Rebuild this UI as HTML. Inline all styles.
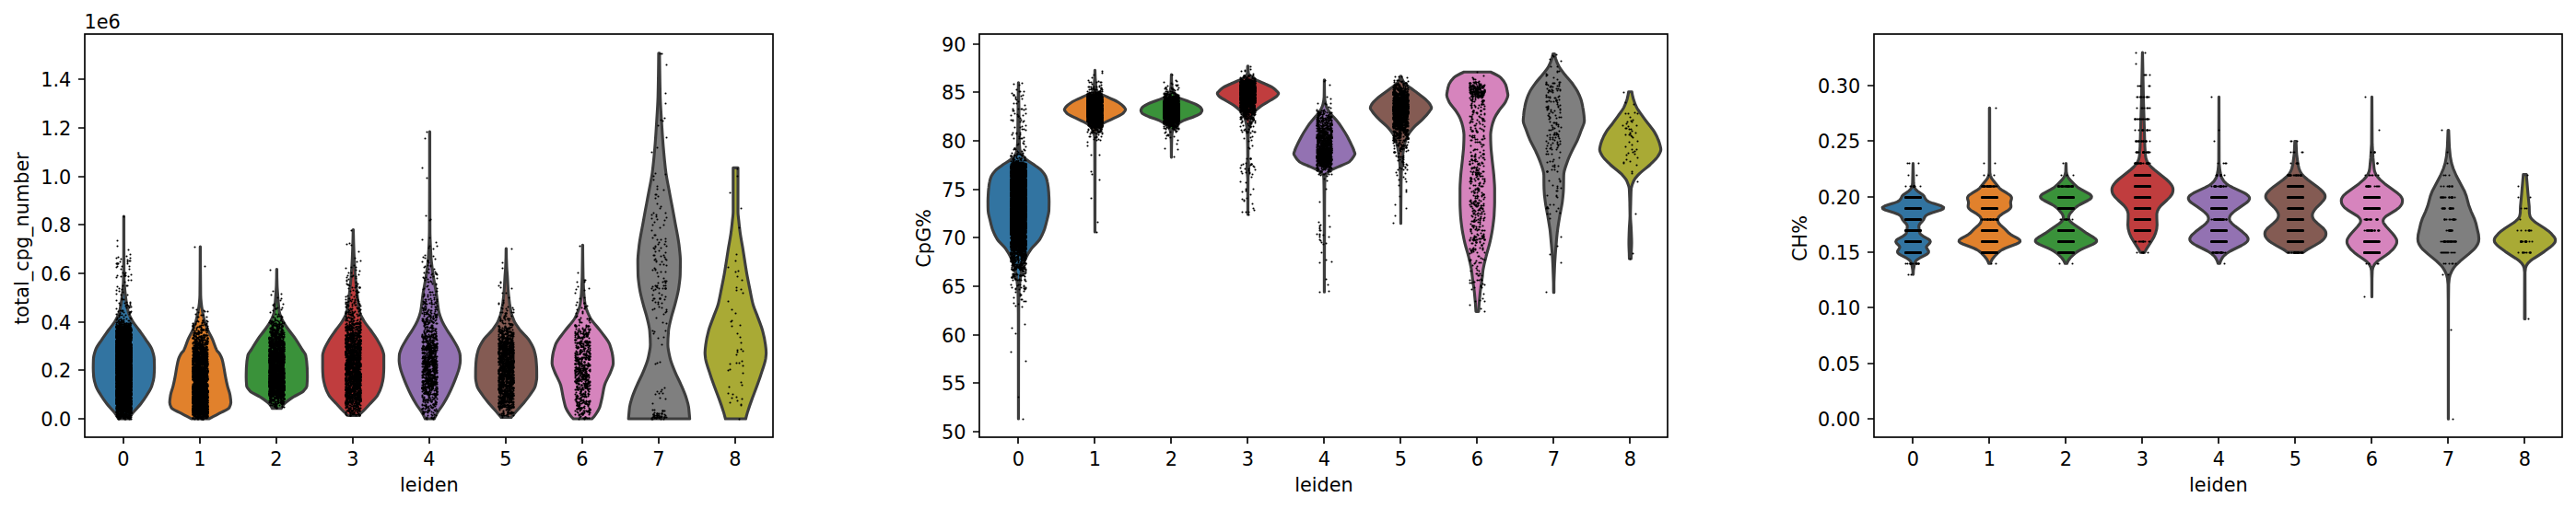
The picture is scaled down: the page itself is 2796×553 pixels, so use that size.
<!DOCTYPE html>
<html><head><meta charset="utf-8"><title>violin</title>
<style>html,body{margin:0;padding:0;background:#fff}svg{display:block}text{font-family:'DejaVu Sans','Liberation Sans',sans-serif;font-size:20.83px;fill:#000}</style></head>
<body>
<svg width="2796" height="553" viewBox="0 0 2796 553">
<rect width="2796" height="553" fill="#fff"/>
<g>
<clipPath id="c0"><rect x="92.4" y="36.9" width="747" height="437.9"/></clipPath>
<g clip-path="url(#c0)">
<g transform="translate(.5 .15)" stroke="#3d3d3d" stroke-width="3.125" stroke-linejoin="round">
<path d="M133.8 235H134C134 253.3 134 271.7 134.1 290C134.1 295 134.2 300 134.3 305C134.4 309.8 135 314.5 135.5 319.3C135.9 322.9 136.3 326.4 136.9 330C137.4 333 137.9 336 138.8 339C139.7 342.3 141.5 345.5 143.4 348.8C145.3 352.1 148.3 355.3 150.6 358.6C152.9 361.9 155.4 365.1 157.5 368.4C160 372.3 163.3 376.1 164.6 380C165.7 383.3 166.8 386.5 166.9 389.8C167 393.1 167.1 396.3 167.1 399.6C167.1 402.9 166.9 406.2 166.6 409.5C166.3 412.8 165.3 416 164.2 419.3C163.1 422.6 160.9 425.8 158.9 429.1C156.9 432.4 154.6 435.6 152.1 438.9C149.5 442.2 145.8 445.5 143.4 448.8C141.9 450.8 140.7 452.9 139.6 454.9H128.2C127.1 452.9 125.9 450.8 124.4 448.8C122 445.5 118.3 442.2 115.7 438.9C113.2 435.6 110.9 432.4 108.9 429.1C106.9 425.8 104.7 422.6 103.6 419.3C102.5 416 101.5 412.8 101.2 409.5C100.9 406.2 100.7 402.9 100.7 399.6C100.7 396.3 100.8 393.1 100.9 389.8C101 386.5 102.1 383.3 103.2 380C104.5 376.1 107.8 372.3 110.3 368.4C112.4 365.1 114.9 361.9 117.2 358.6C119.5 355.3 122.5 352.1 124.4 348.8C126.3 345.5 128.1 342.3 129 339C129.9 336 130.4 333 130.9 330C131.5 326.4 131.9 322.9 132.3 319.3C132.8 314.5 133.4 309.8 133.5 305C133.6 300 133.7 295 133.8 290C133.8 271.7 133.8 253.3 133.8 235Z" fill="#3274a1"/>
<path d="M216.8 268H217C217 285.3 217.1 302.7 217.3 320C217.3 323 217.6 326 217.9 329C218.2 332.3 218.8 335.7 219.4 339C220 342.3 220.7 345.5 221.6 348.8C222.5 352.1 223.8 355.3 225.2 358.6C226.6 361.9 228.7 365.1 230.1 368.4C231.8 372.3 232.6 376.1 234.6 380C235.5 381.6 237.3 383.3 238.2 384.9C239.1 386.5 240 388.2 240.5 389.8C241.5 393.1 242 396.3 242.6 399.6C243.2 402.9 243.7 406.2 244.3 409.5C244.9 412.8 245.6 416 246.4 419.3C247.2 422.6 248.7 425.8 249.2 429.1C249.6 431.7 250.1 434.4 250.1 437C250.1 439 249.3 440.9 248.3 442.9C247.3 444.9 241.5 446.8 237.9 448.8C234.2 450.8 230.3 452.9 226.2 454.9H207.6C203.5 452.9 199.6 450.8 195.9 448.8C192.3 446.8 186.5 444.9 185.5 442.9C184.5 440.9 183.7 439 183.7 437C183.7 434.4 184.2 431.7 184.6 429.1C185.1 425.8 186.6 422.6 187.4 419.3C188.2 416 188.9 412.8 189.5 409.5C190.1 406.2 190.6 402.9 191.2 399.6C191.8 396.3 192.3 393.1 193.3 389.8C193.8 388.2 194.7 386.5 195.6 384.9C196.5 383.3 198.3 381.6 199.2 380C201.2 376.1 202 372.3 203.7 368.4C205.1 365.1 207.2 361.9 208.6 358.6C210 355.3 211.3 352.1 212.2 348.8C213.1 345.5 213.8 342.3 214.4 339C215 335.7 215.6 332.3 215.9 329C216.2 326 216.5 323 216.5 320C216.7 302.7 216.8 285.3 216.8 268Z" fill="#e1812c"/>
<path d="M299.8 292.4H300C300 298.3 300.1 304.1 300.3 310C300.4 313.1 300.7 316.2 300.9 319.3C301.4 325.9 301.7 332.4 302.8 339C303.3 342.3 305 345.5 306.6 348.8C308.2 352.1 310.8 355.3 313.1 358.6C315.4 361.9 318.3 365.1 320.5 368.4C323.1 372.3 325.3 376.1 327.7 380C328.9 382 330.9 383.9 331.3 385.9C332.3 390.5 332.7 395 332.9 399.6C333 402.9 333.1 406.2 333.1 409.5C333.1 412.8 332.9 416 332.6 419.3C332.4 421.3 330.4 423.2 328.4 425.2C326.4 427.2 320.9 429.1 317.9 431.1C314 433.7 310 436.3 307.8 438.9C306.5 440.5 305.4 442 304.7 443.6H295.1C294.4 442 293.3 440.5 292 438.9C289.8 436.3 285.8 433.7 281.9 431.1C278.9 429.1 273.4 427.2 271.4 425.2C269.4 423.2 267.4 421.3 267.2 419.3C266.9 416 266.7 412.8 266.7 409.5C266.7 406.2 266.8 402.9 266.9 399.6C267.1 395 267.5 390.5 268.5 385.9C268.9 383.9 270.9 382 272.1 380C274.5 376.1 276.7 372.3 279.3 368.4C281.5 365.1 284.4 361.9 286.7 358.6C289 355.3 291.6 352.1 293.2 348.8C294.8 345.5 296.5 342.3 297 339C298.1 332.4 298.4 325.9 298.9 319.3C299.1 316.2 299.4 313.1 299.5 310C299.7 304.1 299.8 298.3 299.8 292.4Z" fill="#3a923a"/>
<path d="M382.8 249.4H383C383.1 259.6 383.5 269.8 383.9 280C384.2 286.5 384.6 293.1 385.1 299.6C385.6 306.2 386.3 312.7 387.1 319.3C387.9 325.9 388.4 332.4 389.9 339C390.7 342.3 392.8 345.5 394.7 348.8C396.6 352.1 399.6 355.3 401.9 358.6C404.2 361.9 406.7 365.1 408.6 368.4C410.9 372.3 413.3 376.1 414.6 380C415.2 382 416.1 383.9 416.1 385.9C416.1 390.5 416.1 395 416.1 399.6C416.1 402.9 415.9 406.2 415.6 409.5C415.3 412.8 414.5 416 413.6 419.3C412.7 422.6 411.3 425.8 409.4 429.1C407.5 432.4 403.8 435.6 400.8 438.9C398.4 441.5 396.1 444.2 393.4 446.8C391.9 448.3 390.2 449.7 388.4 451.2H377.4C375.6 449.7 373.9 448.3 372.4 446.8C369.7 444.2 367.4 441.5 365 438.9C362 435.6 358.3 432.4 356.4 429.1C354.5 425.8 353.1 422.6 352.2 419.3C351.3 416 350.5 412.8 350.2 409.5C349.9 406.2 349.7 402.9 349.7 399.6C349.7 395 349.7 390.5 349.7 385.9C349.7 383.9 350.6 382 351.2 380C352.5 376.1 354.9 372.3 357.2 368.4C359.1 365.1 361.6 361.9 363.9 358.6C366.2 355.3 369.2 352.1 371.1 348.8C373 345.5 375.1 342.3 375.9 339C377.4 332.4 377.9 325.9 378.7 319.3C379.5 312.7 380.2 306.2 380.7 299.6C381.2 293.1 381.6 286.5 381.9 280C382.3 269.8 382.7 259.6 382.8 249.4Z" fill="#c03d3e"/>
<path d="M465.8 143H466C466 178.7 466 214.3 466.2 250C466.2 260 466.8 270 467.4 280C467.8 286.5 468.9 293.1 469.8 299.6C470.7 306.2 472.2 312.7 473.2 319.3C474.2 325.9 474.5 332.4 475.9 339C476.6 342.3 477.9 345.5 479.3 348.8C480.7 352.1 482.8 355.3 484.8 358.6C486.8 361.9 489.2 365.1 491.1 368.4C493.4 372.3 496 376.1 497.3 380C498 382 498.8 383.9 498.9 385.9C499 387.9 499.1 389.8 499.1 391.8C499.1 394.4 498.4 397 497.9 399.6C497.2 402.9 495.8 406.2 494.6 409.5C493.4 412.8 492.1 416 490.7 419.3C489.3 422.6 487.8 425.8 486.1 429.1C484.4 432.4 482.6 435.6 480.6 438.9C478.6 442.2 475.8 445.5 473.9 448.8C472.7 450.8 471.7 452.9 470.8 454.9H461C460.1 452.9 459.1 450.8 457.9 448.8C456 445.5 453.2 442.2 451.2 438.9C449.2 435.6 447.4 432.4 445.7 429.1C444 425.8 442.5 422.6 441.1 419.3C439.7 416 438.4 412.8 437.2 409.5C436 406.2 434.6 402.9 433.9 399.6C433.4 397 432.7 394.4 432.7 391.8C432.7 389.8 432.8 387.9 432.9 385.9C433 383.9 433.8 382 434.5 380C435.8 376.1 438.4 372.3 440.7 368.4C442.6 365.1 445 361.9 447 358.6C449 355.3 451.1 352.1 452.5 348.8C453.9 345.5 455.2 342.3 455.9 339C457.3 332.4 457.6 325.9 458.6 319.3C459.6 312.7 461.1 306.2 462 299.6C462.9 293.1 464 286.5 464.4 280C465 270 465.6 260 465.6 250C465.8 214.3 465.8 178.7 465.8 143Z" fill="#9372b2"/>
<path d="M548.8 270H549C549 276.7 549.2 283.3 549.5 290C549.6 293.2 550 296.4 550.2 299.6C550.6 306.2 550.8 312.7 551.4 319.3C552 325.9 552.8 332.4 554.2 339C554.9 342.3 556.1 345.5 557.6 348.8C559.1 352.1 561.6 355.3 564.1 358.6C566.6 361.9 570.9 365.1 573.1 368.4C575.7 372.3 578 376.1 579.2 380C580.2 383.3 580.9 386.5 581.3 389.8C581.6 393.1 581.9 396.3 582 399.6C582.1 402.9 582.1 406.2 582.1 409.5C582.1 412.8 581.3 416 580.5 419.3C579.7 422.6 576.8 425.8 574.6 429.1C572.4 432.4 569.6 435.6 566.9 438.9C564.1 442.2 560.9 445.5 558.1 448.8C556.8 450.3 555.6 451.9 554.4 453.4H543.4C542.2 451.9 541 450.3 539.7 448.8C536.9 445.5 533.7 442.2 530.9 438.9C528.2 435.6 525.4 432.4 523.2 429.1C521 425.8 518.1 422.6 517.3 419.3C516.5 416 515.7 412.8 515.7 409.5C515.7 406.2 515.7 402.9 515.8 399.6C515.9 396.3 516.1 393.1 516.5 389.8C516.9 386.5 517.6 383.3 518.6 380C519.8 376.1 522.1 372.3 524.7 368.4C526.9 365.1 531.2 361.9 533.7 358.6C536.2 355.3 538.7 352.1 540.2 348.8C541.7 345.5 542.9 342.3 543.6 339C545 332.4 545.8 325.9 546.4 319.3C547 312.7 547.2 306.2 547.6 299.6C547.8 296.4 548.2 293.2 548.3 290C548.6 283.3 548.8 276.7 548.8 270Z" fill="#845b53"/>
<path d="M631.8 266.2H632C632 277.5 632.2 288.7 632.4 300C632.5 304.2 632.7 308.5 632.9 312.7C633.2 318.5 633.6 324.2 634.5 330C635.2 334.9 637.5 339.8 639.9 344.7C642.4 349.6 647.7 354.6 651.3 359.5C654.8 364.4 659.6 369.3 661.3 374.2C663 379.1 664.4 384.1 664.8 389C665 391 665.1 392.9 665.1 394.9C665.1 397.8 663.4 400.8 662.3 403.7C660.5 408.6 657.1 413.5 655.7 418.4C654.3 423.3 653.8 428.3 652.7 433.2C652 436.1 651.5 439.1 650.5 442C649.5 445 647.5 447.9 645.4 450.9C644.5 452.2 643.2 453.6 641.9 454.9H621.9C620.6 453.6 619.3 452.2 618.4 450.9C616.3 447.9 614.3 445 613.3 442C612.3 439.1 611.8 436.1 611.1 433.2C610 428.3 609.5 423.3 608.1 418.4C606.7 413.5 603.3 408.6 601.5 403.7C600.4 400.8 598.7 397.8 598.7 394.9C598.7 392.9 598.8 391 599 389C599.4 384.1 600.8 379.1 602.5 374.2C604.2 369.3 609 364.4 612.5 359.5C616.1 354.6 621.4 349.6 623.9 344.7C626.3 339.8 628.6 334.9 629.3 330C630.2 324.2 630.6 318.5 630.9 312.7C631.1 308.5 631.3 304.2 631.4 300C631.6 288.7 631.8 277.5 631.8 266.2Z" fill="#d684bd"/>
<path d="M714.4 57.6H715.4C715.4 64.2 715.5 70.9 715.6 77.5C715.7 86.7 715.9 95.8 716.1 105C716.4 114.2 717 123.3 717.6 132.5C718.2 141.7 718.7 150.8 719.5 160C720.3 169.2 721.1 178.3 722.3 187.5C723.3 194.8 725 202.2 726.3 209.5C728.1 219.3 730.1 229.2 731.8 239C733.5 248.8 735.8 258.6 736.8 268.4C737.3 273.3 738 278.3 738 283.2C738 288.1 737.9 293 737.8 297.9C737.7 302.8 736.9 307.8 736.2 312.7C735.4 318.5 733.8 324.2 732.3 330C731.1 334.9 729.3 339.8 728.1 344.7C726.9 349.6 725.5 354.6 725.1 359.5C724.7 364.4 724.4 369.3 724.4 374.2C724.4 379.1 725.7 384.1 726.8 389C727.9 393.9 730.1 398.8 732.1 403.7C734.1 408.6 736.8 413.5 738.9 418.4C741 423.3 743.2 428.3 744.7 433.2C745.6 436.1 746.5 439.1 746.9 442C747.3 445 747.5 447.9 747.8 450.9C747.9 452.2 748 453.6 748.1 454.9H681.7C681.8 453.6 681.9 452.2 682 450.9C682.3 447.9 682.5 445 682.9 442C683.3 439.1 684.2 436.1 685.1 433.2C686.6 428.3 688.8 423.3 690.9 418.4C693 413.5 695.7 408.6 697.7 403.7C699.7 398.8 701.9 393.9 703 389C704.1 384.1 705.4 379.1 705.4 374.2C705.4 369.3 705.1 364.4 704.7 359.5C704.3 354.6 702.9 349.6 701.7 344.7C700.5 339.8 698.7 334.9 697.5 330C696 324.2 694.4 318.5 693.6 312.7C692.9 307.8 692.1 302.8 692 297.9C691.9 293 691.8 288.1 691.8 283.2C691.8 278.3 692.5 273.3 693 268.4C694 258.6 696.3 248.8 698 239C699.7 229.2 701.7 219.3 703.5 209.5C704.8 202.2 706.5 194.8 707.5 187.5C708.7 178.3 709.5 169.2 710.3 160C711.1 150.8 711.6 141.7 712.2 132.5C712.8 123.3 713.4 114.2 713.7 105C713.9 95.8 714.1 86.7 714.2 77.5C714.3 70.9 714.4 64.2 714.4 57.6Z" fill="#7f7f7f"/>
<path d="M795.3 182.2H800.5C800.5 198.1 800.5 214.1 800.5 230C800.5 233 801 236 801.3 239C801.8 243.9 802.3 248.8 803 253.7C803.7 258.6 804.7 263.5 805.5 268.4C807.1 278.2 808.5 288.1 810.2 297.9C811.1 302.8 812.1 307.8 813.1 312.7C814.3 318.5 815.2 324.2 816.7 330C818 334.9 820.3 339.8 822.1 344.7C823.9 349.6 826 354.6 827.3 359.5C828.6 364.4 829.7 369.3 830.3 374.2C830.7 377.1 831.1 380.1 831.1 383C831.1 385 830.8 387 830.6 389C830 393.9 827.9 398.8 826.4 403.7C824.9 408.6 823.2 413.5 821.4 418.4C819.6 423.3 817.6 428.3 815.8 433.2C814 438.1 812.3 443.1 810.8 448C810.1 450.3 809.5 452.6 808.9 454.9H786.9C786.3 452.6 785.7 450.3 785 448C783.5 443.1 781.8 438.1 780 433.2C778.2 428.3 776.2 423.3 774.4 418.4C772.6 413.5 770.9 408.6 769.4 403.7C767.9 398.8 765.8 393.9 765.2 389C765 387 764.7 385 764.7 383C764.7 380.1 765.1 377.1 765.5 374.2C766.1 369.3 767.2 364.4 768.5 359.5C769.8 354.6 771.9 349.6 773.7 344.7C775.5 339.8 777.8 334.9 779.1 330C780.6 324.2 781.5 318.5 782.7 312.7C783.7 307.8 784.7 302.8 785.6 297.9C787.3 288.1 788.7 278.2 790.3 268.4C791.1 263.5 792.1 258.6 792.8 253.7C793.5 248.8 794 243.9 794.5 239C794.8 236 795.3 233 795.3 230C795.3 214.1 795.3 198.1 795.3 182.2Z" fill="#a9aa35"/>
</g>
<g fill="none" stroke="#000" stroke-linecap="round">
<path d="M134.5 235.5h0m-7 26h0m0 6h0m12 4h0m2 5h0m-4 2h0m-9 1h0m-2 1h0m15 0h0m-10 1h0m7 1h0m2 1h1m-11 1h0m8 0h0m-12 2h2m10 0h0m-11 3h0m5 0h0m8 0h0m-14 1h0m5 2h0m9 0h0m-7 4h0m3 0h0m-1 1h0m7 1h0m-15 1h0m8 0h1m-5 1h0m8 0h0m-13 1h0m13 3h0m3 0h0m-7 2h0m-2 4h0m4 0h1m-11 1h0m2 2h0m3 1h0m-6 1h0m3 1h0m4 1h0m-7 2h0m5 1h0m7 0h0m-6 4h0m0 1h0m2 0h0m-8 1h0m11 2h0m4 0h0m-12 1h0m6 0h0m6 0h0m-11 2h0m7 0h1m3 0h0m-5 1h0m3 0h0m1 1h0m2 0h0m-5 1h0m3 0h0m-14 1h0m4 2h0m2 0h1m-5 1h0m4 0h0m10 0h0m-8 1h0m6 0h1m-11 1h0m-4 1h0m14 0h0m-11 1h1m2 0h0m4 0h0m-7 2h0m5 0h0m-7 1h0m14 0h0m-14 1h0m4 0h0m6 0h0m5 0h0m-16 1h0m3 0h0m2 0h0m3 0h0m-6 1h0m4 0h0m7 0h1m-12 1h1m2 0h1m2 0h0m-8 1h1m3 0h0m2 0h0m2 0h0m7 0h0m-12 1h0m6 0h0m2 0h0m2 0h0m3 0h0m-16 1h0m4 0h5m4 0h2m-14 1h3m5 0h0m2 0h2m2 0h0m-15 1h0m2 0h0m2 0h0m2 0h0m2 0h4m2 0h0m-14 1h5m2 0h0m2 0h0m3 0h3m-14 1h0m2 0h2m2 0h1m2 0h3m3 0h0m-15 1h2m2 0h1m2 0h1m2 0h2m2 0h0m-15 1h7m2 0h2m2 0h0m2 0h1m-16 1h5m2 0h4m2 0h0m2 0h1m-16 1h16m-16 1h1m4 0h10m-15 1h15m-15 1h16m-16 1h3m2 0h9m2 0h0m-16 1h15m-15 1h4m2 0h2m2 0h6m-16 1h11m2 0h3m-15 1h9m2 0h4m-16 1h2m2 0h12m-16 1h6m2 0h6m-14 1h11m2 0h2m-15 1h7m2 0h6m-14 1h14m-15 1h2m2 0h12m-16 1h16m-16 1h16m-16 1h16m-16 1h16m-16 1h16m-16 1h16m-16 1h16m-16 1h12m2 0h2m-16 1h16m-16 1h16m-16 1h10m2 0h2m2 0h0m-16 1h16m-16 1h16m-16 1h3m2 0h0m2 0h9m-16 1h16m-16 1h12m2 0h2m-16 1h9m2 0h3m2 0h0m-16 1h16m-16 1h6m2 0h8m-16 1h7m2 0h7m-16 1h14m2 0h0m-16 1h16m-16 1h16m-16 1h15m-15 1h16m-16 1h16m-16 1h16m-16 1h3m2 0h11m-16 1h16m-16 1h16m-16 1h16m-16 1h16m-15 1h15m-16 1h16m-16 1h10m2 0h4m-16 1h16m-16 1h16m-16 1h2m2 0h12m-16 1h16m-16 1h15m-15 1h12m2 0h2m-16 1h12m2 0h2m-15 1h15m-16 1h4m2 0h9m-15 1h16m-16 1h2m2 0h12m-16 1h16m-16 1h6m2 0h7m-15 1h16m-16 1h11m2 0h3m-16 1h16m-16 1h8m2 0h6m-16 1h16m-16 1h16m-16 1h0m2 0h14m-16 1h15m-15 1h15m-14 1h2m2 0h0m2 0h9m-16 1h15m-15 1h6m2 0h3m2 0h2m-15 1h0m2 0h4m2 0h8m-16 1h4m2 0h4m3 0h3m-16 1h16m-16 1h5m2 0h9m-15 1h5m2 0h8m-15 1h2m2 0h7m2 0h2m-16 1h6m3 0h0m2 0h0m2 0h1m2 0h0m-16 1h11m2 0h3m-16 1h7m2 0h0m2 0h2m2 0h1m-16 1h0m4 0h2m3 0h2m3 0h0m-14 1h3m3 0h4m2 0h1m2 0h1m-15 1h9m2 0h0m2 0h2m-16 1h2m2 0h4m3 0h5m-16 1h0m5 0h2m4 0h0m2 0h3m-15 1h5m3 0h2m3 0h1m-15 1h1m3 0h6m2 0h0m2 0h1m-14 1h6m3 0h1m2 0h0m2 0h1m-16 1h4m2 0h5m2 0h2m-14 1h0m2 0h0m2 0h0m5 0h0m2 0h2m2 0h0m-14 1h2m3 0h2m3 0h1m2 0h0m-13 1h1m6 0h1m4 0h2" stroke-width="2.1"/>
<path d="M127.5 286.5h0m8 13h0m6 40h0m-9 9h0m-3 3h0m8 0h0m-7 1h1m4 0h0m5 0h0m-1 1h0m2 0h0m-15 1h0m4 0h0m4 0h0m2 0h2m2 0h0m-14 1h0m4 0h0m8 0h0m2 0h1m-14 1h0m4 0h0m2 0h0m5 0h1m-12 1h2m2 0h1m2 0h1m2 0h1m3 0h0m-13 1h0m2 0h0m3 0h0m2 0h1m3 0h0m2 0h1m-16 1h0m2 0h0m3 0h0m2 0h3m3 0h0m-13 1h4m3 0h1m2 0h0m2 0h3m-15 1h1m4 0h4m2 0h2m2 0h0m-15 1h1m3 0h0m2 0h3m2 0h0m2 0h0m2 0h0m-15 1h1m2 0h0m2 0h4m3 0h2m2 0h0m-16 1h3m2 0h2m2 0h5m2 0h0m-16 1h2m2 0h1m2 0h0m3 0h2m3 0h0m-15 1h4m2 0h2m3 0h2m2 0h1m-14 1h9m2 0h3m-15 1h5m3 0h1m2 0h3m-13 1h0m2 0h9m2 0h1m-16 1h1m2 0h3m2 0h3m3 0h0m-14 1h4m2 0h2m2 0h0m3 0h2m-15 1h5m2 0h0m2 0h0m3 0h0m2 0h1m-14 1h10m2 0h2m-15 1h2m2 0h0m2 0h10m-16 1h1m2 0h13m-16 1h0m2 0h0m2 0h11m-15 1h3m2 0h1m2 0h1m2 0h5m-16 1h0m2 0h5m2 0h7m-16 1h16m-16 1h4m2 0h7m2 0h1m-16 1h16m-16 1h2m2 0h1m2 0h5m2 0h2m-16 1h16m-16 1h3m2 0h11m-16 1h4m2 0h3m4 0h1m2 0h0m-16 1h16m-16 1h16m-16 1h3m2 0h0m3 0h8m-16 1h15m-15 1h12m2 0h2m-16 1h3m2 0h4m2 0h0m2 0h1m2 0h0m-15 1h15m-16 1h6m3 0h3m2 0h2m-16 1h2m2 0h3m2 0h0m2 0h4m-15 1h14m2 0h0m-16 1h16m-16 1h7m2 0h7m-16 1h2m2 0h0m2 0h2m2 0h5m-15 1h6m2 0h0m2 0h6m-16 1h0m2 0h4m2 0h0m2 0h4m2 0h0m-16 1h3m2 0h2m2 0h7m-16 1h3m2 0h1m2 0h0m2 0h0m2 0h1m2 0h1m-15 1h3m2 0h2m3 0h5m-16 1h7m2 0h7m-16 1h5m2 0h2m2 0h0m3 0h2m-15 1h15m-15 1h0m2 0h2m2 0h9m-16 1h1m3 0h12m-15 1h9m2 0h4m-16 1h6m2 0h1m2 0h5m-16 1h16m-16 1h0m4 0h0m2 0h10m-16 1h16m-16 1h15m-14 1h11m2 0h2m-16 1h12m2 0h2m-15 1h1m2 0h12m-16 1h1m2 0h1m2 0h9m-15 1h3m2 0h9m2 0h0m-16 1h2m2 0h5m3 0h4m-15 1h5m3 0h7m-15 1h5m3 0h6m-15 1h0m3 0h0m3 0h0m2 0h8m-16 1h1m2 0h0m2 0h0m2 0h4m2 0h3m-16 1h0m2 0h0m2 0h1m2 0h8m-15 1h8m2 0h5m-15 1h2m2 0h5m2 0h1m2 0h2m-16 1h2m3 0h3m2 0h0m2 0h0m2 0h2m-16 1h0m2 0h4m2 0h5m2 0h1m-16 1h1m2 0h0m2 0h10m-15 1h3m3 0h5m2 0h2m-14 1h0m2 0h0m2 0h0m2 0h2m2 0h0m2 0h0m2 0h1m-16 1h6m2 0h7m-15 1h0m3 0h0m2 0h1m2 0h3m2 0h2m-15 1h0m2 0h1m3 0h0m2 0h3m2 0h0m2 0h1m-15 1h1m2 0h0m2 0h4m3 0h1m2 0h0m-16 1h1m2 0h12m-15 1h0m2 0h0m2 0h1m3 0h3m2 0h1m2 0h0m-15 1h0m2 0h0m3 0h0m2 0h0m2 0h0m2 0h1m3 0h0m-15 1h1m3 0h2m3 0h0m2 0h0m2 0h1m-14 1h0m3 0h2m5 0h0m2 0h1m-13 1h4m2 0h3m4 0h1m-15 1h2m2 0h1m2 0h0m4 0h0m2 0h0m3 0h0m-12 1h1m9 0h0m-13 1h0m2 0h0m3 0h2m2 0h0m2 0h0m3 0h1m-15 1h0m2 0h1m2 0h4m-10 1h1m4 0h0m2 0h0m4 0h0m-4 1h0m4 0h0m2 0h3m-14 1h0m2 0h0m5 0h0m5 0h0m-13 1h0m3 0h0m5 0h0m-8 1h0m2 0h1m3 0h0m-5 1h0m2 0h0m3 0h1m2 0h1m-1 1h0m3 0h1m-11 1h1" stroke-width="2.6"/>
<path d="M134.5 354.5h0m3 0h0m-11 1h0m4 0h0m8 0h0m2 0h0m-9 1h0m2 0h0m-6 1h0m2 0h0m2 0h0m6 0h0m4 0h0m-5 1h0m3 0h0m2 0h1m-16 1h0m2 0h0m8 0h0m3 0h0m-12 1h2m4 0h1m2 0h0m2 0h0m2 0h1m-9 1h1m2 0h0m2 0h1m3 0h0m-14 1h0m5 0h0m2 0h1m4 0h0m-12 1h0m2 0h0m2 0h2m2 0h0m3 0h1m3 0h0m-14 1h1m2 0h1m3 0h0m2 0h2m-13 1h2m5 0h0m3 0h2m-12 1h1m5 0h2m4 0h0m4 0h0m-14 1h0m3 0h2m2 0h2m2 0h0m2 0h0m-14 1h2m2 0h0m5 0h0m4 0h1m-11 1h2m2 0h0m2 0h2m3 0h0m-15 1h0m3 0h3m2 0h3m3 0h0m-12 1h2m3 0h1m2 0h0m3 0h2m-15 1h5m2 0h0m2 0h0m3 0h0m2 0h1m-14 1h5m3 0h2m3 0h0m-14 1h1m3 0h0m2 0h0m3 0h7m-15 1h0m2 0h10m2 0h0m-15 1h0m4 0h1m4 0h2m2 0h0m2 0h0m-15 1h3m2 0h1m2 0h1m2 0h0m2 0h3m-16 1h0m2 0h4m5 0h3m2 0h0m-16 1h6m3 0h1m2 0h3m-15 1h0m2 0h2m2 0h0m2 0h5m2 0h1m-16 1h6m2 0h4m2 0h2m-16 1h0m2 0h0m2 0h0m3 0h3m2 0h0m2 0h0m2 0h0m-14 1h6m2 0h2m2 0h2m-15 1h2m2 0h0m2 0h1m2 0h2m3 0h0m-15 1h4m2 0h0m2 0h1m4 0h1m2 0h0m-16 1h6m3 0h1m2 0h4m-16 1h2m4 0h5m3 0h0m-13 1h1m3 0h0m3 0h3m2 0h3m-16 1h1m2 0h1m4 0h7m-15 1h3m2 0h7m2 0h2m-16 1h2m3 0h4m4 0h0m3 0h0m-14 1h8m2 0h4m-16 1h4m2 0h0m3 0h3m3 0h0m-14 1h1m3 0h2m2 0h0m2 0h3m-14 1h8m2 0h1m2 0h1m-13 1h0m2 0h2m2 0h2m3 0h1m2 0h0m-15 1h4m3 0h0m2 0h0m2 0h2m3 0h0m-15 1h1m6 0h0m2 0h2m3 0h0m-13 1h1m2 0h1m2 0h0m2 0h1m2 0h0m2 0h1m-16 1h0m2 0h1m3 0h0m2 0h0m2 0h1m2 0h1m2 0h0m-15 1h1m3 0h2m2 0h7m-16 1h3m2 0h1m2 0h0m2 0h0m5 0h1m-15 1h3m3 0h1m3 0h5m-16 1h0m2 0h1m2 0h2m2 0h2m3 0h2m-16 1h0m2 0h3m2 0h0m2 0h0m5 0h1m-14 1h0m2 0h9m2 0h2m-15 1h0m2 0h2m2 0h0m2 0h2m2 0h1m2 0h0m-16 1h0m4 0h1m2 0h1m2 0h1m2 0h3m-15 1h2m2 0h1m2 0h1m3 0h0m2 0h2m-16 1h2m2 0h2m2 0h0m3 0h4m-15 1h2m3 0h1m3 0h5m-14 1h0m4 0h0m3 0h9m-15 1h4m2 0h5m2 0h1m-14 1h0m2 0h2m4 0h0m2 0h4m-13 1h10m3 0h1m-16 1h1m3 0h1m2 0h2m2 0h1m3 0h0m-14 1h1m2 0h2m2 0h1m2 0h5m-15 1h0m2 0h1m2 0h1m2 0h2m3 0h1m-14 1h2m2 0h4m2 0h3m2 0h0m-16 1h0m2 0h0m2 0h2m2 0h1m4 0h2m-13 1h0m2 0h2m4 0h2m2 0h1m-14 1h5m3 0h0m2 0h4m-12 1h0m5 0h1m2 0h1m2 0h0m2 0h0m-16 1h0m3 0h0m2 0h0m2 0h1m3 0h0m2 0h0m-13 1h0m2 0h0m2 0h1m3 0h7m-15 1h1m5 0h0m2 0h0m2 0h2m2 0h1m-15 1h2m5 0h2m3 0h0m2 0h2m-16 1h2m3 0h1m4 0h0m2 0h0m2 0h2m-16 1h0m2 0h1m2 0h0m3 0h1m3 0h1m2 0h0m-14 1h0m4 0h4m4 0h2m-14 1h0m5 0h0m2 0h2m3 0h2m-12 1h0m2 0h0m2 0h1m3 0h0m2 0h0m2 0h1m-16 1h1m4 0h1m2 0h4m3 0h0m-12 1h0m3 0h0m2 0h3m3 0h1m-15 1h0m2 0h1m3 0h0m3 0h1m3 0h0m2 0h1m-15 1h1m8 0h0m3 0h0m-13 1h0m4 0h2m3 0h1m3 0h0m-13 1h0m4 0h0m4 0h0m2 0h1m2 0h1m2 0h0m-15 1h0m2 0h0m3 0h0m2 0h0m2 0h0m2 0h0m-10 1h0m3 0h0m2 0h0m7 0h0m-13 1h0m12 0h1m-13 1h0m2 0h2m2 0h0m2 0h1m5 0h0m-14 1h0m10 0h0m2 0h0m3 0h0m-12 1h0m10 0h0m-6 1h0m4 0h0m3 0h0m-11 1h0m3 0h0m2 0h1m-3 1h0m4 0h0m0 1h0m5 0h0m-14 1h0m1 2h0m4 0h0m-5 1h0m2 0h0m6 0h0m3 1h1" stroke-width="3.0"/>
<path d="M211.5 268.5h0m11 21h0m-13 45h0m4 2h0m8 1h0m1 1h0m3 0h0m-10 1h0m-3 2h0m6 1h0m2 0h0m-6 2h1m9 0h0m-10 4h0m6 0h0m4 0h0m-11 1h0m2 0h0m10 0h0m-6 1h0m2 0h0m-12 1h0m3 0h0m7 0h0m5 0h0m-12 1h0m10 0h0m2 0h0m-15 1h1m8 0h0m2 0h0m3 0h0m-14 1h0m7 0h1m8 0h0m-11 1h0m2 0h0m2 0h0m-8 1h0m3 0h0m5 0h0m7 0h0m-6 1h0m4 0h1m-15 1h0m4 0h0m5 0h0m2 0h1m3 0h0m-13 1h0m4 0h0m4 0h0m4 0h0m2 0h0m-9 1h0m-6 1h2m2 0h2m2 0h0m6 0h0m-14 1h6m-6 1h0m3 0h0m2 0h0m6 0h0m-11 1h0m10 0h1m2 0h2m-13 1h0m4 0h0m2 0h0m3 0h0m-11 1h0m3 0h0m2 0h0m2 0h0m2 0h0m2 0h1m-13 1h1m4 0h0m4 0h1m2 0h0m4 0h0m-14 1h2m2 0h1m3 0h0m6 0h0m-14 1h2m3 0h7m-11 1h2m3 0h3m4 0h1m-15 1h0m2 0h1m3 0h0m3 0h0m4 0h2m-16 1h1m2 0h2m2 0h0m3 0h1m2 0h0m2 0h0m-15 1h0m3 0h2m2 0h3m3 0h0m2 0h1m-13 1h1m2 0h0m4 0h1m2 0h0m-12 1h0m2 0h1m2 0h5m-9 1h3m5 0h1m3 0h1m-15 1h0m4 0h1m2 0h5m2 0h1m-15 1h5m2 0h0m3 0h0m2 0h0m2 0h0m-14 1h0m2 0h1m2 0h0m2 0h1m2 0h1m3 0h0m2 0h0m-14 1h0m3 0h0m3 0h1m2 0h3m2 0h0m-16 1h5m3 0h3m3 0h0m-14 1h2m2 0h9m2 0h0m-13 1h2m2 0h3m2 0h1m3 0h1m-15 1h1m3 0h1m2 0h2m3 0h2m-15 1h0m3 0h4m2 0h1m2 0h1m2 0h1m-16 1h2m2 0h0m2 0h0m4 0h5m-14 1h1m2 0h1m2 0h3m2 0h0m2 0h2m-15 1h7m3 0h4m-15 1h5m2 0h1m2 0h5m-15 1h0m3 0h2m2 0h5m2 0h2m-16 1h0m2 0h1m3 0h2m2 0h0m3 0h2m-15 1h7m3 0h4m2 0h0m-16 1h2m2 0h2m2 0h5m2 0h1m-16 1h1m3 0h8m2 0h2m-16 1h1m3 0h9m2 0h1m-16 1h3m2 0h3m2 0h6m-13 1h5m4 0h4m-14 1h0m2 0h1m2 0h0m2 0h1m2 0h3m-15 1h4m2 0h3m2 0h0m2 0h0m2 0h0m-13 1h1m2 0h2m2 0h0m2 0h5m-16 1h0m2 0h8m2 0h1m3 0h0m-16 1h5m2 0h1m2 0h1m2 0h0m2 0h1m-16 1h0m2 0h7m3 0h4m-15 1h5m3 0h6m-15 1h1m3 0h9m2 0h1m-16 1h0m3 0h3m3 0h6m-15 1h4m2 0h0m2 0h0m2 0h0m2 0h3m-14 1h2m2 0h11m-16 1h1m2 0h3m2 0h1m2 0h3m2 0h0m-15 1h7m3 0h0m2 0h3m-16 1h0m2 0h2m2 0h7m3 0h0m-16 1h2m2 0h7m2 0h0m2 0h1m-14 1h4m2 0h1m2 0h1m2 0h1m-14 1h3m2 0h0m2 0h1m3 0h1m-11 1h1m2 0h2m2 0h0m2 0h1m2 0h0m-12 1h0m2 0h11m-15 1h2m2 0h8m2 0h2m-16 1h0m2 0h1m3 0h4m2 0h4m-16 1h0m2 0h2m2 0h10m-16 1h2m2 0h0m2 0h0m2 0h0m3 0h0m2 0h1m-14 1h0m2 0h1m2 0h8m2 0h0m-15 1h0m2 0h13m-15 1h3m2 0h0m2 0h8m-14 1h4m3 0h0m3 0h0m2 0h1m2 0h0m-16 1h1m2 0h13m-16 1h0m3 0h13m-15 1h1m2 0h1m2 0h1m2 0h5m-15 1h7m2 0h7m-15 1h8m2 0h0m2 0h3m-16 1h6m2 0h4m2 0h1m-15 1h0m2 0h10m2 0h2m-16 1h1m2 0h1m2 0h2m2 0h1m2 0h3m-16 1h4m2 0h0m2 0h2m2 0h4m-16 1h10m2 0h4m-15 1h3m2 0h3m3 0h4m-16 1h0m2 0h11m2 0h0m-15 1h16m-16 1h9m2 0h4m-15 1h0m2 0h14m-16 1h12m3 0h0m-15 1h7m2 0h7m-16 1h16m-16 1h1m2 0h1m2 0h0m2 0h7m-15 1h7m2 0h3m2 0h2m-16 1h15m-15 1h0m2 0h5m2 0h1m3 0h3m-14 1h0m2 0h0m2 0h0m2 0h8m-16 1h1m2 0h13m-16 1h4m3 0h0m2 0h2m2 0h3m-16 1h5m3 0h0m2 0h2m2 0h0m-12 1h0m3 0h3m3 0h5m-15 1h0m2 0h0m2 0h1m3 0h0m2 0h2m2 0h1m-13 1h0m2 0h0m2 0h0m2 0h0m2 0h0m3 0h2m-16 1h0m3 0h0m2 0h1m2 0h0m2 0h0m3 0h0m2 0h0m-13 1h0m3 0h1m3 0h2" stroke-width="2.1"/>
<path d="M220.5 348.5h0m-11 6h0m9 4h0m2 0h0m-2 3h0m-8 3h0m13 0h0m-11 1h0m6 0h0m-9 2h0m16 0h0m-13 3h0m5 0h0m-5 1h0m13 0h0m-12 1h0m3 0h0m8 0h0m-12 1h0m4 0h0m8 0h0m-11 1h0m2 0h0m7 0h0m-10 1h0m1 1h0m6 0h1m-7 1h1m2 0h0m2 0h2m4 0h0m-15 1h3m2 0h0m5 0h0m4 0h0m-12 1h1m5 0h0m2 0h1m3 0h0m-1 1h0m-11 1h3m5 0h0m4 0h0m-12 1h0m4 0h0m4 0h1m-9 1h0m4 0h0m6 0h0m3 0h0m-14 1h1m4 0h0m3 0h0m5 0h1m-11 1h0m5 0h1m3 0h0m2 0h0m-9 1h0m5 0h0m2 0h1m-13 1h1m6 0h2m2 0h0m2 0h0m-13 1h1m2 0h0m4 0h0m3 0h1m3 0h0m-15 1h1m2 0h0m2 0h0m5 0h0m4 0h1m-10 1h0m2 0h0m4 0h0m-11 1h0m8 0h0m5 0h2m-15 1h1m4 0h1m4 0h0m2 0h2m-14 1h0m4 0h0m4 0h1m3 0h1m2 0h0m-11 1h1m2 0h2m-9 1h1m4 0h1m2 0h4m4 0h0m-16 1h0m3 0h0m3 0h0m2 0h0m5 0h2m-12 1h0m2 0h0m8 0h1m-12 1h0m13 0h0m-15 1h0m3 0h0m3 0h1m6 0h0m-11 1h0m4 0h0m3 0h0m3 0h1m-13 1h0m2 0h1m3 0h0m2 0h0m2 0h0m2 0h1m-12 1h0m2 0h2m6 0h0m2 0h0m-13 1h0m3 0h0m5 0h0m4 0h0m4 0h0m-15 1h0m8 0h1m2 0h2m-14 1h1m3 0h1m2 0h3m2 0h1m2 0h0m-12 1h0m8 0h4m-15 1h4m2 0h0m2 0h0m6 0h1m-14 1h0m2 0h0m2 0h1m2 0h0m4 0h3m-15 1h0m4 0h2m2 0h1m4 0h1m-12 1h2m2 0h1m8 0h0m-13 1h0m5 0h5m4 0h0m-16 1h0m2 0h0m2 0h7m5 0h0m-14 1h1m2 0h1m5 0h1m3 0h0m-13 1h1m3 0h0m2 0h1m3 0h1m-11 1h1m2 0h0m4 0h0m2 0h0m3 0h0m-10 1h2m2 0h1m2 0h1m2 0h0m-13 1h0m3 0h2m2 0h1m2 0h0m3 0h1m-13 1h1m3 0h2m2 0h0m3 0h0m2 0h0m-15 1h0m2 0h0m2 0h0m3 0h1m3 0h5m-16 1h0m2 0h0m2 0h0m2 0h0m7 0h0m-13 1h0m6 0h3m3 0h0m-12 1h0m3 0h0m2 0h1m2 0h0m3 0h2m2 0h0m-15 1h0m7 0h2m3 0h3m-14 1h3m4 0h0m5 0h0m3 0h0m-16 1h0m3 0h0m3 0h0m2 0h2m2 0h0m4 0h0m-16 1h0m3 0h2m2 0h1m2 0h0m2 0h0m2 0h2m-15 1h1m2 0h0m3 0h0m3 0h5m-15 1h7m2 0h0m2 0h4m-14 1h1m2 0h1m3 0h1m2 0h0m2 0h0m2 0h0m-15 1h4m2 0h0m2 0h2m2 0h0m2 0h1m-15 1h0m4 0h2m3 0h0m2 0h1m2 0h2m-16 1h0m4 0h0m2 0h2m2 0h1m4 0h0m-15 1h0m2 0h0m2 0h0m2 0h0m2 0h1m4 0h0m-13 1h1m4 0h4m3 0h3m-14 1h3m2 0h1m2 0h0m3 0h4m-16 1h0m2 0h0m4 0h0m2 0h0m2 0h1m2 0h0m2 0h0m-15 1h5m2 0h1m3 0h3m2 0h0m-15 1h1m2 0h5m2 0h4m-13 1h1m3 0h7m2 0h0m-14 1h0m4 0h1m2 0h4m-12 1h1m2 0h0m3 0h0m3 0h7m-15 1h1m2 0h1m5 0h2m2 0h1m-15 1h1m3 0h0m4 0h4m2 0h1m-15 1h0m3 0h1m3 0h0m2 0h2m3 0h2m-16 1h1m3 0h4m2 0h1m2 0h1m-14 1h0m2 0h0m2 0h0m2 0h1m2 0h1m3 0h2m-9 1h0m2 0h0m2 0h1m2 0h0m3 0h0m-16 1h1m4 0h1m4 0h4m-12 1h0m5 0h0m3 0h1m2 0h0m2 0h1m-16 1h0m5 0h0m7 0h0m-10 1h0m3 0h0m3 0h0m3 0h1m2 0h0m-8 1h0m3 0h0m3 0h0m4 0h0m-13 1h0m2 0h0m4 0h0m2 0h0m4 0h0m-15 1h0m11 1h0" stroke-width="2.6"/>
<path d="M216.5 372.5h0m8 0h0m-12 1h0m4 0h0m8 0h0m-12 2h0m8 2h0m-10 1h0m9 0h0m-7 1h0m10 1h0m-3 2h0m-4 1h0m6 0h0m-11 1h0m5 0h0m8 0h0m-10 1h0m6 0h0m3 0h0m-7 1h0m-5 1h0m1 1h0m2 0h0m8 0h0m3 0h0m-14 1h0m10 1h0m4 1h0m-9 1h0m6 0h0m-4 1h0m5 0h0m-9 1h1m2 0h0m-2 1h1m2 0h0m-6 3h0m-2 1h0m7 0h0m-5 1h0m10 0h0m-9 1h0m9 0h1m-10 1h1m9 0h0m-13 1h0m3 0h0m5 0h0m8 0h0m-15 1h0m9 0h0m2 0h0m-3 1h0m4 0h0m0 1h0m-7 1h0m2 0h0m6 0h1m-10 1h1m2 0h0m4 0h1m2 0h0m-15 1h0m14 0h0m-12 1h2m11 0h0m-7 1h2m-4 1h0m4 0h0m-8 1h0m3 0h1m9 0h0m-12 1h0m5 0h0m4 0h1m-11 1h0m3 1h0m3 0h0m3 0h1m-7 1h0m3 0h1m2 0h0m-9 1h1m4 0h1m2 0h0m3 0h0m2 0h0m0 1h0m-2 1h0m-13 1h0m7 0h2m-6 1h0m2 0h0m3 0h0m5 0h0m2 0h0m-8 1h2m3 0h0m-9 1h1m4 0h0m-8 1h0m8 0h0m4 0h0m4 0h0m-16 1h0m3 0h0m2 0h0m5 0h0m2 0h0m2 0h1m-14 1h1m2 0h0m8 0h0m2 0h1m-13 1h1m2 0h0m2 0h0m6 0h0m2 0h0m-10 1h0m3 0h0m3 0h0m4 0h0m-14 1h3m2 0h0m2 0h2m2 0h0m-8 1h1m11 0h0m-6 1h0m5 0h0m-15 1h0m2 0h0m4 0h0m7 0h0m-13 1h1m4 0h0m2 0h2m-8 1h1m2 0h0m2 0h0m6 0h2m-12 1h0m4 0h0m2 0h0m2 0h0m3 0h0m2 0h0m-15 1h5m2 0h1m3 0h2m-11 1h0m2 0h3m6 0h1m-8 1h2m2 0h2m-11 1h0m4 0h1m3 0h3m-11 1h0m2 0h0m3 0h0m3 0h0m2 0h2m3 0h0m-15 1h0m3 0h1m6 0h1m2 0h0m-10 1h0m6 0h0m2 0h0m3 0h0m-15 1h0m4 0h0m7 0h0m4 0h1m-16 1h1m3 0h0m3 0h1m2 0h0m3 0h0m-13 1h0m2 0h0m5 0h0m2 0h1m3 0h0m0 1h0m3 0h0m-10 1h0m8 0h0m-7 1h0m3 0h0m3 0h0m2 0h0m-13 2h0m10 0h0m-7 2h0" stroke-width="3.0"/>
<path d="M293.5 293.5h0m3 23h0m9 3h0m-11 1h0m7 3h0m4 1h0m-1 2h0m-7 4h0m10 0h0m-11 1h0m1 1h0m4 2h0m5 0h0m-7 1h0m6 1h0m-9 1h0m-3 2h0m6 2h0m3 0h0m-1 2h0m2 0h0m2 0h0m-9 1h0m5 0h0m4 0h1m-8 1h0m7 1h0m-7 1h1m6 0h0m-12 1h0m6 0h0m2 0h0m3 0h0m-10 1h1m2 0h0m5 0h0m4 0h0m-14 1h0m4 0h0m7 0h0m5 0h0m-14 1h0m3 0h0m2 0h0m4 0h0m3 0h0m2 0h0m-12 1h0m5 0h1m2 0h1m-10 1h0m2 0h3m3 0h0m-7 1h0m3 0h2m2 0h0m3 0h0m-11 1h1m7 0h0m-10 1h0m7 0h2m2 0h1m-12 1h1m2 0h1m4 0h1m4 0h0m-11 1h0m2 0h0m2 0h1m5 0h0m-10 1h1m4 0h2m3 0h2m-14 1h2m3 0h1m5 0h1m-12 1h0m2 0h1m4 0h1m4 0h1m2 0h0m-14 1h4m2 0h0m3 0h0m4 0h0m-13 1h2m2 0h0m2 0h0m3 0h0m2 0h1m2 0h0m-14 1h6m3 0h0m2 0h0m-10 1h2m3 0h0m2 0h0m3 0h1m2 0h0m-16 1h0m2 0h1m3 0h6m2 0h2m-16 1h2m4 0h1m2 0h1m2 0h0m-12 1h0m3 0h2m2 0h5m3 0h0m-13 1h2m3 0h0m3 0h0m2 0h1m-13 1h0m2 0h0m2 0h0m2 0h0m2 0h0m2 0h5m-15 1h3m6 0h2m2 0h1m2 0h0m-16 1h1m3 0h12m-15 1h5m2 0h0m2 0h4m2 0h0m-15 1h1m2 0h0m2 0h8m2 0h0m-16 1h11m2 0h0m3 0h0m-16 1h2m2 0h0m3 0h0m2 0h3m3 0h0m-13 1h1m3 0h1m3 0h0m2 0h0m2 0h2m-15 1h1m3 0h3m2 0h5m-15 1h1m4 0h6m2 0h3m-16 1h2m3 0h4m2 0h1m2 0h1m-15 1h2m2 0h1m2 0h1m3 0h5m-15 1h4m4 0h1m3 0h2m-14 1h8m2 0h4m-15 1h3m2 0h6m2 0h3m-15 1h2m2 0h0m2 0h9m-16 1h0m2 0h9m3 0h0m2 0h0m-16 1h4m2 0h0m2 0h5m3 0h0m-14 1h4m2 0h3m3 0h2m-16 1h2m2 0h12m-16 1h4m2 0h4m2 0h1m2 0h1m-16 1h3m2 0h1m2 0h2m2 0h2m2 0h0m-16 1h1m2 0h1m3 0h0m3 0h3m2 0h1m-16 1h4m5 0h7m-16 1h1m2 0h2m3 0h1m2 0h5m-16 1h8m3 0h4m-15 1h0m3 0h9m2 0h1m-15 1h10m2 0h3m-15 1h4m2 0h0m2 0h5m-13 1h6m3 0h3m2 0h1m-15 1h1m2 0h6m2 0h0m2 0h3m-16 1h14m2 0h0m-16 1h3m2 0h4m2 0h5m-16 1h4m2 0h1m2 0h3m2 0h2m-16 1h7m3 0h2m2 0h0m-14 1h2m2 0h3m2 0h7m-15 1h1m2 0h12m-16 1h8m2 0h2m2 0h1m-15 1h6m2 0h8m-16 1h4m2 0h2m2 0h0m2 0h3m-15 1h0m2 0h0m2 0h5m2 0h5m-16 1h11m2 0h3m-16 1h1m3 0h1m2 0h1m2 0h5m-15 1h1m2 0h6m2 0h3m2 0h0m-16 1h9m2 0h3m2 0h0m-16 1h2m2 0h12m-16 1h10m2 0h1m2 0h1m-16 1h16m-16 1h4m2 0h5m2 0h3m-16 1h0m2 0h14m-16 1h10m3 0h1m2 0h0m-16 1h10m2 0h0m2 0h2m-14 1h2m2 0h10m-16 1h5m3 0h2m2 0h0m2 0h2m-16 1h0m4 0h2m2 0h8m-16 1h8m3 0h4m-14 1h2m2 0h1m3 0h6m-15 1h2m2 0h2m2 0h7m-15 1h0m4 0h0m2 0h2m2 0h3m2 0h1m-16 1h0m2 0h3m2 0h9m-16 1h4m6 0h5m-13 1h0m3 0h0m2 0h2m3 0h0m2 0h0m-13 1h1m4 0h4m2 0h1m2 0h0m-14 1h0m5 0h0m3 0h1m2 0h0m4 0h0m-13 1h2m4 0h0m4 0h0m-13 1h1m3 0h0m6 0h0m3 0h2m-14 1h1m4 0h3m4 0h0m2 0h1m-16 1h0m2 0h0m4 0h0m4 0h0m2 0h3m-13 1h0m2 0h0m3 0h0m2 0h0m4 0h0m2 0h0m-11 1h4m6 0h0m-13 1h0m2 0h0m3 0h2m3 0h0m-6 1h0m3 0h0m6 0h0m-8 1h2m6 0h0m2 0h0m-8 1h0" stroke-width="2.1"/>
<path d="M299.5 335.5h0m-4 14h0m-1 2h0m5 0h0m2 3h0m5 0h0m-11 1h0m-1 2h0m8 0h0m-5 1h0m9 1h0m-13 1h0m6 0h0m-3 1h0m5 0h0m-4 1h1m-2 1h0m2 0h0m2 0h0m3 0h0m2 0h0m-7 1h0m7 0h0m-7 2h0m2 0h0m3 0h0m3 0h0m-14 1h1m6 0h0m3 0h0m-10 1h0m4 0h0m4 0h0m-5 1h0m-1 1h0m4 0h0m2 0h0m4 0h2m-13 1h0m2 0h0m11 0h0m-14 1h1m3 0h0m2 0h2m4 0h2m-11 1h0m2 0h0m3 0h0m2 0h0m6 0h0m-15 1h1m2 0h0m4 0h0m2 0h4m2 0h0m-14 1h3m4 0h2m-9 1h0m2 0h0m5 0h2m4 0h0m-12 1h0m12 0h1m-11 1h2m3 0h2m2 0h0m-14 1h0m6 0h0m3 0h0m2 0h0m3 0h2m-15 1h1m3 0h0m9 0h0m-14 1h2m3 0h0m3 0h0m7 0h1m-15 1h0m2 0h2m4 0h0m4 0h2m-14 1h2m2 0h2m4 0h0m2 0h0m-13 1h0m2 0h1m2 0h0m4 0h2m2 0h1m-13 1h1m3 0h0m2 0h5m3 0h0m-15 1h0m2 0h0m2 0h2m2 0h1m5 0h0m-12 1h2m4 0h0m2 0h0m2 0h0m4 0h0m-14 1h0m3 0h0m4 0h2m3 0h2m-16 1h2m2 0h0m2 0h2m2 0h5m-14 1h0m3 0h0m2 0h0m2 0h1m3 0h1m2 0h1m-16 1h0m2 0h1m2 0h1m2 0h0m6 0h0m-13 1h0m2 0h1m3 0h0m3 0h0m2 0h1m-13 1h2m2 0h0m5 0h2m2 0h3m-15 1h0m2 0h2m4 0h0m4 0h2m-14 1h1m6 0h0m4 0h3m-12 1h0m2 0h5m2 0h0m2 0h0m-13 1h0m3 0h0m2 0h1m2 0h0m3 0h0m2 0h1m-14 1h3m2 0h0m2 0h1m2 0h0m2 0h0m-12 1h0m3 0h0m2 0h0m3 0h2m-10 1h0m3 0h4m3 0h0m2 0h2m-14 1h0m2 0h2m7 0h0m2 0h0m-14 1h1m4 0h0m4 0h0m3 0h0m2 0h1m-15 1h3m3 0h0m5 0h0m4 0h0m-15 1h2m2 0h0m2 0h1m3 0h2m2 0h0m-12 1h0m4 0h1m2 0h2m3 0h2m-15 1h0m3 0h2m2 0h2m3 0h2m-15 1h0m3 0h0m2 0h1m2 0h0m3 0h1m2 0h0m-14 1h2m3 0h1m2 0h1m3 0h0m2 0h2m-15 1h3m6 0h0m2 0h3m-15 1h0m2 0h0m3 0h1m2 0h1m2 0h1m2 0h2m-16 1h0m2 0h0m4 0h1m2 0h0m2 0h0m3 0h1m-15 1h1m3 0h0m3 0h0m4 0h0m2 0h0m2 0h0m-11 1h2m2 0h0m3 0h1m2 0h0m-14 1h4m2 0h3m2 0h0m3 0h0m2 0h0m-16 1h2m2 0h1m3 0h0m2 0h1m2 0h0m3 0h0m-16 1h2m2 0h2m2 0h0m2 0h0m3 0h0m-13 1h1m2 0h3m2 0h0m4 0h0m2 0h0m-14 1h3m5 0h0m2 0h0m3 0h1m-14 1h0m2 0h6m2 0h2m4 0h0m-15 1h9m4 0h0m2 0h0m-15 1h4m5 0h0m2 0h0m2 0h2m-13 1h1m4 0h1m2 0h3m-13 1h0m2 0h1m6 0h0m2 0h0m4 0h0m-11 1h1m2 0h1m5 0h1m-15 1h0m3 0h0m2 0h1m2 0h0m5 0h1m-12 1h1m2 0h1m5 0h0m2 0h0m2 0h0m-15 1h0m2 0h0m2 0h0m2 0h0m3 0h4m-13 1h0m8 0h0m2 0h0m6 0h0m-13 1h0m4 0h0m2 0h0m2 0h0m4 0h1m-12 1h0m7 0h1m3 0h0m-13 1h0m6 0h0m-7 1h0m5 0h3m4 0h0m3 1h0m-13 1h2m8 0h0m-12 1h0m3 0h0m6 0h0m3 1h0m-3 1h0m4 0h0m-1 1h0m2 0h0m-7 5h0" stroke-width="2.6"/>
<path d="M306.5 354.5h0m-9 4h0m2 2h0m4 3h0m2 0h0m-13 4h0m7 0h0m3 0h0m-7 2h0m-1 1h0m10 0h0m1 2h0m-8 1h0m3 0h0m2 0h0m-9 1h1m8 0h0m3 0h0m-10 1h0m2 0h0m6 1h0m4 0h0m0 1h0m-10 1h1m4 0h2m-11 2h0m13 0h0m-14 1h0m5 0h0m10 0h0m-11 1h0m5 0h0m4 0h1m-13 1h1m4 0h1m4 0h0m2 0h0m-8 1h0m8 0h1m-5 1h3m-12 1h0m5 0h1m2 0h0m6 0h0m-12 1h1m7 0h0m6 0h0m-14 1h0m8 0h1m3 0h0m-12 1h0m2 0h0m4 0h0m5 0h0m2 0h0m-14 1h0m8 0h0m-9 1h0m2 0h0m3 0h0m3 0h0m-7 1h0m2 0h0m4 0h0m5 0h1m-13 1h2m2 0h0m6 0h0m3 0h2m-14 1h0m2 0h0m2 0h0m8 0h1m-6 1h0m4 0h0m3 0h0m-9 1h3m3 0h0m-5 1h0m2 0h0m3 0h0m3 0h0m-13 1h2m2 0h0m7 0h0m-12 1h0m5 0h0m3 0h1m-5 1h0m2 0h1m6 0h1m-14 1h0m3 0h1m7 0h0m-7 1h0m4 0h0m-7 1h0m4 0h0m-6 1h0m2 0h0m2 0h0m3 0h0m4 0h1m2 0h0m-8 1h1m4 0h0m3 0h0m2 0h0m-15 1h0m4 0h1m2 0h0m6 0h0m-3 1h1m-7 1h0m3 0h1m5 0h1m-14 1h1m10 0h3m-4 1h0m3 0h0m-8 1h0m5 0h0m3 0h1m-14 1h0m3 0h0m7 0h0m2 0h0m-9 1h0m8 0h0m2 0h0m-14 1h1m5 0h3m5 0h0m-14 1h0m2 0h0m9 0h0m2 0h0m3 0h0m-14 1h0m2 0h2m-3 1h3m8 0h0m-12 1h1m5 0h0m5 0h0m-13 1h0m3 0h0m3 0h0m2 0h0m2 0h1m5 0h0m-15 1h1m2 0h0m4 0h0m2 0h0m-9 1h0m2 0h0m12 0h1m-12 1h0m5 0h0m3 0h1m3 1h0m-7 1h0m5 0h0m-11 1h0m3 0h0m2 0h0m3 1h0m4 0h0m-15 1h0m2 0h0m2 0h0m2 0h0m3 0h1m3 0h0m-13 1h0m9 1h0m2 1h0m4 0h0m-14 2h0m12 0h0m3 1h0m-13 1h2m8 2h0" stroke-width="3.0"/>
<path d="M381.5 250.5h0m-2 14h0m-3 1h0m5 1h0m8 7h0m-4 7h0m6 3h0m-4 1h0m-3 4h0m-3 2h0m5 0h0m-11 1h0m11 2h0m4 1h0m-12 2h0m3 0h0m8 2h0m-12 1h0m6 0h0m-2 1h1m4 0h0m-10 1h0m10 1h0m-8 1h0m-2 1h0m0 1h0m10 1h0m0 1h0m-10 1h0m12 0h0m-11 1h1m1 1h0m7 0h1m0 1h0m-5 1h0m3 0h0m5 0h0m-12 1h0m5 2h0m4 0h0m-7 1h0m6 0h0m1 1h2m-2 1h0m-6 2h0m5 0h0m-9 1h0m10 0h0m-12 1h0m9 0h0m3 1h0m-9 1h1m-4 1h0m7 0h0m3 0h0m3 0h0m-8 1h0m5 0h0m3 0h0m-10 1h0m3 0h0m8 0h0m-14 1h0m2 0h0m7 0h1m-10 1h0m9 0h0m5 0h0m-14 1h0m7 0h0m8 0h0m-13 1h0m8 0h1m4 0h0m-14 1h0m2 0h0m4 0h0m9 0h0m-16 1h0m1 1h0m11 0h0m2 0h0m-9 1h0m2 0h0m6 0h0m-10 1h0m3 0h0m9 0h1m-12 1h0m11 0h0m-15 1h0m3 0h0m4 0h0m3 0h0m4 0h0m-14 1h1m2 0h0m2 0h0m4 0h0m-9 1h0m7 0h1m8 0h0m-13 1h1m2 0h1m5 0h0m-7 1h0m2 0h0m7 0h1m-15 1h0m8 0h0m5 0h0m-10 1h0m6 0h0m-8 1h0m3 0h2m3 0h0m-8 1h0m6 0h0m9 0h0m-16 1h0m6 0h0m7 0h0m3 0h0m-16 1h0m2 0h0m6 0h1m3 0h0m-8 1h2m2 0h0m7 0h0m-11 1h0m12 0h0m-15 1h0m6 0h0m3 0h0m2 0h0m2 0h0m2 0h0m-16 1h0m4 0h0m3 0h3m5 0h0m-13 1h0m3 0h0m4 0h0m7 0h0m-15 1h0m3 0h0m2 0h0m6 0h0m2 0h0m2 0h0m-16 1h2m2 0h0m3 0h1m3 0h0m3 0h0m2 0h0m-16 1h0m2 0h0m2 0h1m3 0h1m4 0h2m-13 1h5m5 0h0m4 0h0m-16 1h5m5 0h1m2 0h0m3 0h0m-16 1h2m3 0h0m2 0h1m5 0h2m-1 1h1m-13 1h0m5 0h1m2 0h2m4 0h0m-14 1h0m3 0h3m4 0h3m-13 1h1m3 0h1m2 0h0m5 0h0m-14 1h2m3 0h1m2 0h2m2 0h1m2 0h0m-14 1h0m3 0h5m5 0h0m2 0h0m-15 1h1m2 0h0m2 0h1m2 0h0m4 0h2m-15 1h6m2 0h1m2 0h1m-12 1h4m2 0h3m3 0h0m3 0h0m-15 1h0m2 0h0m3 0h2m4 0h0m2 0h0m2 0h1m-16 1h0m3 0h0m4 0h1m2 0h0m3 0h1m2 0h0m-16 1h0m2 0h0m3 0h0m2 0h0m2 0h1m3 0h0m2 0h0m-15 1h2m5 0h0m2 0h0m4 0h0m2 0h0m-15 1h0m2 0h1m3 0h0m3 0h2m2 0h3m-15 1h0m3 0h0m5 0h2m2 0h2m-13 1h5m5 0h1m2 0h0m-15 1h2m3 0h1m2 0h2m2 0h3m-15 1h0m2 0h0m2 0h1m2 0h0m2 0h3m4 0h0m-15 1h2m2 0h0m4 0h1m2 0h4m-15 1h0m4 0h4m3 0h4m-15 1h11m3 0h1m-16 1h1m4 0h3m4 0h0m2 0h1m-15 1h0m3 0h4m2 0h4m3 0h0m-16 1h0m2 0h2m2 0h3m3 0h1m2 0h1m-16 1h0m2 0h0m2 0h1m2 0h1m3 0h0m2 0h0m3 0h0m-16 1h2m4 0h4m2 0h2m-14 1h3m2 0h1m2 0h0m2 0h6m-15 1h1m2 0h3m2 0h1m3 0h2m-15 1h0m2 0h1m2 0h0m2 0h4m3 0h0m2 0h0m-14 1h12m2 0h0m-14 1h6m2 0h6m-15 1h2m4 0h2m2 0h0m2 0h2m-11 1h1m6 0h0m3 0h1m-14 1h0m2 0h3m2 0h1m3 0h3m-15 1h0m3 0h2m3 0h5m2 0h0m-13 1h0m2 0h5m3 0h1m2 0h1m-16 1h7m3 0h1m2 0h3m-15 1h4m2 0h1m4 0h2m2 0h0m-15 1h0m2 0h1m2 0h3m2 0h0m2 0h3m-16 1h1m2 0h0m2 0h5m2 0h2m-14 1h5m2 0h1m2 0h4m-14 1h4m5 0h7m-15 1h0m2 0h1m4 0h0m2 0h4m-13 1h0m2 0h4m2 0h4m-12 1h2m2 0h0m2 0h5m2 0h1m-12 1h1m2 0h1m3 0h1m2 0h2m-15 1h1m2 0h0m2 0h0m2 0h0m2 0h5m2 0h0m-14 1h3m2 0h0m3 0h2m2 0h2m-16 1h0m4 0h1m3 0h3m2 0h3m-15 1h0m5 0h4m2 0h4m-16 1h0m3 0h1m2 0h1m2 0h3m3 0h1m-16 1h0m3 0h7m2 0h1m2 0h1m-15 1h0m3 0h2m2 0h1m2 0h0m2 0h3m-16 1h2m2 0h1m4 0h1m2 0h0m2 0h2m-16 1h1m3 0h3m2 0h0m2 0h0m2 0h0m2 0h1m-16 1h0m3 0h0m2 0h0m3 0h0m3 0h2m-13 1h1m2 0h0m2 0h1m2 0h2m2 0h4m-16 1h0m2 0h0m3 0h1m2 0h2m3 0h2m-14 1h2m2 0h1m3 0h5m2 0h0m-13 1h2m3 0h7m-15 1h1m2 0h1m3 0h1m4 0h0m3 0h0m-14 1h0m2 0h1m5 0h1m2 0h0m2 0h1m-15 1h5m2 0h4m2 0h0m2 0h1m-16 1h4m2 0h3m3 0h1m3 0h0m-15 1h1m2 0h6m4 0h0m2 0h0m-15 1h0m4 0h6m3 0h2m-16 1h0m3 0h1m2 0h0m3 0h0m3 0h1m3 0h0m-16 1h2m2 0h1m4 0h0m4 0h3m-16 1h2m2 0h2m2 0h0m2 0h3m-13 1h1m2 0h1m3 0h0m2 0h3m2 0h2m-16 1h2m2 0h0m2 0h1m2 0h1m3 0h0m2 0h1m-16 1h1m2 0h5m4 0h4m-14 1h2m2 0h1m3 0h1m5 0h0m-15 1h4m2 0h0m2 0h3m2 0h0m2 0h0m-15 1h1m5 0h0m3 0h0m2 0h0m2 0h0m2 0h0m-16 1h1m3 0h4m3 0h0m5 0h0m-14 1h0m2 0h3m3 0h0m2 0h0m3 0h0m-15 1h0m2 0h1m2 0h2m4 0h0m2 0h2m-15 1h3m3 0h0m3 0h0m2 0h0m2 0h1m-14 1h0m2 0h0m5 0h0m5 0h3m-15 1h0m4 0h1m4 0h3m4 0h0m-15 1h1m4 0h0m2 0h1m2 0h2m-13 1h2m9 0h1m-12 1h0m3 0h2m3 0h0m2 0h0m4 0h0m2 0h0m-11 1h0m4 0h0m2 0h0m2 0h0m2 0h0m-12 1h1m2 0h0m2 0h0m3 0h0m2 0h0m-12 1h2m4 0h0m3 0h0m3 0h2m-11 1h1m2 0h0m5 0h0m-12 1h0m5 0h0m4 0h0m4 0h0m-8 1h0m2 0h0m2 0h0m5 0h0m-14 1h0m7 0h2m2 0h0m2 0h0m2 0h0m-14 1h0m4 0h0m6 0h0m4 0h0" stroke-width="2.1"/>
<path d="M390.5 312.5h0m-13 19h0m-2 9h0m7 2h0m-6 3h0m6 1h0m0 5h0m5 0h0m2 0h0m-6 1h0m-3 1h0m-1 1h0m2 0h0m-6 1h0m2 0h0m5 0h0m4 0h0m-6 2h1m10 1h0m-2 1h0m1 1h0m-13 1h0m8 0h0m-5 1h1m6 0h0m-9 1h0m4 0h0m2 0h0m-9 1h0m5 0h0m5 0h0m2 0h0m-6 1h0m2 0h0m8 0h0m-15 1h0m5 0h1m-5 1h1m2 0h1m5 0h1m-12 1h0m7 0h0m-7 1h0m2 0h0m4 0h0m10 0h0m-13 1h0m4 0h1m2 0h0m4 0h0m2 0h0m-7 1h0m-9 1h1m6 0h0m6 0h0m-13 1h0m6 0h0m7 0h3m-12 1h0m5 0h0m6 0h0m-13 1h3m2 0h0m6 0h0m-13 1h0m5 0h1m7 0h0m-11 1h0m9 0h1m4 0h0m-15 1h0m9 0h0m5 0h0m-14 1h0m6 0h0m2 0h0m4 0h0m2 0h1m-14 1h1m4 0h0m-6 1h0m5 0h1m8 0h0m-15 1h0m7 0h0m2 0h0m2 0h0m-5 1h0m2 0h0m7 0h0m-15 1h0m5 0h0m3 0h0m5 0h0m-13 1h0m6 0h0m8 0h0m-13 1h1m13 0h0m-14 1h1m3 0h1m7 0h2m-7 1h0m3 0h0m3 0h0m-11 1h0m3 0h0m3 0h0m2 0h2m-11 1h1m2 0h0m3 0h0m6 0h0m-13 1h1m5 0h0m2 0h0m4 0h0m-9 1h1m-4 1h0m2 0h1m2 0h0m-3 1h0m12 0h0m-13 1h0m2 0h0m2 0h3m3 0h0m4 0h0m-16 1h1m2 0h1m2 0h0m5 0h0m4 0h0m-14 1h0m2 0h0m10 0h0m3 0h0m-1 1h0m-15 1h0m6 0h0m-6 1h3m2 0h0m2 0h0m4 0h0m3 0h0m-14 1h1m8 0h0m3 0h0m-4 1h0m3 0h1m-11 1h0m9 0h2m-11 1h0m2 0h0m2 0h0m2 0h0m2 0h0m5 0h1m-12 1h1m2 0h0m8 0h0m-14 1h0m5 0h0m6 0h0m2 0h0m3 0h0m-14 1h0m13 0h0m-10 1h0m3 0h3m3 0h0m-8 1h0m6 0h2m2 0h0m-13 1h0m3 0h0m4 0h0m2 0h0m3 0h0m-15 1h0m3 0h2m2 0h2m3 0h1m-9 1h1m4 0h0m4 0h3m-16 1h0m2 0h0m2 0h0m5 0h1m4 0h0m2 0h0m-15 1h0m4 0h0m2 0h0m2 0h0m4 0h0m-12 2h0m7 0h1m3 0h0m2 0h0m-14 1h0m2 0h0m4 0h0m2 0h0m2 0h0m4 0h1m-10 1h0m4 0h1m2 0h0m4 0h0m-12 1h0m5 0h0m2 0h3m-14 1h0m12 0h0m-11 1h0m3 0h0m10 0h1m-14 1h3m3 0h0m4 0h0m4 0h0m-15 1h0m2 0h0m2 0h0m3 0h0m-6 1h0m5 0h0m2 0h0m2 0h0m6 0h0m-15 1h0m4 0h0m4 0h1m4 0h1m-12 1h0m13 0h0m-7 1h0m5 0h0m2 0h0m-5 1h2m-13 1h0m7 0h0m5 0h0m-8 1h0m9 0h0m2 0h0m-9 1h0m7 0h2m-8 1h0m3 0h1m-10 1h0m10 0h0m5 0h0m-4 1h0m2 0h0m2 0h0m-15 1h0m4 0h0m3 0h0m8 0h0m-12 1h3m-7 1h0m2 0h0m5 0h0m4 0h0m3 0h0m-14 1h2m11 0h0m-5 3h0m3 0h0m2 0h0m-8 2h0m9 0h0m-11 2h0m0 1h0m4 0h0m8 0h0m-10 2h0m4 0h0m-4 3h0m10 0h0" stroke-width="2.6"/>
<path d="M382.5 342.5h0m5 9h0m-6 6h0m0 5h0m6 2h0m-4 6h0m2 0h0m6 0h0m-3 3h0m2 0h0m-11 1h0m5 0h0m6 0h0m-2 1h0m0 1h0m-11 1h0m9 0h1m-11 1h0m14 0h0m-13 2h0m13 1h0m-15 1h0m9 0h0m2 0h0m-6 2h0m-4 3h0m13 0h0m-3 2h0m2 0h0m-10 1h0m2 0h0m9 0h0m-1 1h0m-8 1h0m-3 3h0m6 0h0m-8 1h0m3 0h1m7 0h0m-10 1h0m5 2h0m-4 1h0m9 2h0m-10 2h0m13 0h1m-15 2h0m11 0h0m5 0h0m-1 1h0m-9 2h0m7 0h0m3 0h0m-4 1h0m-12 1h0m13 0h0m0 1h0m-4 1h0m4 1h0m-12 2h0m8 0h0m-7 1h0m12 0h0m-10 2h0m10 0h0m-2 1h0m3 1h0m-14 1h1m2 0h0m-4 1h0m1 1h0m7 0h0m6 1h1m-12 1h0m11 1h0m-3 1h0m2 0h0m-13 1h0m4 1h0m9 1h0m-3 1h0m4 2h0m2 1h0m-11 1h2m-7 1h0" stroke-width="3.0"/>
<path d="M463.5 143.5h0m-2 7h0m-3 32h0m5 11h0m-1 41h0m5 4h0m-1 1h0m0 19h0m-8 2h0m15 3h0m-7 4h0m8 0h0m-9 2h0m5 1h0m-9 7h0m9 1h0m-11 1h0m2 1h0m11 1h0m-8 2h0m-6 1h0m7 1h0m-1 3h0m3 0h0m-6 1h0m6 0h0m-7 1h0m5 2h0m6 0h0m-8 3h0m9 0h0m-12 1h0m5 0h0m4 1h0m4 0h0m-5 1h0m6 0h0m-4 2h0m-11 1h0m3 0h0m5 0h0m-7 1h0m14 0h0m-10 1h0m-3 1h0m6 1h0m-3 1h1m3 0h0m1 2h0m4 0h0m0 1h0m-9 1h0m-1 1h0m-3 2h0m14 0h0m-15 1h0m6 0h0m8 2h1m-8 1h1m2 0h0m-9 2h0m0 1h0m4 0h0m3 0h0m3 0h0m2 0h0m-12 1h0m-1 1h0m5 0h0m7 1h0m-4 1h0m-6 1h1m3 0h0m6 0h0m3 0h0m-6 1h0m-9 1h0m3 0h0m12 0h0m-14 1h0m8 0h0m4 0h0m-11 1h0m5 0h0m7 0h0m-14 1h0m3 0h1m5 0h1m2 0h0m-10 2h0m13 0h0m-12 1h0m6 0h0m4 0h0m-14 1h0m2 0h0m13 0h0m-14 1h0m3 0h0m-1 1h0m4 0h0m7 0h0m2 0h0m-15 1h0m5 0h0m3 0h1m-4 1h0m8 0h0m-12 1h0m2 0h1m4 0h0m-9 1h0m5 0h0m5 0h0m3 0h0m-11 1h0m2 0h0m2 0h1m7 0h0m2 0h0m-8 1h1m5 0h2m-14 1h0m6 0h1m3 0h0m-6 1h0m3 0h1m5 0h0m-10 1h0m7 0h0m-12 1h1m3 0h0m5 0h0m3 0h0m-8 1h2m9 0h0m-15 1h1m3 0h0m4 0h0m2 0h0m4 0h0m-13 1h0m3 0h0m2 0h0m4 0h1m-9 1h1m3 0h0m2 0h0m4 0h0m-10 1h0m5 0h0m8 0h1m-13 1h1m2 0h0m-4 1h0m8 0h1m-9 1h0m9 0h0m-8 1h0m2 0h1m3 0h1m-2 1h0m2 0h2m-9 1h0m8 0h0m3 0h1m-10 1h1m8 0h0m-12 1h0m4 0h1m3 0h0m2 0h0m2 0h0m-12 1h0m3 0h0m3 0h0m2 0h0m5 0h0m-13 1h0m1 1h0m10 0h0m2 0h0m-15 1h0m3 0h0m4 0h0m3 0h2m2 0h0m-14 1h0m3 0h1m6 0h0m2 0h0m3 0h0m-15 1h0m3 0h3m2 0h2m5 0h0m-15 1h3m3 0h0m2 0h0m3 0h1m2 0h0m-13 1h0m2 0h0m2 0h0m4 0h0m4 0h2m-14 1h0m2 0h1m4 0h0m7 0h0m-10 1h0m4 0h0m2 0h1m4 0h0m-15 1h0m3 0h1m2 0h1m5 0h0m-13 1h0m2 0h0m2 0h0m2 0h0m3 0h0m2 0h0m-10 1h0m8 0h0m3 0h0m-6 1h2m3 0h0m5 0h0m-9 1h0m2 0h0m3 0h3m-14 1h0m4 0h2m3 0h0m2 0h0m2 0h1m-14 1h1m3 0h0m2 0h2m4 0h0m3 0h0m-12 1h2m2 0h1m2 0h0m2 0h1m2 0h0m-16 1h0m3 0h0m2 0h5m2 0h0m4 0h0m-15 1h4m2 0h2m4 0h0m-13 1h0m2 0h0m2 0h1m3 0h2m2 0h0m2 0h0m2 0h0m-6 1h0m2 0h0m2 0h0m-7 1h2m3 0h1m2 0h0m-15 1h3m2 0h0m2 0h0m3 0h1m-9 1h0m8 0h2m2 0h0m-9 1h0m3 0h2m4 0h0m-11 1h0m5 0h0m2 0h0m4 0h0m-13 1h0m2 0h0m3 0h2m2 0h1m2 0h3m-15 1h3m2 0h1m2 0h0m2 0h2m-13 1h0m3 0h0m4 0h1m2 0h0m2 0h0m3 0h0m-13 1h1m3 0h1m4 0h0m2 0h0m-11 1h1m4 0h0m3 0h1m2 0h2m-14 1h5m4 0h6m-13 1h0m4 0h1m2 0h5m-15 1h6m2 0h0m3 0h1m2 0h0m-14 1h2m3 0h1m2 0h1m2 0h1m3 0h1m-13 1h1m2 0h0m2 0h0m3 0h0m3 0h0m-9 1h0m3 0h0m3 0h0m2 0h0m3 0h0m-16 1h4m2 0h0m2 0h0m4 0h0m3 0h0m-12 1h0m2 0h1m7 0h0m2 0h1m-14 1h4m5 0h4m-14 1h2m2 0h1m2 0h1m5 0h1m-11 1h0m2 0h2m4 0h0m3 0h1m-16 1h3m3 0h3m2 0h0m4 0h0m-15 1h1m5 0h0m2 0h1m4 0h0m3 0h0m-12 1h4m6 0h0m2 0h0m-15 1h1m3 0h0m2 0h0m2 0h0m4 0h1m-14 1h1m2 0h1m2 0h1m2 0h0m2 0h0m-11 1h0m6 0h1m3 0h1m2 0h0m-12 1h0m3 0h0m3 0h0m5 0h2m2 0h0m-16 1h0m2 0h0m2 0h1m2 0h2m2 0h0m2 0h1m2 0h0m-12 1h0m4 0h3m2 0h0m-8 1h1m9 0h0m-12 1h0m2 0h1m2 0h3m-11 1h1m2 0h0m2 0h1m2 0h0m2 0h1m2 0h2m-15 1h1m6 0h0m3 0h0m2 0h0m2 0h2m-15 1h0m3 0h3m2 0h1m2 0h0m2 0h1m-14 1h0m2 0h0m3 0h0m3 0h2m2 0h0m2 0h1m-16 1h1m6 0h1m2 0h1m3 0h0m-11 1h0m3 0h1m2 0h0m3 0h0m-11 1h7m2 0h1m4 0h1m-16 1h1m3 0h0m2 0h2m3 0h0m-11 1h1m2 0h0m5 0h0m2 0h1m3 0h0m2 0h0m-15 1h0m3 0h0m4 0h0m2 0h0m5 0h0m-14 1h1m6 0h0m2 0h0m3 0h0m2 0h0m-15 1h0m4 0h0m3 0h1m8 0h0m-13 1h1m2 0h0m3 0h0m7 0h0m-14 1h1m2 0h0m2 0h0m6 0h0m2 0h0m-10 1h0m2 0h2m2 0h2m3 0h0m-16 1h0m7 0h0m7 0h1m-15 1h0m14 0h0m-14 1h0m2 0h0m5 0h1m3 0h0m3 0h1m-13 1h0m11 0h0m-12 1h1m5 0h0m2 0h0m3 0h1m3 0h0m-13 1h0m2 0h0m6 0h0m-10 1h0m2 0h0m4 0h0m2 0h0m5 0h0m-13 1h0m4 0h0m5 0h0m5 0h0m-12 1h0m3 0h0m8 0h1m-1 1h0m-14 1h0m4 0h0m8 0h1m2 0h0m-15 1h0m2 0h0m2 0h0m5 0h0m4 0h0m-9 1h0m3 0h0m7 0h0m-9 1h0m5 0h0m2 0h0m-11 1h0m3 0h0m3 0h0m4 0h0m-11 1h0m3 0h0m12 0h0m-9 1h0m2 0h0m5 0h0m-6 1h0m7 0h0m2 0h0m-15 1h0m2 0h0m2 0h0m5 0h0m-8 1h0m4 0h0m6 0h0m-11 1h0m9 1h0m3 0h0m-7 1h0m5 0h0m4 0h0m-10 2h0m5 0h0m3 0h0m-9 1h1m5 0h2m-7 1h0m7 0h0" stroke-width="2.1"/>
<path d="M464.5 283.5h0m9 14h0m-13 31h0m1 1h0m0 7h0m2 4h0m3 3h0m7 1h0m-3 2h0m-11 2h0m2 2h0m9 0h0m-9 2h0m2 3h0m1 4h1m-2 1h0m5 0h0m-7 2h0m-3 3h0m3 0h0m5 0h0m7 0h0m-3 1h0m1 1h0m2 1h0m-10 2h0m-1 1h0m7 0h0m-5 2h1m9 0h0m-3 1h0m2 1h0m-14 1h0m4 0h0m2 0h2m-5 1h0m2 0h0m8 0h0m-14 1h0m3 0h0m2 0h3m2 0h0m-2 1h0m-3 1h0m3 0h1m5 0h0m-4 1h0m4 0h0m-6 1h0m-7 1h1m8 0h1m3 1h0m-9 1h0m3 0h0m-7 2h0m6 0h0m3 0h0m3 0h0m-12 1h0m2 0h1m5 0h0m-2 1h1m-5 1h0m3 0h0m8 1h0m-13 1h0m4 0h0m5 0h0m3 0h0m-5 1h0m-6 1h0m3 0h0m9 0h0m-13 1h0m5 0h0m5 0h1m-6 1h0m2 0h0m6 0h0m-9 1h0m8 0h0m-7 1h0m-1 1h0m10 0h0m-12 1h1m10 0h1m-12 1h0m11 0h0m-7 1h0m5 0h0m-10 1h1m6 0h0m6 0h0m-9 1h0m7 0h0m-7 1h1m2 2h0m2 0h0m2 1h0m3 1h0m-8 1h1m4 0h0m-9 1h0m9 0h0m-7 1h0m9 0h0m-7 1h0m2 0h0m-9 1h0m4 0h1m7 0h0m-3 1h0m4 0h0m-9 1h0m4 0h1m4 0h1m-12 1h0m6 0h1m3 0h0m-2 1h0m-11 3h1m10 0h0m-10 1h0m2 0h0m8 0h0m5 0h0m-12 1h0m0 2h0m12 0h0m-13 1h0m3 0h0m-4 1h1m2 0h0m8 1h0m3 0h0m-9 1h0m7 0h0m-9 5h0m5 2h0m5 1h0m-3 2h0m-8 2h0m1 1h0m5 0h0m-10 2h0m7 2h0m-6 1h0m0 2h0" stroke-width="2.6"/>
<path d="M473.5 344.5h0m-12 6h0m8 21h0m-4 2h0m6 1h0m1 3h0m-6 1h0m0 1h0m0 1h0m0 2h0m-7 1h0m9 0h1m-3 2h0m-7 3h0m6 1h0m3 3h0m3 0h0m-11 2h0m3 0h0m1 1h0m5 0h0m2 2h0m-1 5h0m-6 2h0m0 1h0m3 2h0m-3 5h0m-5 2h0m4 0h0m8 3h0m-13 4h0m11 0h0m-7 4h0" stroke-width="3.0"/>
<path d="M555.5 270.5h0m-10 15h0m0 6h0m-2 15h0m0 1h0m-2 3h0m2 2h0m12 1h0m-10 5h0m4 0h0m3 5h0m-6 3h0m0 2h0m-5 1h0m5 0h0m-5 1h0m4 1h0m6 2h0m-7 1h0m12 0h0m-11 1h0m4 0h0m8 1h0m-7 1h0m-7 2h0m2 0h0m10 0h0m2 0h0m-9 1h1m-1 2h0m-1 1h0m2 0h0m6 0h0m-13 1h0m5 0h0m0 1h0m-4 1h0m8 0h0m2 0h0m-5 1h0m-5 1h0m2 0h0m7 0h0m-7 2h0m1 1h0m2 0h0m4 0h0m1 1h3m0 1h0m-15 1h0m7 0h0m-6 1h0m6 0h0m5 0h0m2 0h0m-10 1h0m4 0h0m2 0h0m2 0h0m-12 1h1m5 0h0m4 0h2m-11 1h0m2 0h0m5 0h1m6 0h0m-15 1h0m4 0h0m2 0h0m2 0h0m-8 1h2m3 0h0m4 0h1m2 0h1m-11 1h1m7 0h0m4 0h0m2 0h0m-12 1h0m3 0h0m2 0h1m4 0h0m2 0h0m-16 1h0m4 0h0m2 0h0m2 0h0m7 0h1m-6 1h5m-15 1h0m3 0h2m4 0h1m3 0h3m-14 1h1m6 0h1m-9 1h0m3 0h6m2 0h0m3 0h0m-15 1h0m4 0h1m3 0h1m2 0h3m-13 1h0m7 0h2m3 0h2m-14 1h0m2 0h1m3 0h2m6 0h0m-12 1h3m2 0h2m2 0h2m-13 1h5m2 0h1m2 0h1m2 0h2m-16 1h2m3 0h1m4 0h0m2 0h3m-13 1h0m2 0h2m2 0h1m3 0h0m2 0h2m-16 1h0m3 0h0m2 0h0m2 0h0m4 0h1m2 0h0m-14 1h5m2 0h2m2 0h1m2 0h0m2 0h0m-14 1h1m2 0h3m4 0h0m2 0h0m2 0h0m-16 1h5m2 0h0m2 0h6m-15 1h0m2 0h2m2 0h3m2 0h4m-14 1h0m6 0h0m3 0h6m-16 1h0m4 0h5m2 0h2m2 0h0m-15 1h0m8 0h1m2 0h0m2 0h3m-16 1h3m2 0h1m2 0h0m2 0h6m-13 1h0m3 0h0m2 0h4m2 0h2m-16 1h1m3 0h4m2 0h1m4 0h1m-15 1h2m2 0h1m2 0h1m3 0h1m2 0h1m-15 1h0m2 0h0m2 0h4m4 0h3m-13 1h1m5 0h0m2 0h1m2 0h2m-16 1h0m2 0h1m2 0h0m4 0h1m3 0h0m3 0h0m-15 1h0m3 0h0m2 0h5m2 0h0m3 0h0m-15 1h3m4 0h2m3 0h0m2 0h1m-16 1h0m2 0h4m2 0h8m-16 1h0m2 0h3m3 0h8m-15 1h1m2 0h1m2 0h6m2 0h1m-15 1h0m3 0h1m2 0h2m2 0h1m2 0h2m-16 1h0m2 0h0m3 0h0m4 0h0m2 0h2m-11 1h1m3 0h2m2 0h6m-12 1h0m2 0h1m2 0h0m2 0h5m-15 1h2m2 0h1m3 0h3m2 0h2m-14 1h0m2 0h2m2 0h0m5 0h2m-15 1h1m3 0h0m2 0h0m2 0h0m3 0h3m-14 1h6m2 0h0m2 0h3m2 0h0m-15 1h1m3 0h1m2 0h6m3 0h0m-12 1h0m2 0h6m2 0h2m-16 1h0m3 0h1m5 0h1m2 0h0m3 0h0m-15 1h0m3 0h4m2 0h1m4 0h1m-14 1h5m2 0h6m2 0h0m-15 1h4m2 0h1m4 0h2m-14 1h0m3 0h3m2 0h0m2 0h4m-14 1h2m2 0h1m3 0h3m2 0h1m2 0h0m-16 1h1m2 0h3m3 0h3m3 0h1m-15 1h0m2 0h2m3 0h2m4 0h0m2 0h0m-16 1h1m3 0h1m3 0h0m4 0h0m3 0h1m-16 1h0m4 0h0m4 0h1m3 0h1m3 0h0m-16 1h5m3 0h8m-14 1h2m7 0h0m2 0h2m-15 1h0m6 0h0m2 0h0m3 0h4m-15 1h6m2 0h1m3 0h1m-13 1h5m2 0h5m2 0h0m-13 1h2m2 0h0m3 0h1m2 0h2m-13 1h0m2 0h1m2 0h0m3 0h1m3 0h0m3 0h1m-16 1h0m3 0h0m4 0h0m2 0h0m2 0h0m2 0h0m2 0h1m-16 1h0m2 0h1m3 0h1m4 0h0m2 0h0m-12 1h3m2 0h1m2 0h4m3 0h0m-15 1h0m3 0h0m2 0h4m2 0h0m2 0h1m-14 1h2m4 0h1m2 0h0m3 0h1m-13 1h0m2 0h1m4 0h4m2 0h2m-14 1h0m3 0h1m2 0h4m3 0h0m-13 1h0m4 0h1m3 0h4m2 0h0m-16 1h0m4 0h0m3 0h4m2 0h0m2 0h1m-16 1h0m2 0h0m2 0h3m3 0h1m2 0h1m-13 1h0m2 0h3m3 0h0m2 0h1m2 0h1m-13 1h3m2 0h0m4 0h2m2 0h1m-16 1h0m5 0h1m3 0h0m2 0h3m-11 1h3m2 0h0m3 0h0m3 0h0m-13 1h0m3 0h3m2 0h2m2 0h1m2 0h0m-16 1h3m2 0h0m2 0h1m3 0h1m3 0h1m-16 1h0m4 0h1m-3 1h1m3 0h0m3 0h0m5 0h0m2 0h0m-12 1h0m2 0h0m2 0h0m2 0h1m2 0h0m-13 1h2m2 0h3m3 0h2m3 0h1m-16 1h0m2 0h2m4 0h0m2 0h0m2 0h0m2 0h0m2 0h0m-15 1h0m2 0h0m9 0h2m-13 1h0m8 0h0m2 0h0m-10 1h0m7 0h0m3 0h1m-7 1h0m5 0h0m-5 1h0m5 0h0m4 0h0m-9 1h0m5 0h0m2 0h4m-13 1h0m2 0h0m7 0h2m-13 1h0m8 0h1m-7 1h3m2 0h0m8 0h0m-6 1h0m-6 1h0" stroke-width="2.1"/>
<path d="M549.5 340.5h0m-2 5h0m4 1h0m-8 2h0m11 4h0m-13 2h0m7 1h0m-6 3h0m8 0h0m-5 1h0m5 1h1m2 0h0m-10 1h1m11 0h0m-10 1h0m5 0h0m-5 1h0m11 0h0m-2 1h0m-9 1h1m2 2h0m2 0h0m3 0h0m-12 1h0m4 0h0m6 1h0m-9 1h0m6 0h0m-4 1h0m6 0h1m-8 1h1m5 0h0m6 0h0m-14 1h0m2 0h0m4 0h0m4 0h0m-4 1h0m2 0h0m7 0h0m-1 1h0m-13 1h1m2 0h0m3 0h1m6 0h0m-12 1h0m4 0h0m2 0h0m6 0h0m-12 1h0m2 0h1m2 0h0m2 0h0m3 0h0m3 0h0m-11 1h0m2 0h1m6 0h2m-14 1h0m10 0h0m2 0h0m2 0h1m-11 1h2m6 0h0m2 0h0m-15 1h0m13 0h0m2 0h0m-15 1h1m2 0h0m2 0h1m2 0h0m3 0h1m2 0h2m-1 1h0m-11 1h0m2 0h1m5 1h1m2 0h0m-14 1h0m2 0h0m2 0h0m2 0h0m-3 1h0m7 0h0m4 0h0m-15 1h0m2 0h0m3 0h0m4 0h0m4 0h0m-9 1h0m2 0h1m6 0h0m-4 1h1m5 0h0m-13 1h0m2 0h0m5 0h0m5 0h2m-16 1h0m2 0h0m6 0h0m5 0h3m-12 1h1m2 0h0m2 0h0m3 0h0m-8 1h0m4 0h1m5 0h1m-10 1h0m6 0h0m-3 1h0m4 0h0m-8 1h0m2 0h0m3 0h0m3 0h2m-12 1h0m4 0h0m4 0h0m5 0h1m-12 1h0m9 0h0m-12 1h0m7 0h0m3 0h1m-12 1h0m3 0h2m3 0h0m3 0h0m4 0h0m-15 1h0m9 0h1m2 0h0m-2 1h0m2 0h0m3 0h0m-15 1h0m4 0h0m8 0h0m-9 1h0m7 0h0m-9 1h0m2 0h0m2 0h0m3 0h0m2 0h0m2 0h0m4 0h0m-9 1h1m-5 1h1m6 0h0m3 0h1m-13 1h0m3 0h0m7 0h0m5 0h0m-15 1h0m2 0h0m2 0h0m4 0h0m3 0h0m3 0h0m-12 1h0m2 0h0m4 0h0m5 0h0m-14 1h0m16 0h0m-12 1h0m4 0h0m5 0h0m-11 1h1m2 0h0m4 0h0m2 0h0m2 0h0m3 0h0m-13 1h1m9 0h0m-7 1h0m8 0h1m-14 1h0m5 0h0m2 0h0m5 0h0m-12 1h2m2 0h0m2 0h0m2 0h2m-9 1h0m9 0h1m3 1h1m-16 1h0m9 0h0m6 0h0m-15 1h0m2 0h1m-2 1h0m2 0h1m2 0h1m6 0h0m-12 1h0m5 0h0m-5 1h0m6 0h1m5 0h0m-5 1h0m6 0h0m-9 1h1m3 0h0m-3 1h1m4 0h0m2 0h0m3 0h0m-7 1h1m3 0h0m-8 1h1m8 0h0m-8 1h0m5 0h0m2 1h0m-7 1h0m-3 1h0m-2 1h0m4 0h1m7 0h0m-11 1h0m9 0h0m4 0h0m-15 1h0m6 1h0m0 1h0m4 0h1m-11 1h0m2 0h0m3 0h1m9 0h0m-12 1h0m7 0h0m4 0h0m2 0h0m-15 1h0m10 1h0m-1 4h0m-5 1h0" stroke-width="2.6"/>
<path d="M554.5 352.5h0m-11 9h0m3 4h0m-2 6h0m6 0h0m-7 1h0m12 0h0m1 2h0m-13 2h0m6 0h0m-6 2h0m2 0h0m11 2h0m-9 1h0m9 0h0m-15 2h0m5 0h0m10 1h0m-12 3h0m4 0h0m2 5h0m6 0h1m-2 1h0m-6 2h0m6 0h1m-7 2h0m-4 1h0m5 0h0m3 0h1m-7 1h0m4 0h0m5 0h0m-4 2h0m-3 1h0m7 0h0m-6 1h0m3 1h0m-9 2h0m2 1h0m3 0h0m2 0h0m-7 2h0m7 0h0m4 0h0m-10 1h0m9 4h0m-8 1h0m4 0h0m7 0h0m-12 1h0m9 0h0m-12 2h0m14 3h0m-13 2h0m-1 1h0m0 1h0m6 1h0m1 1h0m-3 4h0m-2 4h0m3 6h0" stroke-width="3.0"/>
<path d="M629.5 267.5h0m-2 29h0m7 8h1m-9 2h0m8 0h0m-7 5h0m12 2h0m-14 1h0m9 1h0m-10 3h0m10 5h0m-5 1h0m-3 4h0m8 1h0m-9 2h0m12 1h0m-2 1h0m-4 1h0m3 1h0m-8 1h0m6 2h0m0 1h0m-7 1h0m7 0h0m-6 3h0m-1 1h0m5 1h0m7 1h0m2 0h1m-12 1h1m10 1h0m-10 1h0m0 1h0m2 0h0m9 0h0m-16 3h0m4 0h0m8 0h0m-12 1h1m11 0h0m2 0h1m-3 1h0m-4 1h0m-7 1h0m3 0h0m4 0h0m3 0h0m3 0h0m2 0h0m-7 1h1m6 0h0m-13 1h0m2 0h0m5 0h1m4 0h0m-15 1h0m5 0h1m3 0h0m-9 1h0m3 0h0m6 0h0m3 0h0m2 0h1m-15 1h0m2 0h0m4 0h0m2 0h0m3 0h1m-11 1h0m2 0h0m6 0h1m2 0h2m-14 1h0m3 0h0m7 0h0m3 0h0m-10 1h1m5 0h0m3 0h1m-13 1h0m4 0h0m3 0h0m2 0h1m-8 1h1m2 0h1m2 0h0m7 0h0m-7 1h0m-8 1h1m5 1h1m4 0h2m-8 1h2m3 0h2m3 0h1m-16 1h0m2 0h2m8 0h2m2 0h0m-14 1h0m3 0h1m2 0h1m5 0h0m-5 1h0m4 0h1m-13 1h0m5 0h0m5 0h2m2 0h1m-13 1h0m4 0h0m2 0h0m6 0h0m-14 1h1m2 0h0m5 0h0m5 0h0m-12 1h1m7 0h1m5 0h0m-7 1h1m4 0h0m-8 1h0m10 0h0m-15 1h0m4 0h0m3 0h0m2 0h0m3 0h0m-11 1h0m3 0h0m2 0h0m8 0h0m-15 1h0m2 0h0m4 0h0m6 0h0m3 0h0m-15 1h0m5 0h0m4 0h1m6 0h0m-15 1h2m6 0h3m-12 1h0m11 0h1m2 0h0m1 1h1m-16 1h1m2 0h0m4 0h3m2 0h1m-12 1h1m3 0h0m2 0h1m3 0h0m3 0h1m-14 1h1m2 0h0m3 0h0m4 0h1m3 0h1m-16 1h0m2 0h1m-2 1h2m4 0h0m-3 1h1m5 0h0m-7 1h0m2 0h0m2 0h0m7 0h0m-14 1h1m2 0h0m2 0h2m7 0h1m-11 1h0m3 0h1m2 0h2m2 0h0m2 0h0m-11 1h0m3 0h2m3 0h3m-15 1h0m6 0h0m3 0h0m4 0h0m-14 1h1m3 0h0m5 0h1m-9 1h1m2 0h0m2 0h0m2 0h0m2 0h3m-10 1h3m3 0h1m2 0h0m4 0h0m-16 1h0m5 0h1m2 0h1m2 0h0m4 0h1m-16 1h0m2 0h0m2 0h1m4 0h0m3 0h0m4 0h0m-16 1h1m3 0h0m3 0h0m4 0h0m-11 1h0m3 0h1m2 0h0m6 0h0m-12 1h0m3 0h0m3 0h0m2 0h0m2 0h0m-9 1h1m3 0h0m3 0h1m2 0h1m2 0h0m-14 1h1m5 0h0m4 0h5m-11 1h0m3 0h2m2 0h0m2 0h0m-13 1h0m4 0h0m3 0h1m3 0h1m3 0h0m-13 1h2m4 0h1m2 0h0m-10 1h1m4 0h0m2 0h2m2 0h0m2 0h0m-12 1h0m2 0h0m2 0h0m6 0h0m2 0h0m-14 1h0m2 0h0m2 0h0m3 0h0m4 0h0m3 0h0m2 0h0m-15 1h0m13 0h2m-15 1h2m6 0h0m2 0h4m-11 1h0m6 0h0m2 0h2m-7 1h0m3 0h2m4 0h0m-14 1h0m8 0h0m3 0h0m2 0h0m-13 1h0m3 0h0m6 0h0m2 0h0m-11 1h1m5 0h0m3 0h2m-8 1h0m8 0h3m-16 1h1m2 0h0m3 0h1m2 0h0m5 0h0m0 1h0m-8 1h0m5 0h0m4 0h0m-14 1h0m5 0h0m5 0h0m-6 1h1m3 0h0m5 0h0m-14 1h0m7 0h1m2 0h1m3 0h1m-13 1h0m4 0h0m-5 1h0m2 0h0m5 0h1m2 0h0m3 0h0m-12 1h0m5 0h0m3 0h0m2 0h0m-11 1h1m3 0h1m-5 1h0m3 0h0m2 0h0m-6 1h1m5 0h1m2 0h0m-3 1h1m2 0h0m3 0h0m4 0h0m-15 1h1m3 0h0m5 0h0m2 0h0m2 0h2m-14 1h2m4 0h1m-7 1h0m3 0h0m2 0h0m4 0h1m3 0h0m-11 1h1m8 0h2m-13 1h1m2 0h0m9 0h0m-10 1h0m6 0h0m4 0h0m-5 1h0m-6 1h4m3 0h0m5 0h0m-13 1h0m2 0h0m12 0h0m-10 1h0m9 0h1m-16 1h0m5 0h0m4 0h1m2 0h0m2 0h0m-12 1h0m11 0h0m2 0h0m-12 1h0m5 0h0m2 0h0m5 0h1m-9 1h0m2 0h0m-9 1h0m4 0h1m3 0h0m7 0h0m-11 1h0m2 1h0m-1 1h0m6 0h0m-2 1h0m2 0h0m2 0h0m2 0h0m-11 1h0m6 0h0" stroke-width="2.1"/>
<path d="M634.5 329.5h0m1 4h0m-11 20h0m1 1h0m13 0h0m-12 8h0m11 1h0m0 1h0m0 1h0m-9 1h0m-4 3h0m15 2h0m-3 1h0m-7 1h1m1 3h0m-1 4h0m7 1h0m2 1h0m-10 2h0m11 0h0m-4 1h0m3 2h1m-15 1h0m0 1h0m3 1h0m3 0h0m8 0h0m-11 3h0m6 0h0m-10 2h0m4 4h0m-2 1h0m1 1h0m-3 1h0m5 1h0m2 1h0m4 0h0m1 1h0m-4 1h0m6 1h0m-4 1h1m-2 1h0m-5 2h0m8 1h0m-8 1h0m-4 1h0m4 3h0m8 0h0m-5 1h0m4 0h0m2 1h0m-11 1h0m6 1h0m3 0h0m-8 2h0m4 0h0m-1 2h0m5 5h0m-9 2h0m13 4h0m-4 2h1m-10 2h0m2 1h0m2 2h1m-5 1h0m14 1h0m-9 4h0m1 1h0m3 3h0" stroke-width="2.6"/>
<path d="M631.5 376.5h0m8 14h0m-13 10h0m12 7h0m-3 1h0" stroke-width="3.0"/>
<path d="M716.5 58.5h0m2 0h0m5 12h0m-1 31h0m0 11h0m-1 16h0m-4 2h0m2 1h0m-5 5h0m9 13h0m-10 11h0m-6 5h0m4 23h0m11 1h0m-13 2h0m0 4h0m4 7h0m0 3h0m7 1h0m-9 5h1m2 2h0m-3 2h0m2 6h0m4 3h0m-1 2h0m-7 5h0m13 0h0m-15 2h0m5 0h0m0 2h0m11 1h0m-16 1h0m6 1h0m8 1h0m-11 2h0m-2 3h0m12 0h0m-4 3h0m-9 3h0m3 5h1m-3 3h0m14 1h0m-9 1h0m4 0h0m5 2h0m-7 1h0m-1 2h0m7 0h0m-10 2h0m12 0h0m-12 1h0m-2 1h0m8 0h0m-7 1h0m5 2h0m-4 1h0m11 1h0m-13 3h1m10 0h0m-3 1h0m4 1h0m-10 2h0m11 0h0m-12 1h0m13 0h0m-11 1h0m0 1h0m6 0h0m-2 3h0m4 0h0m3 1h0m-13 3h0m1 1h0m-3 1h0m3 0h0m6 2h0m5 0h0m-9 1h0m1 4h0m6 2h0m1 3h2m-4 1h0m-5 1h0m8 0h0m-11 3h0m2 0h0m7 0h0m2 0h0m-14 1h0m4 0h0m1 1h0m-6 1h0m8 0h0m4 0h0m3 0h0m-11 1h0m-2 1h0m6 3h0m-7 2h0m10 0h0m4 2h0m-13 2h1m6 0h0m5 1h0m-13 1h0m3 2h0m3 0h0m4 1h0m-4 1h0m1 3h0m3 1h0m-8 1h0m-2 1h0m15 0h0m0 2h0m-1 1h0m-2 2h0m-8 4h0m7 5h0m4 1h0m-15 8h0m14 0h0m-12 1h0m-1 2h0m11 4h0m-6 1h0m4 7h0m-2 19h0m-3 1h0m-2 1h0m10 26h0m-3 2h0m-5 2h0m4 0h0m-2 2h0m4 0h0m-8 1h0m5 4h0m6 1h0m-14 5h0m0 7h0m2 0h0m9 1h0m2 0h0m-11 2h0m3 1h0m2 0h0m3 0h0m-9 1h0m12 0h0m-11 1h0m2 0h3m7 0h0m-13 1h0m4 0h0m4 0h1m-10 1h0m2 0h1m2 0h0m2 0h1m2 0h0m3 0h0m2 0h0m-16 1h0m3 0h0m2 0h0m3 0h0m-8 1h1m9 0h0m3 0h0" stroke-width="2.1"/>
<path d="M722.5 313.5h0m-6 11h0m3 122h0m-6 3h0m5 0h0m-9 1h0m6 3h0m6 0h0m-9 1h0" stroke-width="2.6"/>
<path d="M800.5 183.5h0m0 8h0m-8 18h0m12 17h0m-2 21h0m-3 29h0m-1 7h0m-8 7h0m11 4h0m-3 1h0m2 5h0m5 4h0m-6 8h0m5 2h0m-5 1h0m7 3h0m-16 9h0m4 9h0m4 4h0m-4 8h0m-1 1h0m10 4h0m-9 1h0m6 8h0m3 4h0m1 6h0m0 7h0m-4 1h0m6 1h0m-6 1h0m-1 3h0m6 7h0m-6 2h0m3 0h0m-10 1h0m14 2h0m-14 4h0m-2 1h0m16 3h0m-2 10h0m1 3h0m-14 2h0m-1 7h0m5 1h0m4 3h0m-5 1h0m11 1h0m-5 2h0m-8 2h0m12 2h0m0 1h0m-2 15h0" stroke-width="2.1"/>
</g>
</g>
<path d="M134 475v7M217 475v7M300 475v7M383 475v7M466 475v7M549 475v7M632 475v7M715 475v7M798 475v7M92 455h-7M92 402h-7M92 350h-7M92 297h-7M92 244h-7M92 192h-7M92 139h-7M92 86h-7" stroke="#000" stroke-width="1.67" fill="none"/>
<rect x="92" y="37" width="747" height="438" fill="none" stroke="#000" stroke-width="1.67"/>
<text x="133.9" y="505.7" text-anchor="middle">0</text><text x="216.9" y="505.7" text-anchor="middle">1</text><text x="299.9" y="505.7" text-anchor="middle">2</text><text x="382.9" y="505.7" text-anchor="middle">3</text><text x="465.9" y="505.7" text-anchor="middle">4</text><text x="548.9" y="505.7" text-anchor="middle">5</text><text x="631.9" y="505.7" text-anchor="middle">6</text><text x="714.9" y="505.7" text-anchor="middle">7</text><text x="797.9" y="505.7" text-anchor="middle">8</text>
<text x="77.3" y="463" text-anchor="end">0.0</text><text x="77.3" y="410.3" text-anchor="end">0.2</text><text x="77.3" y="357.6" text-anchor="end">0.4</text><text x="77.3" y="304.9" text-anchor="end">0.6</text><text x="77.3" y="252.2" text-anchor="end">0.8</text><text x="77.3" y="199.5" text-anchor="end">1.0</text><text x="77.3" y="146.8" text-anchor="end">1.2</text><text x="77.3" y="94.1" text-anchor="end">1.4</text>
<text x="465.9" y="534.2" text-anchor="middle">leiden</text>
<text transform="translate(30.7 259) rotate(-90)" text-anchor="middle">total_cpg_number</text>
<text x="91.4" y="30.8">1e6</text>
</g>
<g>
<clipPath id="c1"><rect x="1063.5" y="36.9" width="747" height="437.9"/></clipPath>
<g clip-path="url(#c1)">
<g transform="translate(.5 .15)" stroke="#3d3d3d" stroke-width="3.125" stroke-linejoin="round">
<path d="M1104.9 89.6H1105C1105.2 99.7 1105.3 109.9 1105.5 120C1105.6 130 1105.6 140 1105.8 150C1105.8 153.9 1106 157.9 1106.4 161.8C1106.5 163.8 1107.3 165.7 1108.2 167.7C1109.2 169.7 1111.6 171.6 1114 173.6C1116.3 175.6 1120.2 177.5 1122.9 179.5C1125.5 181.5 1128.5 183.4 1130.2 185.4C1132 187.4 1133.5 189.3 1134.4 191.3C1135.2 193.3 1135.8 195.2 1136.2 197.2C1136.7 199.2 1136.9 201.1 1137.2 203.1C1137.4 205.1 1137.6 207.1 1137.8 209.1C1137.9 212.4 1138.2 215.6 1138.2 218.9C1138.2 222.2 1138.1 225.5 1138 228.8C1137.8 232.1 1136.7 235.3 1136 238.6C1135.2 241.9 1134.4 245.1 1133.4 248.4C1132.1 252.3 1130.3 256.1 1128 260C1125.9 263.3 1121.5 266.5 1119.2 269.8C1116.8 273.1 1114.8 276.3 1113.2 279.6C1111.7 282.9 1110.1 286.2 1109.2 289.5C1108.4 292.8 1107.8 296 1107.4 299.3C1106.9 302.6 1106.4 305.8 1106.2 309.1C1105.9 312.4 1105.5 315.6 1105.5 318.9C1105.3 325.9 1105.2 333 1105.2 340C1105.1 378.3 1105 416.5 1105 454.8H1104.9C1104.9 416.5 1104.8 378.3 1104.8 340C1104.7 333 1104.6 325.9 1104.5 318.9C1104.4 315.6 1104 312.4 1103.8 309.1C1103.5 305.8 1103 302.6 1102.5 299.3C1102.1 296 1101.5 292.8 1100.7 289.5C1099.8 286.2 1098.2 282.9 1096.7 279.6C1095.1 276.3 1093.1 273.1 1090.8 269.8C1088.4 266.5 1084 263.3 1082 260C1079.6 256.1 1077.8 252.3 1076.5 248.4C1075.5 245.1 1074.7 241.9 1074 238.6C1073.2 235.3 1072.1 232.1 1072 228.8C1071.8 225.5 1071.8 222.2 1071.8 218.9C1071.8 215.6 1072 212.4 1072.2 209.1C1072.3 207.1 1072.5 205.1 1072.8 203.1C1073 201.1 1073.2 199.2 1073.7 197.2C1074.1 195.2 1074.7 193.3 1075.5 191.3C1076.4 189.3 1077.9 187.4 1079.7 185.4C1081.4 183.4 1084.4 181.5 1087 179.5C1089.7 177.5 1093.6 175.6 1096 173.6C1098.3 171.6 1100.7 169.7 1101.7 167.7C1102.6 165.7 1103.4 163.8 1103.5 161.8C1103.9 157.9 1104.1 153.9 1104.2 150C1104.3 140 1104.3 130 1104.5 120C1104.6 109.9 1104.7 99.7 1104.9 89.6Z" fill="#3274a1"/>
<path d="M1187.9 76.2H1188C1188 81.9 1188.4 87.7 1189 93.4C1189.1 95.4 1189.4 97.3 1190 99.3C1190.7 101.3 1197.5 103.2 1201.4 105.2C1205.2 107.2 1210.5 109.1 1213.5 111.1C1215.9 112.7 1218 114.4 1219.4 116C1220.1 117 1221.2 117.9 1221.2 118.9C1221.2 120.2 1219.7 121.6 1218.4 122.9C1216.4 124.9 1211.3 126.8 1207.5 128.8C1203.8 130.8 1198 132.7 1195.8 134.7C1192.8 137.3 1190.4 139.9 1189.7 142.5C1188.9 145.1 1188.3 147.8 1188.2 150.4C1188.1 184.2 1188 218 1188 251.8H1187.9C1187.9 218 1187.8 184.2 1187.7 150.4C1187.6 147.8 1187 145.1 1186.2 142.5C1185.5 139.9 1183.1 137.3 1180.2 134.7C1177.9 132.7 1172.1 130.8 1168.4 128.8C1164.6 126.8 1159.5 124.9 1157.5 122.9C1156.2 121.6 1154.8 120.2 1154.8 118.9C1154.8 117.9 1155.8 117 1156.5 116C1157.9 114.4 1160 112.7 1162.5 111.1C1165.4 109.1 1170.7 107.2 1174.5 105.2C1178.4 103.2 1185.2 101.3 1185.9 99.3C1186.5 97.3 1186.8 95.4 1187 93.4C1187.5 87.7 1187.9 81.9 1187.9 76.2Z" fill="#e1812c"/>
<path d="M1270.9 80.8H1271C1271 85 1271.2 89.2 1271.5 93.4C1271.6 95.4 1271.8 97.3 1272.4 99.3C1272.9 101.3 1274.7 103.2 1277.2 105.2C1278.9 106.5 1283.8 107.8 1287 109.1C1290.3 110.4 1294.5 111.7 1297 113C1299.4 114.3 1302 115.7 1302.9 117C1303.5 118 1304.2 118.9 1304.2 119.9C1304.2 120.9 1303.4 121.9 1302.7 122.9C1301.6 124.2 1297.9 125.5 1295 126.8C1292 128.1 1286.9 129.4 1284.2 130.7C1281.3 132 1278.9 133.4 1277.2 134.7C1275.6 136 1274 137.3 1273.4 138.6C1272.4 140.6 1271.8 142.5 1271.7 144.5C1271.3 148 1271.2 151.5 1271.2 155C1271.1 160.2 1271 165.5 1271 170.7H1270.9C1270.9 165.5 1270.8 160.2 1270.8 155C1270.7 151.5 1270.6 148 1270.2 144.5C1270.1 142.5 1269.5 140.6 1268.5 138.6C1267.9 137.3 1266.3 136 1264.7 134.7C1263 133.4 1260.6 132 1257.8 130.7C1255 129.4 1249.9 128.1 1247 126.8C1244 125.5 1240.3 124.2 1239.2 122.9C1238.5 121.9 1237.8 120.9 1237.8 119.9C1237.8 118.9 1238.4 118 1239 117C1239.9 115.7 1242.5 114.3 1245 113C1247.4 111.7 1251.6 110.4 1254.9 109.1C1258.1 107.8 1263 106.5 1264.7 105.2C1267.2 103.2 1269 101.3 1269.5 99.3C1270.1 97.3 1270.3 95.4 1270.5 93.4C1270.7 89.2 1270.9 85 1270.9 80.8Z" fill="#3a923a"/>
<path d="M1353.7 71.7H1354.2C1354.2 74.3 1354.3 77 1354.5 79.6C1354.7 80.9 1356.1 82.3 1357.5 83.6C1358.8 84.9 1362 86.2 1364.7 87.5C1367.3 88.8 1370.8 90.1 1373.5 91.4C1376.4 92.7 1379.4 94.1 1381.4 95.4C1383.2 96.7 1384.7 98 1385.8 99.3C1386.3 100 1387.2 100.6 1387.2 101.3C1387.2 102.3 1386.2 103.2 1385.4 104.2C1384 105.8 1380.5 107.5 1378 109.1C1374.8 111.1 1370.8 113 1368.2 115C1365.5 117 1363.1 118.9 1361.5 120.9C1359.5 123.5 1357.9 126.2 1357 128.8C1356.1 132.1 1355.4 135.3 1355 138.6C1354.7 141.9 1354.4 145.1 1354.4 148.4C1354.2 155.6 1354.2 162.8 1354.2 170C1354.2 173.9 1354.9 177.7 1354.9 181.6C1354.9 186.1 1354.2 190.5 1354.2 195C1354.1 207.6 1354 220.2 1354 232.8H1353.9C1353.9 220.2 1353.8 207.6 1353.8 195C1353.7 190.5 1353 186.1 1353 181.6C1353 177.7 1353.8 173.9 1353.8 170C1353.8 162.8 1353.7 155.6 1353.5 148.4C1353.5 145.1 1353.2 141.9 1352.9 138.6C1352.5 135.3 1351.8 132.1 1350.9 128.8C1350 126.2 1348.4 123.5 1346.4 120.9C1344.8 118.9 1342.4 117 1339.8 115C1337.1 113 1333.1 111.1 1330 109.1C1327.4 107.5 1323.9 105.8 1322.5 104.2C1321.7 103.2 1320.8 102.3 1320.8 101.3C1320.8 100.6 1321.6 100 1322.2 99.3C1323.2 98 1324.7 96.7 1326.5 95.4C1328.5 94.1 1331.5 92.7 1334.4 91.4C1337.1 90.1 1340.6 88.8 1343.2 87.5C1345.9 86.2 1349.1 84.9 1350.5 83.6C1351.8 82.3 1353.2 80.9 1353.4 79.6C1353.6 77 1353.7 74.3 1353.7 71.7Z" fill="#c03d3e"/>
<path d="M1436.9 86.6H1437C1437 92.8 1437.1 99 1437.2 105.2C1437.3 107.8 1437.8 110.4 1438.4 113C1438.8 115 1439.6 116.9 1440.7 118.9C1441.7 120.9 1443.5 122.8 1445 124.8C1446.6 126.8 1448.6 128.7 1450.2 130.7C1452.3 133.3 1454.3 136 1456 138.6C1458.2 141.9 1460.2 145.1 1462 148.4C1464 152.3 1465.9 156.1 1467.7 160C1468.2 161.3 1468.8 162.6 1469.2 163.9C1469.6 164.9 1470.2 165.9 1470.2 166.9C1470.2 167.9 1469.3 168.8 1468.8 169.8C1467.6 171.8 1466.3 173.7 1464 175.7C1462.4 177 1458.5 178.3 1455.5 179.6C1452.6 180.9 1448.7 182.3 1446.2 183.6C1443.9 184.9 1441.6 186.2 1440.4 187.5C1439.1 188.8 1437.9 190.1 1437.8 191.4C1437.5 194 1437.4 196.7 1437.4 199.3C1437.2 209.5 1437.2 219.8 1437.2 230C1437.1 259 1437 288 1437 317H1436.9C1436.9 288 1436.8 259 1436.8 230C1436.7 219.8 1436.7 209.5 1436.5 199.3C1436.5 196.7 1436.4 194 1436.2 191.4C1436 190.1 1434.8 188.8 1433.5 187.5C1432.3 186.2 1430 184.9 1427.7 183.6C1425.2 182.3 1421.3 180.9 1418.4 179.6C1415.4 178.3 1411.5 177 1410 175.7C1407.6 173.7 1406.3 171.8 1405.2 169.8C1404.6 168.8 1403.8 167.9 1403.8 166.9C1403.8 165.9 1404.3 164.9 1404.7 163.9C1405.1 162.6 1405.7 161.3 1406.2 160C1408 156.1 1409.9 152.3 1412 148.4C1413.7 145.1 1415.7 141.9 1417.9 138.6C1419.6 136 1421.6 133.3 1423.8 130.7C1425.3 128.7 1427.3 126.8 1428.9 124.8C1430.4 122.8 1432.2 120.9 1433.2 118.9C1434.3 116.9 1435.1 115 1435.5 113C1436.1 110.4 1436.6 107.8 1436.7 105.2C1436.8 99 1436.9 92.8 1436.9 86.6Z" fill="#9372b2"/>
<path d="M1519.7 82.7H1520.2C1520.5 83.6 1520.8 84.6 1521.2 85.5C1521.7 86.8 1522.4 88.2 1523.5 89.5C1524.9 91.5 1527.9 93.4 1530.5 95.4C1533 97.4 1535.9 99.3 1538.5 101.3C1541.2 103.3 1544 105.2 1546.2 107.2C1548.2 109.1 1550.4 111.1 1551.5 113C1552.2 114.3 1553.2 115.7 1553.2 117C1553.2 118.3 1551.8 119.6 1551 120.9C1549.2 123.5 1546.7 126.2 1544.2 128.8C1541.2 132.1 1536.4 135.3 1533.7 138.6C1530.9 141.9 1528.1 145.1 1526.8 148.4C1525.1 152.3 1524.1 156.1 1523.4 160C1522.7 163.3 1522.2 166.5 1521.9 169.8C1521.5 173.1 1521 176.3 1520.9 179.6C1520.7 182.9 1520.5 186.2 1520.5 189.5C1520.3 196.3 1520.2 203.2 1520.2 210C1520.1 220.9 1520 231.7 1520 242.6H1519.9C1519.9 231.7 1519.8 220.9 1519.8 210C1519.7 203.2 1519.6 196.3 1519.5 189.5C1519.4 186.2 1519.2 182.9 1519 179.6C1518.9 176.3 1518.5 173.1 1518 169.8C1517.7 166.5 1517.2 163.3 1516.5 160C1515.8 156.1 1514.8 152.3 1513.2 148.4C1511.8 145.1 1509 141.9 1506.2 138.6C1503.5 135.3 1498.7 132.1 1495.7 128.8C1493.2 126.2 1490.7 123.5 1489 120.9C1488.1 119.6 1486.8 118.3 1486.8 117C1486.8 115.7 1487.7 114.3 1488.5 113C1489.5 111.1 1491.7 109.1 1493.8 107.2C1495.9 105.2 1498.7 103.3 1501.4 101.3C1504 99.3 1506.9 97.4 1509.5 95.4C1512 93.4 1515 91.5 1516.5 89.5C1517.5 88.2 1518.2 86.8 1518.8 85.5C1519.1 84.6 1519.4 83.6 1519.7 82.7Z" fill="#845b53"/>
<path d="M1588.5 78.1H1617.4C1622 80.1 1626.2 82.2 1628.4 84.2C1630.9 86.7 1632.7 89.1 1633.7 91.6C1634.6 94.1 1635.1 96.5 1635.5 99C1635.8 100.5 1636.2 101.9 1636.2 103.4C1636.2 105.9 1634.6 108.3 1633.4 110.8C1631.9 113.7 1628.7 116.7 1626.8 119.6C1624.8 122.5 1622.8 125.5 1621.5 128.4C1620.3 131.4 1619.3 134.3 1618.7 137.3C1618.1 140.2 1617.4 143.2 1617.4 146.1C1617.4 150 1617.5 154 1617.7 157.9C1617.8 162.8 1618.6 167.8 1619 172.7C1619.6 178.5 1620.4 184.2 1620.9 190C1621.2 194.9 1621.8 199.8 1621.8 204.7C1621.8 209.6 1621.8 214.6 1621.8 219.5C1621.8 224.4 1621.4 229.3 1621.2 234.2C1620.8 239.1 1620.1 244.1 1619.4 249C1618.6 253.9 1617.7 258.8 1616.5 263.7C1615.4 268.6 1613.6 273.5 1612.5 278.4C1611.2 283.3 1610 288.3 1609.2 293.2C1608.9 295.5 1608.7 297.7 1608.5 300C1608.1 302.6 1607.7 305.3 1607.4 307.9C1606.8 311.8 1606.2 315.7 1605.9 319.6C1605.2 325.9 1604.7 332.1 1604.4 338.4H1601.5C1601.2 332.1 1600.7 325.9 1600 319.6C1599.7 315.7 1599.1 311.8 1598.5 307.9C1598.2 305.3 1597.8 302.6 1597.5 300C1597.2 297.7 1597 295.5 1596.7 293.2C1595.9 288.3 1594.7 283.3 1593.5 278.4C1592.3 273.5 1590.5 268.6 1589.4 263.7C1588.2 258.8 1587.3 253.9 1586.5 249C1585.8 244.1 1585.1 239.1 1584.8 234.2C1584.5 229.3 1584.2 224.4 1584.2 219.5C1584.2 214.6 1584.2 209.6 1584.2 204.7C1584.2 199.8 1584.7 194.9 1585 190C1585.5 184.2 1586.3 178.5 1586.9 172.7C1587.3 167.8 1588.1 162.8 1588.2 157.9C1588.4 154 1588.5 150 1588.5 146.1C1588.5 143.2 1587.8 140.2 1587.2 137.3C1586.6 134.3 1585.6 131.4 1584.4 128.4C1583.1 125.5 1581.1 122.5 1579.2 119.6C1577.2 116.7 1574 113.7 1572.5 110.8C1571.3 108.3 1569.8 105.9 1569.8 103.4C1569.8 101.9 1570.1 100.5 1570.4 99C1570.8 96.5 1571.3 94.1 1572.2 91.6C1573.2 89.1 1575 86.7 1577.5 84.2C1579.7 82.2 1583.9 80.1 1588.5 78.1Z" fill="#d684bd"/>
<path d="M1685.2 58.3H1686.8C1687.1 60.1 1687.5 61.8 1688 63.6C1688.9 66.5 1690.2 69.5 1691.8 72.4C1693.3 75.4 1696 78.3 1698.4 81.3C1700.7 84.2 1703.6 87.2 1705.8 90.1C1707.9 93.1 1710.1 96 1711.7 99C1713.2 101.9 1714.6 104.9 1715.5 107.8C1716.4 110.8 1717 113.7 1717.5 116.7C1718.1 119.6 1718.5 122.6 1718.8 125.5C1718.9 127.5 1719.2 129.4 1719.2 131.4C1719.2 134.3 1717.3 137.3 1716.2 140.2C1714.9 144.1 1713.4 148.1 1711.7 152C1709.9 155.9 1707.6 159.9 1705.8 163.8C1703.9 167.7 1702 171.7 1700.7 175.6C1699 180.4 1696.9 185.2 1696.8 190C1696.6 194.9 1696.7 199.8 1696.5 204.7C1696.4 209.6 1695.8 214.6 1695.2 219.5C1694.5 224.4 1693.4 229.3 1692.5 234.2C1691.7 239.1 1690.8 244.1 1690.2 249C1689.5 253.9 1689.1 258.8 1688.7 263.7C1688.2 268.6 1687.8 273.5 1687.5 278.4C1687.1 283.3 1686.8 288.3 1686.7 293.2C1686.5 298.1 1686.3 303 1686.2 307.9C1686.2 311.1 1686.2 314.4 1686.2 317.6H1685.8C1685.7 314.4 1685.7 311.1 1685.7 307.9C1685.6 303 1685.4 298.1 1685.2 293.2C1685.1 288.3 1684.8 283.3 1684.5 278.4C1684.1 273.5 1683.7 268.6 1683.2 263.7C1682.8 258.8 1682.4 253.9 1681.8 249C1681.1 244.1 1680.2 239.1 1679.4 234.2C1678.5 229.3 1677.4 224.4 1676.8 219.5C1676.1 214.6 1675.5 209.6 1675.4 204.7C1675.2 199.8 1675.3 194.9 1675.2 190C1675 185.2 1672.9 180.4 1671.2 175.6C1669.9 171.7 1668 167.7 1666.2 163.8C1664.3 159.9 1662 155.9 1660.2 152C1658.5 148.1 1657 144.1 1655.7 140.2C1654.6 137.3 1652.8 134.3 1652.8 131.4C1652.8 129.4 1653 127.5 1653.2 125.5C1653.4 122.6 1653.8 119.6 1654.4 116.7C1654.9 113.7 1655.5 110.8 1656.5 107.8C1657.3 104.9 1658.7 101.9 1660.2 99C1661.8 96 1664 93.1 1666.2 90.1C1668.3 87.2 1671.2 84.2 1673.5 81.3C1675.9 78.3 1678.6 75.4 1680.2 72.4C1681.7 69.5 1683 66.5 1683.9 63.6C1684.4 61.8 1684.8 60.1 1685.2 58.3Z" fill="#7f7f7f"/>
<path d="M1767.2 99.6H1770.7C1771 102.3 1771.7 105.1 1772.5 107.8C1773.3 110.8 1774.5 113.7 1776 116.7C1777.4 119.6 1779.8 122.6 1781.9 125.5C1783.9 128.4 1786.2 131.4 1788.5 134.3C1790.7 137.3 1793.4 140.2 1795.2 143.2C1796.9 146.1 1798.5 149.1 1799.5 152C1800.3 154 1800.9 155.9 1801.4 157.9C1801.7 159.4 1802.2 160.8 1802.2 162.3C1802.2 164.8 1800.5 167.2 1799 169.7C1797.3 172.7 1793.7 175.6 1790.7 178.6C1786.7 182.4 1780.9 186.2 1777.5 190C1775.7 192 1773.9 193.9 1773 195.9C1771.6 198.8 1770.3 201.8 1770 204.7C1769.7 209.6 1769.6 214.6 1769.5 219.5C1769.4 224.4 1769.2 229.3 1769.2 234.2C1769.2 239.1 1769.9 244.1 1770 249C1770.2 253.9 1770.5 258.8 1770.5 263.7C1770.5 267.6 1770.2 271.6 1770 275.5C1770 277.3 1769.9 279 1769.9 280.8H1768C1768 279 1767.9 277.3 1767.9 275.5C1767.7 271.6 1767.5 267.6 1767.5 263.7C1767.5 258.8 1767.7 253.9 1767.9 249C1768 244.1 1768.7 239.1 1768.7 234.2C1768.7 229.3 1768.5 224.4 1768.5 219.5C1768.3 214.6 1768.2 209.6 1767.9 204.7C1767.6 201.8 1766.3 198.8 1765 195.9C1764 193.9 1762.2 192 1760.5 190C1757 186.2 1751.2 182.4 1747.2 178.6C1744.2 175.6 1740.6 172.7 1738.9 169.7C1737.4 167.2 1735.8 164.8 1735.8 162.3C1735.8 160.8 1736.2 159.4 1736.5 157.9C1737 155.9 1737.6 154 1738.4 152C1739.4 149.1 1741 146.1 1742.8 143.2C1744.5 140.2 1747.2 137.3 1749.5 134.3C1751.7 131.4 1754 128.4 1756 125.5C1758.1 122.6 1760.5 119.6 1762 116.7C1763.4 113.7 1764.6 110.8 1765.5 107.8C1766.2 105.1 1766.9 102.3 1767.2 99.6Z" fill="#a9aa35"/>
</g>
<g fill="none" stroke="#000" stroke-linecap="round">
<path d="M1109.5 90.5h0m-9 1h0m6 1h0m-3 5h0m3 2h1m4 0h0m-13 2h0m2 2h0m10 0h0m-2 1h0m-6 1h0m0 2h0m7 0h0m-6 1h0m2 2h0m-5 2h0m3 0h0m9 2h0m-13 4h0m6 0h0m3 0h1m4 0h0m-2 1h0m-12 1h1m1 3h0m12 0h0m-9 1h0m-7 1h0m13 0h0m-5 1h0m2 2h0m-10 2h0m2 0h0m9 0h0m-9 1h0m12 0h0m-4 1h0m3 0h0m3 4h0m-4 1h0m-8 1h0m6 0h0m2 2h0m2 0h0m2 1h0m-14 3h0m4 0h0m4 0h0m-4 1h0m-5 1h0m9 0h0m-1 2h0m5 1h0m-11 1h0m6 0h0m2 0h1m2 3h0m-1 2h0m-5 1h0m6 0h0m-7 1h0m9 2h0m-12 2h0m-1 1h0m2 0h0m9 0h0m1 1h0m-8 1h0m5 0h0m-4 1h0m-7 1h0m12 0h0m-6 1h0m2 0h1m-6 1h0m7 0h2m-13 1h0m4 0h0m2 0h0m6 0h0m3 1h0m-12 1h0m3 0h0m3 0h0m6 0h0m-13 1h1m4 0h0m4 0h0m-9 1h0m2 0h0m6 0h0m5 0h0m-13 1h1m5 0h0m3 0h0m3 0h0m2 0h0m-16 1h0m3 0h0m3 0h0m2 0h0m-6 1h1m2 0h0m3 0h0m2 0h0m2 0h1m-11 1h1m2 0h2m2 0h6m-15 1h7m2 0h2m2 0h3m-16 1h16m-16 1h14m2 0h0m-16 1h16m-16 1h16m-16 1h15m-15 1h2m2 0h12m-16 1h16m-16 1h8m2 0h3m2 0h1m-16 1h16m-16 1h16m-16 1h5m2 0h9m-16 1h16m-16 1h16m-16 1h1m2 0h9m2 0h2m-16 1h16m-16 1h16m-16 1h16m-15 1h11m2 0h2m-16 1h16m-16 1h11m2 0h0m2 0h1m-16 1h16m-16 1h4m2 0h2m2 0h6m-16 1h1m2 0h7m2 0h1m2 0h1m-16 1h16m-16 1h1m2 0h13m-16 1h1m2 0h12m-15 1h9m2 0h5m-16 1h1m3 0h12m-16 1h16m-15 1h15m-16 1h16m-16 1h16m-16 1h11m2 0h3m-16 1h16m-16 1h9m2 0h0m3 0h1m-15 1h16m-16 1h6m2 0h8m-16 1h16m-16 1h16m-16 1h16m-16 1h3m2 0h11m-16 1h11m2 0h3m-16 1h16m-16 1h8m2 0h2m2 0h1m-15 1h8m2 0h6m-16 1h16m-16 1h16m-16 1h16m-16 1h9m2 0h5m-16 1h16m-16 1h16m-16 1h1m2 0h13m-16 1h6m2 0h6m2 0h0m-16 1h16m-16 1h16m-16 1h16m-16 1h9m2 0h0m2 0h3m-16 1h16m-16 1h2m2 0h4m2 0h6m-16 1h16m-16 1h1m2 0h13m-16 1h16m-16 1h16m-16 1h16m-16 1h16m-16 1h16m-16 1h0m2 0h14m-16 1h3m2 0h11m-16 1h0m3 0h13m-16 1h16m-16 1h16m-16 1h11m2 0h3m-16 1h16m-16 1h3m2 0h11m-16 1h16m-16 1h10m2 0h3m-15 1h16m-15 1h15m-15 1h10m3 0h2m-16 1h0m2 0h1m2 0h3m3 0h5m-15 1h14m-14 1h0m2 0h12m-14 1h11m2 0h0m2 0h0m-15 1h2m3 0h10m-16 1h7m2 0h7m-16 1h13m2 0h1m-16 1h1m2 0h1m2 0h1m2 0h7m-15 1h11m2 0h2m-16 1h5m2 0h2m2 0h5m-16 1h6m2 0h0m2 0h2m3 0h1m-16 1h1m3 0h2m2 0h8m-16 1h1m2 0h2m3 0h6m2 0h0m-16 1h2m2 0h5m2 0h5m-13 1h1m3 0h0m2 0h1m2 0h3m-13 1h2m4 0h4m2 0h0m2 0h0m-16 1h0m3 0h4m2 0h0m2 0h0m4 0h1m-16 1h1m2 0h4m3 0h3m2 0h1m-16 1h0m2 0h0m5 0h4m2 0h1m2 0h0m-12 1h0m4 0h0m2 0h6m-15 1h2m4 0h1m3 0h2m-13 1h1m4 0h0m2 0h0m4 0h0m2 0h1m2 0h0m-16 1h2m2 0h0m4 0h0m4 0h0m2 0h2m-15 1h3m3 0h0m4 0h0m3 0h2m-13 1h0m2 0h0m3 0h0m4 0h1m2 0h0m-15 1h1m2 0h0m2 0h0m3 0h0m6 0h1m-15 1h1m4 0h0m3 0h0m3 0h0m-9 1h0m2 0h0m4 0h0m6 0h1m-5 1h3m3 0h0m-14 1h1m2 0h2m2 0h0m3 0h0m-11 1h0m2 0h0m7 0h2m3 0h0m-12 1h0m3 0h4m4 0h0m-13 1h0m4 0h1m2 0h0m2 0h1m2 0h0m2 0h0m-11 1h0m2 0h0m3 0h0m2 0h1m2 0h1m-14 1h0m2 0h2m5 0h0m2 0h0m2 0h0m2 0h0m-14 1h1m7 0h0m2 0h0m4 0h0m-13 1h0m10 0h0m3 0h0m-2 1h0m2 1h0m-14 1h1m3 0h0m7 0h0m2 0h0m-13 1h2m2 0h1m6 0h0m-11 1h0m8 0h2m2 0h0m-11 1h1m11 0h0m-14 1h1m2 1h0m1 1h0m4 0h0m6 0h0m-13 1h0m5 0h0m2 0h0m2 0h0m4 0h0m1 1h0m-16 4h0m8 0h0m2 0h0m-3 1h0m7 0h0m0 1h0m-13 1h0m10 0h0m5 0h0m-11 1h0m9 0h0m2 0h0m-11 1h0m4 0h0m6 0h0m-1 2h0m-9 1h0m5 2h0m1 1h0m-1 1h0m-7 2h0m8 2h1m2 2h0m2 0h0m-13 2h0m5 1h0m-3 2h0m7 1h0m3 19h0m-14 4h0m4 6h0m-5 20h0m16 10h0m-8 39h0m5 24h0" stroke-width="2.1"/>
<path d="M1100.5 103.5h0m5 23h0m-4 35h0m3 6h0m-7 2h0m11 3h0m-5 3h0m-4 1h1m3 1h1m2 0h0m-8 1h0m2 0h0m2 0h0m2 0h0m2 0h2m2 0h3m-15 1h6m2 0h5m-14 1h1m2 0h3m2 0h0m2 0h4m2 0h0m-16 1h4m2 0h10m-16 1h3m2 0h11m-16 1h0m3 0h3m2 0h4m2 0h1m-14 1h1m2 0h1m2 0h6m2 0h0m-15 1h16m-16 1h3m2 0h3m2 0h0m2 0h0m3 0h1m-16 1h2m2 0h2m3 0h5m2 0h0m-16 1h1m2 0h13m-15 1h4m2 0h1m2 0h6m-16 1h4m3 0h9m-15 1h0m6 0h5m2 0h2m-16 1h1m2 0h1m2 0h6m2 0h1m-13 1h7m3 0h0m2 0h1m-14 1h4m3 0h2m2 0h3m-15 1h0m2 0h0m2 0h1m2 0h6m2 0h1m-15 1h0m2 0h8m3 0h0m2 0h0m-16 1h3m2 0h7m2 0h2m-16 1h5m2 0h3m3 0h0m2 0h1m-16 1h0m2 0h1m2 0h8m2 0h1m-16 1h1m2 0h1m2 0h2m2 0h6m-16 1h0m3 0h7m3 0h0m2 0h1m-16 1h10m2 0h4m-16 1h1m2 0h2m2 0h4m2 0h3m-16 1h1m2 0h10m2 0h0m-15 1h6m2 0h1m2 0h1m2 0h2m-16 1h1m3 0h9m2 0h1m-16 1h16m-15 1h12m2 0h1m-16 1h4m2 0h10m-16 1h12m2 0h2m-15 1h9m3 0h3m-16 1h5m2 0h2m2 0h5m-16 1h6m2 0h1m2 0h0m3 0h0m-13 1h3m2 0h10m-16 1h6m2 0h8m-16 1h10m2 0h4m-16 1h10m2 0h3m-15 1h16m-15 1h2m2 0h5m2 0h4m-16 1h11m2 0h3m-16 1h2m2 0h9m2 0h1m-16 1h6m2 0h0m2 0h0m2 0h0m2 0h0m-14 1h1m2 0h5m2 0h6m-16 1h5m2 0h1m2 0h2m2 0h2m-15 1h8m2 0h5m-16 1h2m3 0h2m2 0h3m2 0h1m-15 1h9m3 0h0m3 0h1m-16 1h1m2 0h11m2 0h0m-16 1h3m2 0h8m2 0h1m-16 1h1m2 0h12m-15 1h6m3 0h4m3 0h0m-16 1h6m3 0h7m-16 1h3m2 0h4m2 0h1m2 0h2m-16 1h16m-15 1h0m3 0h5m4 0h1m2 0h0m-16 1h9m2 0h3m2 0h0m-16 1h1m3 0h4m2 0h2m2 0h2m-16 1h1m3 0h4m2 0h0m2 0h0m2 0h2m-16 1h1m3 0h4m2 0h6m-16 1h0m2 0h1m2 0h8m2 0h0m-15 1h16m-16 1h2m2 0h12m-16 1h6m2 0h2m2 0h4m-16 1h6m2 0h5m-13 1h0m2 0h2m2 0h4m2 0h4m-16 1h3m2 0h11m-16 1h0m3 0h2m2 0h9m-16 1h16m-14 1h1m2 0h4m2 0h4m-15 1h4m2 0h4m3 0h3m-15 1h0m2 0h5m2 0h2m2 0h2m-16 1h3m3 0h1m2 0h7m-16 1h2m2 0h0m2 0h8m-14 1h2m2 0h5m3 0h1m2 0h0m-13 1h0m3 0h0m2 0h2m3 0h1m-12 1h2m3 0h0m2 0h0m2 0h4m2 0h0m-15 1h8m2 0h0m3 0h0m2 0h0m-16 1h0m2 0h1m2 0h1m7 0h3m-15 1h0m2 0h9m3 0h0m-14 1h0m3 0h11m-14 1h2m2 0h1m2 0h4m2 0h0m2 0h0m-14 1h0m4 0h0m2 0h0m2 0h1m2 0h3m-16 1h2m3 0h1m4 0h0m2 0h2m-14 1h2m2 0h1m2 0h0m2 0h1m2 0h1m3 0h0m-13 1h0m6 0h0m2 0h0m2 0h3m-13 1h1m6 0h2m2 0h2m-16 1h2m5 0h1m3 0h0m2 0h1m-14 1h2m2 0h0m2 0h0m2 0h0m2 0h1m4 0h0m-14 1h0m4 0h0m4 0h4m2 0h1m-15 1h0m2 0h2m4 0h1m2 0h1m3 0h0m-15 1h0m3 0h0m2 0h1m2 0h0m2 0h0m2 0h0m-10 1h0m4 0h0m2 0h1m3 0h1m-5 1h0m2 0h0m-11 1h0m7 0h0m-7 1h1m3 0h1m2 0h0m5 0h1m-13 1h0m11 0h0m0 1h2m3 0h0m-15 1h0m2 0h0m10 0h0m-6 1h0m-7 1h2m2 0h0m11 0h0m-11 1h0m3 0h0m4 0h0m4 0h0m-7 1h0m4 0h0m-12 1h0m3 0h0m2 0h0m6 1h0m-9 1h0m12 0h0m-3 1h0m5 0h0m-14 1h1m0 1h0m7 0h0m-4 1h0m3 0h0m-4 1h0m3 0h0m-7 2h0m3 0h1m5 0h0m-8 1h0m11 1h0m-3 5h0m-9 2h0m4 2h0" stroke-width="2.6"/>
<path d="M1103.5 175.5h0m-3 1h0m3 1h0m3 0h0m-8 1h0m2 0h0m2 0h0m4 0h0m2 0h0m2 0h0m3 0h0m-14 1h0m2 0h3m2 0h1m2 0h2m-13 1h0m3 0h2m2 0h0m2 0h0m2 0h2m-14 1h0m2 0h0m2 0h0m4 0h0m4 0h2m2 0h0m-15 1h1m4 0h1m2 0h5m-11 1h1m2 0h0m4 0h1m3 0h0m-13 1h1m2 0h1m4 0h4m2 0h0m-14 1h3m3 0h2m2 0h5m-15 1h0m2 0h0m2 0h1m2 0h0m2 0h0m2 0h0m3 0h0m-15 1h0m2 0h0m2 0h1m5 0h0m2 0h0m2 0h0m2 0h0m-13 1h2m2 0h6m2 0h1m-13 1h0m2 0h0m2 0h0m5 0h3m-15 1h0m2 0h2m3 0h4m2 0h0m3 0h0m-15 1h0m6 0h2m2 0h0m3 0h0m2 0h0m-15 1h0m2 0h1m2 0h4m2 0h0m2 0h1m-12 1h1m2 0h2m4 0h0m-11 1h4m3 0h2m2 0h1m2 0h0m-15 1h0m2 0h0m2 0h1m3 0h1m2 0h0m2 0h0m2 0h1m-15 1h0m2 0h1m2 0h1m3 0h0m4 0h0m2 0h0m-16 1h0m6 0h4m2 0h0m3 0h0m-15 1h5m2 0h0m3 0h0m5 0h1m-16 1h0m3 0h0m3 0h7m3 0h0m-16 1h1m3 0h0m2 0h0m2 0h0m2 0h1m3 0h0m-14 1h0m3 0h1m2 0h1m2 0h1m3 0h0m2 0h1m-16 1h0m3 0h2m2 0h0m3 0h0m2 0h3m-14 1h0m2 0h2m2 0h4m2 0h0m2 0h0m-15 1h1m3 0h4m2 0h1m2 0h0m-13 1h1m2 0h3m3 0h0m2 0h1m3 0h1m-15 1h0m3 0h1m2 0h6m-12 1h0m2 0h2m3 0h1m2 0h0m2 0h3m-15 1h0m2 0h1m2 0h4m2 0h0m3 0h1m-16 1h0m2 0h2m2 0h3m2 0h3m-14 1h0m2 0h3m2 0h1m2 0h0m2 0h0m2 0h2m-15 1h9m3 0h1m2 0h0m-16 1h2m2 0h1m6 0h1m2 0h0m2 0h0m-15 1h1m2 0h0m2 0h0m2 0h1m5 0h0m-13 1h3m3 0h1m2 0h0m2 0h3m-14 1h4m3 0h3m2 0h3m-15 1h5m2 0h1m3 0h0m2 0h0m2 0h0m-15 1h2m2 0h1m3 0h1m5 0h0m-15 1h3m2 0h5m2 0h1m2 0h1m-15 1h0m2 0h0m2 0h5m2 0h4m-16 1h0m2 0h1m2 0h5m3 0h1m2 0h0m-14 1h0m2 0h1m2 0h0m2 0h1m2 0h1m3 0h0m-16 1h2m3 0h1m4 0h0m2 0h0m2 0h0m-14 1h0m3 0h0m2 0h3m2 0h5m-14 1h2m2 0h0m2 0h1m4 0h0m2 0h2m-13 1h2m2 0h0m5 0h0m2 0h0m2 0h0m-16 1h2m4 0h1m3 0h2m2 0h1m-15 1h1m2 0h0m2 0h0m2 0h1m4 0h0m3 0h1m-15 1h0m3 0h0m3 0h4m2 0h1m2 0h0m-16 1h1m2 0h0m2 0h4m2 0h2m2 0h1m-16 1h1m2 0h12m-14 1h0m2 0h2m4 0h1m3 0h0m-13 1h6m3 0h7m-14 1h1m2 0h2m2 0h0m2 0h1m3 0h0m-15 1h1m3 0h9m3 0h0m-15 1h0m3 0h0m2 0h2m5 0h1m2 0h0m-15 1h7m4 0h2m-14 1h1m3 0h3m4 0h0m3 0h1m-11 1h2m2 0h0m2 0h0m4 0h1m-15 1h1m4 0h1m2 0h0m3 0h2m2 0h0m-15 1h0m3 0h0m3 0h1m2 0h4m2 0h0m-15 1h1m4 0h0m2 0h5m2 0h1m-15 1h2m3 0h0m2 0h2m3 0h0m2 0h1m-15 1h0m2 0h4m2 0h2m2 0h0m3 0h1m-16 1h6m2 0h1m2 0h1m-12 1h0m2 0h1m3 0h1m3 0h0m2 0h0m2 0h0m2 0h0m-16 1h1m2 0h0m2 0h1m2 0h8m-9 1h1m2 0h2m2 0h2m-16 1h7m3 0h5m-13 1h1m2 0h1m2 0h0m3 0h4m-15 1h2m4 0h2m5 0h2m-14 1h0m2 0h0m2 0h0m3 0h0m4 0h0m2 0h0m-14 1h0m2 0h1m6 0h2m2 0h2m-15 1h1m3 0h0m6 0h1m-11 1h2m2 0h0m3 0h0m5 0h0m3 0h0m-6 1h0m4 0h0m-11 1h1m5 0h0m2 0h2m2 0h0m-13 1h2m2 0h1m2 0h1m2 0h0m3 0h0m2 0h0m-14 1h1m3 0h0m7 0h0m2 0h0m-14 1h0m3 0h0m2 0h0m2 0h0m3 0h1m-11 1h0m3 0h1m4 0h2m3 0h1m-13 1h1m2 0h1m2 0h0m2 0h0m2 0h0m2 0h0m-12 1h0m4 0h0m2 0h0m2 0h1m2 0h3m-16 1h0m2 0h0m3 0h1m4 0h0m2 0h0m-12 1h0m2 0h0m2 0h0m9 0h0m-10 1h0m8 0h0m2 0h1m2 0h0m-6 1h1m4 0h0m-15 1h2m11 0h0m-11 1h0m4 0h0m5 0h0m4 0h0m-6 1h1m3 0h0m2 0h0m-14 1h0m3 0h0m5 0h1m2 0h0m-11 1h0m5 0h0m3 0h0m2 0h0m-2 1h0m4 0h0m-13 3h1m11 0h0m4 2h0m-13 1h0m10 0h0m-6 1h0m-7 1h0m2 0h0m13 0h0m0 1h0m-13 6h0m7 2h0" stroke-width="3.0"/>
<path d="M1196.5 77.5h0m0 2h0m-9 2h0m-2 3h0m-4 3h0m11 1h0m-10 1h0m2 0h0m6 0h0m4 0h1m-10 2h0m10 1h0m-2 1h0m-12 1h1m2 0h0m3 0h0m3 0h0m3 0h0m2 1h0m-11 1h0m2 0h0m9 0h0m-13 1h0m2 0h0m4 0h0m2 0h0m6 0h0m-2 1h0m-14 1h0m8 0h0m4 0h2m2 0h0m-14 1h0m2 0h0m2 0h0m2 0h2m2 0h0m2 0h0m-13 1h2m3 0h0m4 0h2m2 0h1m-15 1h0m5 0h0m2 0h8m-15 1h11m2 0h2m-15 1h0m2 0h7m3 0h1m2 0h0m-15 1h0m2 0h8m2 0h4m-16 1h4m2 0h10m-15 1h15m-16 1h16m-16 1h16m-16 1h1m2 0h13m-16 1h16m-16 1h15m-15 1h16m-16 1h16m-16 1h16m-16 1h16m-16 1h3m2 0h11m-16 1h16m-16 1h16m-16 1h16m-16 1h14m2 0h0m-16 1h16m-16 1h16m-16 1h0m2 0h14m-16 1h16m-16 1h0m2 0h14m-16 1h16m-16 1h16m-16 1h6m2 0h5m2 0h0m-15 1h9m2 0h0m2 0h3m-16 1h11m2 0h2m-14 1h13m2 0h0m-15 1h6m2 0h2m2 0h3m-15 1h2m2 0h4m2 0h0m2 0h1m2 0h0m-15 1h2m2 0h1m2 0h7m-14 1h2m2 0h7m3 0h1m-13 1h5m2 0h1m2 0h0m2 0h1m-10 1h3m2 0h1m2 0h2m-12 1h1m3 0h0m5 0h0m-12 1h0m9 0h0m4 0h1m-14 1h0m4 0h0m2 0h2m2 0h0m3 0h0m-8 1h0m6 0h1m2 0h0m-15 1h0m4 0h0m2 0h0m6 0h0m2 0h0m-9 1h0m3 0h0m8 0h0m-13 1h0m7 0h0m6 0h0m-4 1h0m-10 2h1m7 0h0m5 0h0m-7 1h0m2 0h0m-3 2h0m5 0h0m-2 1h0m4 0h0m-14 2h0m0 4h0m4 10h0m9 0h0m-9 18h0m1 3h0m8 6h0m-9 20h0m7 26h0m-1 11h0" stroke-width="2.1"/>
<path d="M1186.5 96.5h0m9 0h0m-7 1h0m4 3h0m-12 2h0m8 0h7m-12 1h1m4 0h2m5 0h0m-15 1h0m3 0h1m2 0h2m5 0h0m2 0h0m-15 1h0m2 0h1m3 0h2m2 0h0m2 0h0m2 0h2m-16 1h3m3 0h1m2 0h7m-15 1h2m2 0h2m2 0h0m3 0h1m2 0h0m-15 1h0m2 0h4m2 0h6m2 0h0m-16 1h14m-14 1h1m2 0h1m2 0h10m-16 1h16m-16 1h0m2 0h13m-15 1h15m-15 1h6m2 0h8m-16 1h5m2 0h9m-16 1h15m-15 1h3m2 0h2m2 0h7m-16 1h16m-16 1h9m2 0h1m2 0h2m-16 1h8m2 0h6m-16 1h6m2 0h3m2 0h1m-14 1h16m-16 1h16m-16 1h0m2 0h14m-16 1h14m2 0h0m-16 1h0m2 0h13m-15 1h4m2 0h10m-16 1h2m2 0h0m2 0h6m2 0h2m-16 1h6m2 0h0m2 0h3m2 0h0m-14 1h4m2 0h2m2 0h0m2 0h3m-16 1h2m2 0h1m2 0h4m3 0h1m-14 1h0m4 0h4m2 0h3m2 0h0m-14 1h0m4 0h1m2 0h2m2 0h3m-14 1h0m3 0h4m2 0h0m2 0h0m-7 1h0m8 0h0m-11 1h0m3 0h0m2 0h2m2 0h0m4 0h0m-12 1h2m2 0h0m2 0h1m-3 1h1m-1 1h0m2 1h0m5 0h0m-9 3h0m6 0h0" stroke-width="2.6"/>
<path d="M1188.5 102.5h0m-5 1h0m5 0h0m-5 1h1m2 0h0m2 0h0m-5 1h0m4 0h1m2 0h0m2 0h0m2 0h1m-15 1h2m4 0h0m6 0h2m-13 1h0m2 0h0m2 0h1m3 0h0m3 0h1m2 0h0m-15 1h0m2 0h3m4 0h2m2 0h1m2 0h0m-16 1h2m2 0h6m3 0h1m-14 1h1m2 0h1m2 0h3m3 0h0m2 0h2m-16 1h3m3 0h3m3 0h0m2 0h1m-15 1h0m2 0h13m-14 1h14m-15 1h4m2 0h0m2 0h0m3 0h5m-16 1h5m2 0h8m-15 1h15m-15 1h2m3 0h2m2 0h4m2 0h1m-16 1h5m2 0h9m-16 1h9m2 0h1m2 0h2m-16 1h5m2 0h1m2 0h0m3 0h3m-16 1h6m2 0h3m2 0h1m-14 1h15m-15 1h2m2 0h9m2 0h0m-15 1h0m3 0h5m2 0h0m2 0h3m-15 1h0m2 0h6m2 0h4m2 0h0m-16 1h0m2 0h3m2 0h4m3 0h1m-14 1h0m3 0h0m2 0h2m2 0h1m2 0h0m2 0h1m-15 1h1m2 0h0m3 0h5m2 0h2m-14 1h4m4 0h0m2 0h0m3 0h0m-14 1h4m4 0h0m2 0h0m4 0h1m-16 1h0m8 0h1m5 0h0m-9 1h2m4 0h0m5 0h0m-9 1h0m2 0h0m2 0h0m2 0h1m-12 1h0m3 0h1m5 0h0m2 0h0m-5 2h2m2 0h0m4 0h0m-10 1h0m4 0h0m-2 1h0m4 5h0" stroke-width="3.0"/>
<path d="M1272.5 81.5h0m4 6h0m1 1h0m-14 1h0m8 1h0m1 1h0m4 1h0m2 0h0m-11 1h0m10 0h0m-12 2h0m6 0h0m8 0h0m-15 1h0m8 0h0m-6 1h0m7 0h1m4 0h0m-3 1h0m-10 1h0m2 0h0m3 0h0m2 0h0m-5 1h0m5 0h0m2 0h0m-11 1h1m2 0h0m5 0h0m2 0h0m2 0h0m-12 1h0m2 0h2m2 0h1m5 0h0m2 0h0m-13 1h2m3 0h1m6 0h3m-15 1h1m3 0h2m3 0h1m2 0h0m2 0h1m-16 1h1m7 0h8m-15 1h6m3 0h0m2 0h1m2 0h1m-15 1h6m2 0h0m2 0h5m-16 1h16m-16 1h10m2 0h4m-16 1h1m2 0h13m-16 1h5m2 0h9m-16 1h16m-16 1h16m-16 1h16m-16 1h16m-16 1h16m-16 1h16m-16 1h16m-16 1h16m-16 1h3m2 0h11m-16 1h16m-16 1h16m-16 1h16m-16 1h16m-16 1h16m-16 1h16m-16 1h16m-16 1h16m-16 1h16m-16 1h16m-16 1h1m2 0h7m2 0h4m-16 1h13m2 0h1m-16 1h1m2 0h12m-15 1h0m2 0h4m2 0h2m4 0h2m-13 1h3m2 0h3m4 0h1m-14 1h0m3 0h4m2 0h0m2 0h0m-13 1h0m5 0h0m2 0h0m2 0h1m2 0h3m-12 1h0m3 0h0m4 0h3m-13 1h0m2 0h0m3 0h0m4 0h2m3 0h0m2 0h0m-14 1h0m8 0h2m4 0h0m-4 1h0m1 1h1m-12 1h0m5 0h0m6 0h0m-12 1h0m3 2h1m-2 1h0m2 0h0m6 1h0m-4 1h0m-5 1h0m13 2h0m-1 4h0m-13 5h0m14 1h0m-4 8h0" stroke-width="2.1"/>
<path d="M1265.5 95.5h0m7 1h0m3 5h0m-9 1h0m4 1h0m6 0h1m-12 1h0m11 0h0m-13 1h0m9 0h0m2 0h0m-10 1h3m2 0h0m7 0h0m3 0h0m-14 1h1m2 0h2m2 0h0m2 0h0m2 0h0m-12 1h5m3 0h0m2 0h4m-14 1h3m2 0h1m2 0h0m3 0h4m-16 1h1m2 0h8m2 0h3m-16 1h4m3 0h8m-15 1h6m2 0h4m2 0h2m-15 1h15m-16 1h16m-16 1h15m-15 1h5m2 0h9m-16 1h4m2 0h10m-16 1h16m-16 1h16m-16 1h3m3 0h10m-16 1h16m-16 1h16m-16 1h16m-16 1h1m2 0h8m3 0h2m-16 1h16m-16 1h16m-16 1h8m2 0h3m2 0h1m-16 1h3m3 0h0m2 0h0m2 0h2m2 0h2m-15 1h6m3 0h5m-14 1h0m2 0h4m2 0h0m2 0h2m3 0h0m-16 1h1m3 0h0m2 0h3m3 0h3m-15 1h2m2 0h1m2 0h0m3 0h0m3 0h0m3 0h0m-16 1h1m5 0h5m4 0h0m-15 1h0m3 0h2m9 0h1m-10 1h1m4 0h1m4 0h0m-8 1h0m2 0h0m2 0h0m3 3h0" stroke-width="2.6"/>
<path d="M1274.5 105.5h0m2 1h0m-11 1h1m3 0h0m3 0h0m4 0h0m-10 1h1m2 0h0m3 0h0m2 0h0m3 0h0m-13 1h3m9 0h0m-13 1h1m2 0h5m2 0h1m2 0h0m2 0h0m-15 1h0m2 0h2m3 0h8m-15 1h6m2 0h0m2 0h0m4 0h1m-14 1h10m2 0h3m-16 1h8m2 0h6m-16 1h15m-14 1h4m2 0h1m2 0h0m3 0h3m-16 1h4m2 0h10m-16 1h16m-16 1h7m2 0h0m2 0h0m2 0h3m-16 1h3m3 0h5m2 0h3m-16 1h8m2 0h1m2 0h0m2 0h1m-16 1h16m-16 1h13m2 0h1m-16 1h1m2 0h8m3 0h2m-15 1h12m2 0h1m-16 1h16m-16 1h5m2 0h1m3 0h2m2 0h0m-14 1h2m3 0h0m4 0h2m2 0h2m-13 1h2m2 0h0m3 0h1m3 0h1m-12 1h1m2 0h1m4 0h0m2 0h0m3 0h0m-15 1h0m3 0h0m2 0h0m2 0h1m5 0h1m-13 1h0m8 0h0m-10 1h1m5 0h0m3 0h2m4 0h0m-12 1h0m11 0h1m-10 1h0m6 1h0" stroke-width="3.0"/>
<path d="M1357.5 72.5h0m0 3h0m-6 1h0m-4 1h0m4 0h0m9 3h0m-3 1h0m-7 1h1m4 0h0m4 0h1m-9 1h0m4 0h0m-9 1h0m3 0h1m3 0h0m6 0h0m2 0h0m-14 1h0m6 0h0m6 0h3m-16 1h0m2 0h0m4 0h0m2 0h3m5 0h0m-14 1h1m2 0h3m2 0h2m3 0h0m-15 1h16m-16 1h8m2 0h0m2 0h1m2 0h0m-14 1h4m2 0h0m2 0h1m2 0h4m-16 1h11m2 0h2m-15 1h10m2 0h4m-16 1h16m-16 1h8m2 0h3m2 0h1m-16 1h9m2 0h5m-16 1h16m-16 1h16m-16 1h7m2 0h7m-16 1h16m-16 1h16m-16 1h15m-15 1h16m-16 1h13m2 0h1m-16 1h4m2 0h10m-16 1h16m-16 1h14m2 0h0m-16 1h7m3 0h1m2 0h3m-16 1h2m2 0h0m2 0h10m-16 1h4m2 0h10m-15 1h15m-16 1h7m2 0h7m-16 1h2m2 0h5m2 0h4m-14 1h13m-14 1h0m3 0h0m4 0h8m-15 1h7m3 0h5m-15 1h0m2 0h2m3 0h1m2 0h0m3 0h2m-14 1h2m2 0h3m3 0h1m3 0h0m-13 1h0m2 0h4m2 0h1m2 0h2m-15 1h1m2 0h2m2 0h0m2 0h0m2 0h5m-16 1h8m2 0h0m3 0h1m2 0h0m-16 1h1m2 0h0m4 0h0m2 0h1m3 0h2m-15 1h0m4 0h1m3 0h0m2 0h3m3 0h0m-13 1h0m2 0h1m6 0h3m-14 1h0m3 0h0m2 0h1m2 0h0m3 0h0m3 0h1m-13 1h3m3 0h0m3 0h0m3 0h0m-12 1h1m2 0h1m3 0h1m-11 1h1m4 0h0m4 0h0m3 0h0m2 0h0m-13 1h0m4 0h0m2 0h2m2 0h2m-13 1h1m5 0h0m2 0h0m3 0h0m2 0h1m-6 1h0m6 0h0m-12 1h0m14 0h0m-14 1h0m8 0h0m2 0h1m-12 1h0m15 0h0m-8 1h0m3 0h1m-9 2h0m6 0h0m-9 1h0m11 0h0m3 0h0m-3 1h0m-6 2h0m4 0h0m-8 1h0m3 0h0m2 1h0m7 0h0m-11 1h0m6 0h0m7 0h1m-9 1h0m4 0h0m2 4h0m-2 1h0m-7 1h0m8 2h0m-3 1h0m4 5h0m-4 2h0m1 1h0m-3 11h0m4 0h0m-5 5h0m-3 1h0m9 0h0m-11 1h0m10 0h0m3 1h0m1 1h0m-15 1h0m5 1h0m4 0h0m7 1h0m-7 1h0m-8 1h0m5 1h0m4 0h0m-8 1h0m8 0h0m3 1h0m-1 3h0m-12 5h0m6 1h0m0 7h0m8 0h0m-8 2h0m-4 1h0m9 3h0m-4 4h0m-5 1h0m2 1h0m0 1h0m9 3h0m1 5h0m1 2h0m-13 2h0m4 0h0m3 0h0m0 3h0" stroke-width="2.1"/>
<path d="M1350.5 82.5h0m5 0h0m-2 2h0m8 1h0m-9 1h0m3 0h0m-7 1h0m6 0h0m3 0h1m-11 1h0m2 0h2m2 0h1m2 0h3m2 0h1m-16 1h0m2 0h1m3 0h0m2 0h0m2 0h0m2 0h0m-9 1h1m3 0h0m2 0h1m2 0h2m2 0h0m-15 1h1m2 0h2m2 0h1m2 0h0m2 0h0m2 0h0m-15 1h0m2 0h0m2 0h4m2 0h0m2 0h1m2 0h0m-15 1h0m2 0h0m2 0h1m4 0h3m2 0h1m-15 1h8m2 0h2m3 0h1m-16 1h2m2 0h1m2 0h2m2 0h5m-16 1h1m2 0h4m2 0h3m2 0h2m-16 1h1m2 0h4m2 0h6m-15 1h4m2 0h1m2 0h5m2 0h0m-16 1h1m2 0h11m2 0h0m-16 1h0m2 0h10m2 0h1m-15 1h8m2 0h5m-15 1h2m2 0h2m2 0h8m-16 1h7m2 0h4m2 0h1m-14 1h2m3 0h1m2 0h2m2 0h1m-15 1h0m2 0h13m-15 1h14m2 0h0m-16 1h6m5 0h0m2 0h0m2 0h1m-16 1h2m2 0h0m2 0h1m2 0h6m-12 1h1m2 0h6m3 0h1m-15 1h1m3 0h4m3 0h2m-14 1h0m3 0h4m2 0h0m2 0h0m3 0h2m-16 1h2m5 0h2m2 0h1m2 0h0m-13 1h1m2 0h0m2 0h7m-13 1h0m3 0h0m5 0h1m2 0h2m2 0h0m-14 1h4m2 0h0m3 0h1m2 0h2m-15 1h0m3 0h0m7 0h0m-9 1h2m4 0h0m4 0h1m3 0h0m-11 1h0m2 0h0m-6 1h0m4 0h1m2 0h0m6 0h1m2 0h0m-15 1h1m2 0h3m3 0h0m-7 1h0m4 0h0m6 0h0m-8 1h0m3 0h0m-2 1h0m7 0h1m-10 1h0m2 0h0m3 0h0m-5 1h0m3 1h0m-6 1h0m12 1h0m1 1h0m0 1h0m-3 4h0m0 3h0m-3 6h0m3 29h0m1 6h0" stroke-width="2.6"/>
<path d="M1352.5 86.5h0m2 1h0m-7 1h0m4 0h0m6 0h0m2 0h0m2 0h0m-15 1h0m2 0h0m4 0h0m3 1h1m2 0h0m2 0h0m-13 1h1m2 0h2m3 0h0m4 0h0m2 0h0m-15 1h0m4 0h3m5 0h1m-13 1h0m4 0h0m5 0h0m2 0h1m-12 1h0m2 0h3m2 0h1m2 0h0m2 0h0m-12 1h0m9 0h0m4 0h0m2 0h1m-16 1h1m2 0h1m2 0h1m2 0h0m2 0h0m3 0h2m-16 1h1m3 0h1m4 0h3m2 0h1m-14 1h3m2 0h1m2 0h0m2 0h3m2 0h0m-13 1h11m2 0h0m-16 1h0m2 0h1m3 0h0m2 0h4m2 0h1m-15 1h8m3 0h3m-14 1h2m3 0h1m2 0h0m2 0h0m3 0h3m-16 1h7m2 0h1m-8 1h1m4 0h0m3 0h0m2 0h0m2 0h0m-12 1h0m2 0h3m2 0h6m-15 1h1m2 0h3m2 0h4m2 0h0m2 0h0m-15 1h0m2 0h3m7 0h0m-13 1h2m2 0h0m2 0h1m5 0h0m2 0h1m-12 1h0m6 0h2m4 0h1m-15 1h1m3 0h0m3 0h0m4 0h0m-12 1h0m4 0h3m4 0h0m3 0h1m-14 1h1m5 0h0m2 0h0m2 0h1m-11 1h1m2 0h0m4 0h1m2 0h0m-2 1h0m2 0h0m2 0h0m-11 1h0m3 0h0m9 0h1m-15 1h0m1 1h0m2 0h0m4 0h0m4 0h0m4 0h0m-9 1h0m-4 2h0m3 0h2m3 0h0m-3 1h0m6 0h0m1 2h0m0 6h0" stroke-width="3.0"/>
<path d="M1438.5 87.5h0m-1 1h0m6 4h0m-3 13h0m4 2h0m-14 5h0m8 0h0m6 0h0m-5 1h0m3 3h0m2 1h0m-15 2h0m8 0h0m-8 1h0m5 0h0m2 0h0m-6 1h1m7 0h0m-7 1h0m2 0h0m3 0h0m4 0h0m3 0h0m2 0h0m-15 1h1m2 0h0m4 0h0m7 0h0m-12 1h1m2 0h1m6 0h0m-12 1h2m7 0h0m2 0h1m-11 1h0m4 0h0m6 0h0m2 0h2m-15 1h0m4 0h1m5 0h0m3 0h0m2 0h0m-15 1h0m3 0h0m2 0h1m2 0h0m3 0h1m2 0h0m-15 1h0m10 0h0m-10 1h2m4 0h5m2 0h3m-14 1h0m3 0h2m6 0h0m3 0h0m-16 1h2m4 0h0m4 0h0m2 0h1m-12 1h0m3 0h0m4 0h1m2 0h0m5 0h0m-16 1h0m6 0h0m3 0h0m3 0h0m2 0h1m-14 1h1m5 0h0m3 0h1m3 0h0m2 0h0m-16 1h1m3 0h0m2 0h1m2 0h0m2 0h0m3 0h1m-14 1h1m3 0h1m5 0h2m-11 1h0m4 0h0m4 0h1m4 0h0m-15 1h0m2 0h2m2 0h3m2 0h1m2 0h2m-15 1h2m4 0h1m3 0h2m2 0h0m-14 1h2m2 0h2m6 0h0m2 0h1m-16 1h0m2 0h0m2 0h0m3 0h0m2 0h1m6 0h0m-14 1h0m2 0h8m3 0h1m-14 1h1m2 0h0m2 0h0m2 0h0m2 0h1m3 0h1m-15 1h0m7 0h1m2 0h0m4 0h0m-15 1h0m2 0h0m2 0h0m2 0h0m2 0h1m2 0h1m2 0h2m-16 1h5m3 0h0m4 0h0m2 0h0m2 0h0m-16 1h3m2 0h3m2 0h0m3 0h3m-16 1h3m2 0h1m4 0h2m2 0h2m-16 1h3m2 0h0m2 0h3m2 0h4m-15 1h2m8 0h3m-13 1h0m2 0h2m2 0h2m2 0h2m2 0h0m-14 1h0m2 0h0m3 0h1m3 0h1m2 0h0m2 0h1m-15 1h2m3 0h1m2 0h1m2 0h0m2 0h1m-14 1h6m2 0h4m2 0h0m-14 1h0m4 0h0m2 0h0m4 0h1m3 0h1m-16 1h1m3 0h3m2 0h0m2 0h3m2 0h0m-14 1h0m3 0h3m2 0h0m2 0h0m3 0h0m-15 1h0m2 0h1m2 0h3m2 0h1m4 0h1m-16 1h0m3 0h0m3 0h2m4 0h0m2 0h1m-13 1h2m2 0h1m2 0h5m2 0h0m-16 1h1m3 0h1m2 0h3m2 0h4m-16 1h5m2 0h0m2 0h1m2 0h0m2 0h2m-16 1h2m2 0h3m2 0h1m2 0h3m-15 1h1m2 0h2m3 0h0m2 0h6m-16 1h5m2 0h0m2 0h2m2 0h0m2 0h1m-15 1h7m2 0h0m2 0h3m-13 1h4m2 0h6m-14 1h1m2 0h0m2 0h3m2 0h5m-15 1h2m2 0h12m-16 1h0m2 0h9m2 0h2m-15 1h2m5 0h4m2 0h0m2 0h1m-15 1h0m2 0h6m2 0h5m-16 1h0m2 0h6m2 0h4m2 0h0m-16 1h1m2 0h1m2 0h0m2 0h0m2 0h2m2 0h1m-13 1h3m2 0h2m3 0h3m-14 1h0m2 0h0m2 0h2m4 0h3m2 0h0m-16 1h1m4 0h6m2 0h0m2 0h1m-16 1h1m2 0h4m2 0h0m2 0h1m3 0h0m-12 1h0m2 0h3m2 0h1m2 0h0m-12 1h0m4 0h2m2 0h1m2 0h0m2 0h1m-15 1h0m9 0h1m3 0h0m2 0h0m-14 1h1m3 0h0m3 0h0m5 0h0m3 0h0m-15 1h1m4 0h1m2 0h0m3 0h2m-14 1h1m13 0h0m-10 1h1m7 0h1m2 0h0m-12 2h0m6 0h0m-7 1h0m5 0h1m5 0h0m3 0h0m-12 1h0m7 1h0m-3 3h0m3 2h0m-1 9h0m-7 14h0m10 15h0m-11 7h0m2 3h0m-1 1h0m11 1h0m-11 1h0m0 1h0m0 2h1m-4 4h0m3 0h0m0 1h0m4 0h0m-4 2h0m10 0h0m-10 3h0m1 1h0m1 2h0m5 1h0m-3 1h0m-2 9h0m5 8h0m6 2h0m-13 1h0m7 18h0m2 6h0m1 7h0m-10 1h0" stroke-width="2.1"/>
<path d="M1436.5 120.5h0m-3 2h0m-2 1h0m-1 4h0m0 1h0m3 0h0m9 0h0m-3 1h0m3 1h0m-11 1h0m3 0h1m-5 1h1m13 2h0m-14 1h1m14 0h0m-16 1h0m7 0h0m8 0h0m-13 1h0m10 0h0m-9 2h0m3 0h0m5 0h1m3 0h0m-7 1h0m3 0h2m2 1h0m-13 1h0m2 0h0m5 0h0m7 0h0m-12 1h0m3 0h2m-2 1h0m2 0h0m2 0h0m-9 2h0m2 0h0m2 0h0m3 0h0m3 0h0m-11 1h0m2 0h1m4 0h0m4 0h0m2 0h0m-13 1h0m5 0h0m7 0h0m2 0h0m-15 1h0m3 0h0m2 0h0m6 0h1m3 0h1m-15 1h0m6 0h0m2 0h0m3 0h0m-10 1h1m10 0h1m-13 1h0m2 0h1m3 0h0m2 0h0m6 0h0m-14 1h0m2 0h0m3 0h0m-5 1h0m5 0h0m3 0h0m3 0h0m3 0h0m-10 1h1m3 0h0m3 0h1m2 0h0m-14 1h0m4 0h0m2 0h0m8 0h0m-8 1h0m2 0h0m2 0h0m3 0h0m-12 1h0m3 0h0m3 0h0m4 0h0m-10 1h1m7 0h1m4 0h0m-12 1h0m3 0h0m8 0h0m-10 1h0m3 0h0m2 0h1m6 0h0m-15 1h0m4 0h0m2 0h2m3 0h0m2 0h0m-13 1h0m2 0h2m4 0h1m6 0h0m-9 1h0m2 0h1m2 0h3m-14 1h0m3 0h1m6 0h0m3 0h0m2 0h0m-15 1h0m2 0h0m2 0h0m2 0h0m3 0h0m3 0h0m2 0h0m-12 1h3m2 0h0m4 0h1m2 0h0m-13 1h2m5 0h2m2 0h1m-14 1h1m4 0h2m3 0h0m3 0h0m2 0h0m-15 1h1m3 0h0m2 0h0m3 0h0m2 0h2m-13 1h0m4 0h0m5 0h2m3 0h1m-14 1h0m7 0h0m5 0h0m2 0h0m-12 1h0m4 0h0m9 0h0m-14 1h0m3 0h1m2 0h0m3 0h1m-9 1h0m7 0h1m4 0h0m-13 1h0m2 0h0m3 0h0m2 0h0m4 0h1m-13 1h0m2 0h0m3 0h1m4 0h0m3 0h0m-9 1h1m9 0h0m-15 1h0m4 0h1m2 0h0m5 0h0m1 1h0m-6 1h0m-7 1h0m10 0h0m5 0h0m-7 1h0m-4 3h1" stroke-width="2.6"/>
<path d="M1430.5 128.5h0m1 3h0m4 0h0m9 3h0m1 1h0m-9 1h0m8 5h0m1 1h0m-9 2h0m-5 2h0m7 0h0m-3 2h0m-3 1h0m13 0h0m-9 3h0m2 0h0m3 2h0m3 0h0m-10 1h0m4 0h0m-2 1h0m8 0h0m-6 1h0m2 0h0m-3 1h0m2 1h0m5 0h0m-1 1h0m-10 1h0m3 0h0m-2 1h0m7 0h0m-7 1h0m4 1h1m2 0h1m2 0h0m-11 1h0m7 0h0m-10 1h0m4 0h0m2 0h0m6 0h0m-10 1h0m2 0h1m-3 1h0m7 0h1m-6 1h2m6 0h0m2 0h0m-14 1h0m3 0h0m5 0h0m0 1h0m5 0h1m-7 1h0m5 0h0m-11 2h0m2 2h0m3 0h0m0 1h0m4 0h0m-5 1h0m-2 1h0m9 1h0" stroke-width="3.0"/>
<path d="M1514.5 83.5h0m4 0h0m3 0h0m6 1h0m-14 3h0m3 0h0m2 0h0m2 1h0m2 0h0m6 0h0m-15 1h0m8 0h0m-4 1h0m6 0h0m2 0h1m-11 1h1m2 0h0m5 0h0m-10 1h1m2 0h1m2 0h0m4 0h0m4 0h0m-14 1h0m2 0h0m3 0h0m5 0h0m2 0h0m2 0h0m-15 1h0m6 0h2m-8 1h0m2 0h3m3 0h0m3 0h0m2 0h0m3 0h0m-15 1h0m3 0h1m2 0h3m3 0h0m2 0h0m-15 1h0m2 0h0m3 0h2m5 0h1m3 0h0m-15 1h0m5 0h3m2 0h0m-10 1h1m5 0h2m3 0h0m3 0h0m-15 1h3m4 0h0m3 0h1m2 0h2m-14 1h2m3 0h0m2 0h0m2 0h2m3 0h0m-15 1h0m2 0h0m2 0h5m2 0h1m2 0h2m-15 1h0m3 0h2m2 0h0m2 0h6m-15 1h3m4 0h4m2 0h0m2 0h0m-15 1h4m2 0h2m2 0h1m2 0h1m-15 1h3m3 0h1m2 0h5m2 0h0m-16 1h12m3 0h0m-14 1h0m2 0h3m2 0h0m2 0h3m3 0h0m-16 1h1m2 0h2m2 0h7m2 0h0m-15 1h0m3 0h1m2 0h2m3 0h3m-15 1h1m2 0h13m-16 1h15m-14 1h4m2 0h1m2 0h0m4 0h2m-16 1h15m-15 1h4m2 0h10m-16 1h8m2 0h5m-14 1h7m2 0h6m-16 1h11m2 0h1m-14 1h2m2 0h0m2 0h5m2 0h1m2 0h0m-16 1h0m4 0h10m-14 1h8m2 0h6m-15 1h1m2 0h1m2 0h9m-16 1h1m4 0h11m-16 1h1m2 0h3m2 0h0m2 0h6m-16 1h9m2 0h4m-14 1h7m3 0h4m-15 1h2m2 0h2m2 0h1m3 0h3m-15 1h3m2 0h10m-15 1h3m2 0h0m2 0h0m2 0h5m2 0h0m-15 1h5m2 0h2m2 0h0m2 0h0m-13 1h1m2 0h3m2 0h5m-12 1h2m2 0h0m2 0h2m2 0h3m-14 1h0m2 0h0m2 0h2m2 0h2m2 0h3m-16 1h2m2 0h0m2 0h1m2 0h1m3 0h3m-16 1h3m2 0h2m2 0h0m3 0h0m2 0h0m-13 1h9m2 0h0m2 0h0m2 0h0m-16 1h5m2 0h1m2 0h0m3 0h0m2 0h1m-16 1h1m4 0h1m3 0h2m2 0h0m-13 1h0m2 0h0m2 0h1m2 0h2m2 0h1m-9 1h3m2 0h0m2 0h3m-6 1h5m3 0h1m-16 1h2m4 0h0m5 0h2m2 0h0m-14 1h2m5 0h0m3 0h0m3 0h1m-14 1h0m2 0h1m2 0h2m3 0h0m2 0h1m-7 1h1m5 0h1m2 0h0m-15 1h0m3 0h1m2 0h0m6 0h1m2 0h0m-16 1h2m2 0h0m3 0h1m-7 1h0m2 0h0m3 0h0m2 0h0m3 0h0m4 0h0m-15 1h0m5 0h0m2 0h1m-8 1h1m3 0h0m2 0h0m8 0h2m-15 1h1m11 0h0m-13 1h0m3 0h0m3 0h0m2 0h0m3 0h0m2 0h0m-12 1h0m11 0h0m-11 1h0m2 0h0m4 0h0m3 0h0m6 0h0m-16 1h0m6 0h0m0 1h0m2 0h0m-4 1h0m5 0h0m2 0h0m4 0h0m-14 1h0m4 0h1m3 0h1m2 0h0m2 0h0m-5 1h1m4 1h0m-13 1h0m7 0h1m2 0h0m-3 1h0m2 0h0m-3 1h0m9 0h0m-8 1h0m6 0h0m-13 1h1m4 1h0m-3 3h0m8 0h0m-6 1h1m2 0h0m2 0h0m1 1h0m-1 1h0m-3 1h0m4 0h0m-6 1h0m5 1h0m0 1h1m0 2h0m3 0h0m1 1h0m-4 1h0m2 1h0m-6 1h0m6 0h0m-4 1h0m-4 1h0m6 0h0m4 0h0m-12 3h0m10 1h0m-9 2h0m7 2h0m2 2h0m-7 1h0m8 2h0m-8 4h0m8 5h0m0 2h0m-7 5h0m-5 9h0m12 4h0m-12 8h0m-2 8h0" stroke-width="2.1"/>
<path d="M1526.5 90.5h0m-3 1h0m-9 4h0m6 0h0m-3 2h0m8 0h0m-12 1h0m6 0h0m2 0h0m-2 1h2m3 0h0m3 0h0m-15 1h2m-1 1h2m7 0h2m-12 1h0m4 0h0m4 0h1m2 0h0m4 0h1m-10 1h0m5 0h0m3 0h2m-14 1h0m2 0h0m6 0h0m-9 1h0m2 0h1m7 0h0m3 0h1m-14 1h0m5 0h0m3 0h3m2 0h0m-13 1h2m2 0h1m2 0h4m3 0h0m-14 1h0m2 0h0m3 0h0m2 0h0m3 0h0m-11 1h1m2 0h0m4 0h7m2 0h0m-15 1h0m3 0h0m3 0h1m4 0h3m-14 1h0m2 0h0m2 0h0m2 0h2m2 0h4m-15 1h0m2 0h0m2 0h6m4 0h1m-14 1h3m3 0h1m2 0h0m4 0h2m-15 1h0m4 0h0m5 0h0m2 0h3m-14 1h0m2 0h1m2 0h1m2 0h2m2 0h3m-16 1h3m3 0h1m3 0h5m-14 1h0m2 0h3m2 0h0m3 0h0m2 0h0m3 0h0m-16 1h1m2 0h1m4 0h0m2 0h0m3 0h0m-13 1h2m2 0h0m2 0h0m4 0h1m2 0h1m-14 1h0m4 0h1m2 0h1m2 0h2m-12 1h0m3 0h0m2 0h1m2 0h0m3 0h3m2 0h0m-15 1h0m6 0h1m2 0h6m-16 1h0m5 0h6m2 0h2m-14 1h0m2 0h2m5 0h5m-13 1h0m2 0h0m4 0h0m4 0h1m2 0h0m-14 1h5m2 0h0m3 0h0m4 0h0m-15 1h2m6 0h1m-9 1h0m3 0h0m8 0h2m-13 1h0m2 0h1m6 0h2m3 0h0m-11 1h2m4 0h0m-8 1h1m2 0h1m2 0h0m6 0h1m-10 1h0m4 0h0m2 0h0m3 0h0m2 0h0m-14 1h0m8 0h0m5 0h0m-14 1h1m5 0h1m7 0h0m-14 1h0m7 0h0m2 0h0m3 0h0m-10 1h0m5 0h1m2 0h0m4 0h0m-14 1h0m13 1h0m-11 1h0m3 0h0m-1 1h0m6 0h0m2 0h0m-2 1h0m2 0h0m3 0h0m-3 1h0m-11 1h0m2 1h0m4 0h0m6 0h0m-5 1h0m-4 1h1m8 0h0m-12 1h0m6 0h0m-6 1h0m14 0h0m-8 1h0m9 1h0m-15 1h0m-1 1h0m10 6h0m4 2h0m-6 1h0m-7 4h0m9 10h0" stroke-width="2.6"/>
<path d="M1519.5 98.5h0m2 1h0m3 0h0m-12 1h1m2 1h0m7 0h0m-10 1h0m4 0h0m5 0h0m6 1h0m-13 1h0m2 1h0m5 1h2m-10 1h0m2 0h0m2 0h0m5 0h0m-9 1h0m7 0h0m-7 1h0m2 0h0m4 0h0m5 0h0m2 0h0m2 0h0m-12 1h0m-1 1h0m2 0h0m7 0h0m3 0h0m-13 1h0m4 0h1m7 0h1m-14 1h1m2 0h0m3 0h0m3 0h0m4 0h1m-14 1h0m9 0h0m2 0h1m-12 1h0m2 0h0m3 0h0m3 0h1m6 0h0m-16 1h2m4 0h0m4 0h3m-10 1h3m2 0h0m3 0h0m5 0h0m-16 1h0m3 0h0m5 0h0m2 0h0m3 0h0m-13 1h0m2 0h0m4 0h0m4 0h0m3 0h0m-9 1h1m5 0h1m0 1h1m2 0h0m2 0h0m-15 1h0m6 0h0m3 0h0m2 0h2m2 0h0m-11 1h1m2 0h2m3 0h1m-13 1h0m2 0h0m7 0h1m2 0h2m-11 1h0m8 0h1m-12 1h2m2 0h1m9 0h0m-14 1h0m7 0h1m-6 2h0m7 0h1m-8 1h2m8 1h1m-10 1h0m4 0h0m2 0h0m5 0h0m-14 1h0m8 2h0m-1 1h0m6 0h0m-14 1h0m12 3h0m3 1h0m1 9h0m-6 8h0m-2 3h0" stroke-width="3.0"/>
<path d="M1603.5 78.5h0m7 4h0m-12 2h0m1 1h0m0 1h0m2 0h0m4 2h0m-6 1h0m2 0h1m2 0h0m-9 1h1m4 0h0m5 0h0m-3 1h0m3 0h0m2 0h0m-12 1h0m3 0h1m6 0h0m2 0h0m4 0h0m-16 1h3m2 0h0m3 0h0m3 0h0m2 0h0m2 0h0m-15 1h0m2 0h2m2 0h0m4 0h0m4 0h1m-15 1h0m5 0h1m2 0h0m2 0h2m2 0h0m-12 1h0m2 0h2m2 0h3m-11 1h2m2 0h0m3 0h2m2 0h0m5 0h0m-16 1h1m6 0h1m8 0h0m-13 1h2m2 0h2m3 0h2m2 0h0m-16 1h3m2 0h0m3 0h3m5 0h0m-15 1h2m3 0h2m4 0h3m-12 1h0m2 0h0m2 0h2m3 0h1m2 0h0m-9 1h0m4 0h1m2 0h2m-13 1h2m2 0h0m2 0h0m2 0h0m2 0h2m-6 1h0m2 0h1m2 0h1m-14 1h0m3 0h0m3 0h0m3 0h0m4 0h0m-10 1h0m-2 1h0m2 0h0m3 0h0m-4 1h0m12 0h1m-12 1h0m2 0h0m8 0h0m1 1h0m-12 1h0m11 1h0m2 0h0m-14 1h1m3 0h0m5 0h0m-4 1h0m10 0h0m-14 1h0m4 0h0m6 0h0m-10 1h0m7 0h0m6 1h1m-12 2h0m8 0h0m-9 1h0m1 1h0m3 0h1m0 1h0m8 0h0m-13 1h0m9 0h0m4 0h0m-16 2h0m2 0h0m8 0h0m-8 1h0m9 0h0m2 1h0m-11 1h1m11 0h1m-7 1h0m-7 1h0m13 0h0m2 0h0m-15 1h0m2 0h0m7 0h0m-10 1h0m7 1h0m4 0h0m3 1h0m-9 1h1m10 1h0m-15 1h0m5 1h0m5 0h0m-10 1h0m12 0h0m-6 1h0m8 0h0m-13 1h1m4 0h0m8 0h0m-7 1h0m-8 4h0m3 0h0m2 0h0m10 0h0m-13 1h0m13 0h0m-12 1h0m2 0h0m11 1h0m-10 1h0m2 0h0m5 0h1m-13 1h1m4 2h0m2 0h0m2 0h1m1 2h0m2 1h1m-14 1h0m12 1h0m-8 3h1m2 0h0m-4 1h0m11 0h0m-14 2h0m10 0h0m-5 2h0m8 0h1m-9 1h0m-4 1h0m3 0h0m7 0h0m-7 1h1m4 1h0m4 0h1m-13 2h0m4 0h0m10 0h0m-13 1h0m2 0h0m-5 1h0m6 0h0m2 0h0m5 1h0m-10 1h0m7 0h0m3 0h1m-14 1h0m9 0h0m2 1h0m4 1h0m-10 1h0m3 0h0m-6 1h3m2 0h0m-5 1h0m8 0h0m-3 1h1m-1 1h0m2 0h0m-8 1h0m3 0h0m10 0h1m-12 1h0m3 0h0m2 0h0m2 0h0m-1 1h0m3 0h0m-9 1h0m4 0h0m3 0h0m-2 2h0m3 0h1m2 0h0m-7 1h0m-6 1h0m1 1h0m3 0h0m4 0h0m5 0h0m2 0h0m-15 1h0m0 1h0m5 0h0m10 0h0m-16 1h0m2 0h0m14 0h0m-5 1h0m-10 1h0m9 0h1m4 0h0m-11 2h0m2 0h0m4 0h0m2 1h2m-14 2h0m8 0h1m-3 1h0m2 0h2m-4 1h0m3 0h0m-5 1h0m5 0h1m-8 1h0m3 1h0m3 0h0m5 0h0m1 2h1m-11 1h0m4 0h0m5 0h0m-7 1h0m2 0h1m4 0h0m3 1h0m-10 1h0m2 0h0m7 1h0m-14 1h0m9 0h0m-10 1h1m5 0h0m6 0h0m-11 1h0m3 0h0m2 0h0m-4 1h0m6 0h2m-8 1h0m2 0h1m4 0h0m6 0h0m-15 1h0m5 0h0m2 0h0m-1 1h0m3 0h0m3 0h1m2 0h0m-14 1h1m5 0h1m4 1h0m-9 1h0m8 0h0m2 0h1m-4 1h0m4 0h0m-10 1h1m4 0h0m2 0h0m-8 1h0m3 0h0m9 0h0m-2 1h0m-9 1h1m4 0h0m-5 1h0m4 0h0m3 0h0m2 0h0m3 0h0m-10 1h0m-4 1h0m7 0h0m-6 1h0m9 0h0m-6 1h0m10 0h0m-5 1h1m3 0h0m-10 1h0m4 0h0m-2 1h0m4 0h0m4 0h0m-13 1h0m2 0h1m4 1h0m2 0h0m-10 2h0m10 0h0m-8 2h2m9 0h0m-7 1h0m3 0h1m-7 1h0m3 1h0m-6 1h0m5 0h0m3 0h1m-2 1h0m5 0h1m2 0h0m-15 1h0m1 2h0m10 0h0m-4 1h0m7 0h0m-6 1h0m6 0h0m-10 1h0m8 0h1m-8 1h1m8 0h0m-14 1h0m3 0h1m9 0h0m-4 1h2m-12 1h0m3 0h2m2 0h1m8 0h0m-16 1h0m4 0h0m2 0h0m5 1h0m-4 1h0m4 0h0m-9 1h1m12 0h0m-9 2h0m7 0h0m-9 3h0m7 0h0m3 0h0m-14 1h0m3 0h0m3 0h0m8 0h0m-10 1h0m2 0h0m8 0h0m-13 1h1m2 1h0m-2 1h0m6 0h0m8 0h0m-16 1h0m9 3h1m2 2h0m2 1h0m-14 1h1m15 0h0m-16 1h0m7 0h0m-1 2h0m4 0h0m2 0h0m-7 1h0m-2 2h0m5 1h0m-1 2h0m1 2h0m-7 1h0m9 0h0m-3 3h1m3 0h0m-2 2h1m3 0h0m-1 4h0m-12 1h0m8 0h0m2 0h0m3 0h0m-9 2h1m-5 1h0m2 0h0m12 1h0m2 1h0m-4 1h0m0 1h0m-7 1h0m8 0h0m-11 2h0m13 5h0m-1 5h0m-3 2h0m-5 1h0m10 0h0m-16 4h0m12 4h0m4 3h0" stroke-width="2.1"/>
<path d="M1601.5 89.5h0m-6 1h0m15 3h0m-11 1h0m6 0h0m4 0h0m-14 1h0m8 0h0m2 0h0m4 0h0m-6 1h3m-4 1h0m2 0h0m2 0h0m-4 1h0m9 0h0m-11 1h0m8 0h0m3 0h0m-14 1h1m2 0h0m5 0h0m-9 1h1m5 0h1m6 0h1m-6 1h0m-7 2h1m5 0h0m2 0h0m2 0h0m2 5h1m-2 4h0m-9 7h0m8 0h0m2 9h0m-11 13h0m5 1h0m7 24h0m-13 2h0m0 4h0m4 0h0m-6 5h0m9 0h0m-2 11h0m3 0h0m-9 4h0m8 1h0m-4 15h0m10 2h0m-9 7h0m-2 22h1m-2 5h0m-2 4h0m14 8h0m-1 1h0m2 2h0m-9 3h0m6 3h0m-11 6h0" stroke-width="2.6"/>
<path d="M1604.5 96.5h0m-2 1h0m-5 3h0m6 1h0m-1 88h0" stroke-width="3.0"/>
<path d="M1689.5 59.5h0m-4 1h0m1 1h0m-4 3h0m12 2h0m-11 6h0m7 0h0m0 5h0m2 0h0m-2 1h0m-12 2h0m1 1h0m-1 1h0m8 2h0m4 2h0m-12 3h0m14 0h1m-8 1h2m-9 1h0m14 0h0m-12 1h0m3 1h0m7 0h0m2 0h0m-10 1h1m2 0h0m-6 2h0m10 0h0m2 0h0m-7 1h0m9 0h0m-12 1h0m4 0h0m5 0h0m3 0h0m-10 1h0m-3 1h0m5 0h0m-7 3h0m14 1h0m-14 1h0m2 0h0m2 0h0m9 0h0m-9 1h0m5 0h1m1 2h0m3 0h0m-11 1h0m8 0h0m-11 1h1m4 0h0m3 0h0m4 1h0m0 2h0m3 1h0m-13 1h0m11 0h0m-13 1h2m11 0h0m-11 1h0m-1 1h1m13 0h0m-14 1h0m4 0h0m10 0h0m-6 1h0m-4 1h0m2 1h0m8 0h0m-12 1h0m-1 2h0m8 0h0m-7 1h0m1 1h0m10 0h0m2 0h0m-12 1h0m7 0h0m-8 1h0m1 3h0m4 1h1m2 0h0m0 1h0m0 1h0m2 0h0m-7 1h0m7 1h0m-6 1h0m9 0h0m-7 1h0m-2 1h0m-4 1h0m2 0h0m9 1h0m-5 2h0m2 0h0m1 1h0m-8 1h0m4 0h1m2 0h0m2 0h0m-12 1h0m12 1h0m-9 1h0m3 0h0m3 0h0m4 1h0m-10 1h0m3 0h0m2 1h0m-9 1h0m15 0h0m-3 1h0m-10 1h0m5 0h0m5 1h0m3 0h0m-10 1h0m8 0h0m-12 1h0m12 0h0m-8 2h0m7 0h0m-12 1h0m4 0h0m2 1h0m5 0h0m-10 2h0m14 1h0m-15 2h0m2 0h0m4 0h0m8 4h0m-6 2h0m-4 2h0m3 0h0m-6 1h0m8 3h0m-2 1h0m6 0h0m-4 1h0m-3 3h0m3 0h0m-8 2h0m11 0h0m2 8h0m-11 2h0m12 0h0m0 1h0m-8 4h0m5 1h0m0 2h0m4 0h0m-5 3h1m-11 5h0m10 0h0m0 1h0m1 1h0m-8 8h0m4 0h0m-7 3h0m-1 1h0m2 0h0m11 0h0m-2 3h0m4 2h0m-14 1h0m3 0h0m0 5h0m12 20h0m-4 10h0m-8 9h0m12 9h0m-16 32h0" stroke-width="2.1"/>
<path d="M1678.5 91.5h0m3 7h0m8 11h0m-10 77h0m0 39h0" stroke-width="2.6"/>
<path d="M1762.5 100.5h0m2 11h0m9 2h0m1 9h0m-10 1h0m3 0h0m10 0h0m-8 4h0m3 3h0m-2 1h0m-4 1h0m5 0h0m-6 2h0m-4 2h0m15 0h0m-9 1h0m-3 2h1m3 1h0m2 0h0m1 2h0m-2 2h0m6 0h0m-6 1h0m-5 1h0m4 0h0m2 1h0m1 1h0m1 1h0m5 4h0m-9 1h0m3 3h0m-7 2h0m7 3h0m5 0h0m-2 2h0m-2 1h0m-5 1h0m7 1h0m-9 1h0m12 3h0m-12 2h0m4 2h0m-7 1h0m0 1h0m14 2h0m-5 7h0m0 2h0m6 9h0m-2 35h0m-3 43h0m-3 6h0" stroke-width="2.1"/>
</g>
</g>
<path d="M1105 475v7M1188 475v7M1271 475v7M1354 475v7M1437 475v7M1520 475v7M1603 475v7M1686 475v7M1769 475v7M1063 469h-7M1063 416h-7M1063 364h-7M1063 311h-7M1063 258h-7M1063 206h-7M1063 153h-7M1063 100h-7M1063 48h-7" stroke="#000" stroke-width="1.67" fill="none"/>
<rect x="1063" y="37" width="747" height="438" fill="none" stroke="#000" stroke-width="1.67"/>
<text x="1105.5" y="505.7" text-anchor="middle">0</text><text x="1188.5" y="505.7" text-anchor="middle">1</text><text x="1271.5" y="505.7" text-anchor="middle">2</text><text x="1354.5" y="505.7" text-anchor="middle">3</text><text x="1437.5" y="505.7" text-anchor="middle">4</text><text x="1520.5" y="505.7" text-anchor="middle">5</text><text x="1603.5" y="505.7" text-anchor="middle">6</text><text x="1686.5" y="505.7" text-anchor="middle">7</text><text x="1769.5" y="505.7" text-anchor="middle">8</text>
<text x="1048.4" y="476.8" text-anchor="end">50</text><text x="1048.4" y="424.1" text-anchor="end">55</text><text x="1048.4" y="371.5" text-anchor="end">60</text><text x="1048.4" y="318.9" text-anchor="end">65</text><text x="1048.4" y="266.2" text-anchor="end">70</text><text x="1048.4" y="213.5" text-anchor="end">75</text><text x="1048.4" y="160.9" text-anchor="end">80</text><text x="1048.4" y="108.3" text-anchor="end">85</text><text x="1048.4" y="55.6" text-anchor="end">90</text>
<text x="1437" y="534.2" text-anchor="middle">leiden</text>
<text transform="translate(1009.7 259) rotate(-90)" text-anchor="middle">CpG%</text>
</g>
<g>
<clipPath id="c2"><rect x="2034.5" y="36.9" width="747" height="437.9"/></clipPath>
<g clip-path="url(#c2)">
<g transform="translate(.5 .15)" stroke="#3d3d3d" stroke-width="3.125" stroke-linejoin="round">
<path d="M2075.9 177.5L2076 177.5L2076.5 198.3L2076.8 201.3L2077.2 202.8L2077.8 204.3L2078.9 205.8L2080.5 207.3L2086.7 211.7L2088 213.2L2089.5 216.2L2090.8 217.7L2093.3 219.2L2097.4 220.7L2102.2 222.2L2106.7 223.7L2109.1 225.2L2108.8 226.6L2105.8 228.1L2096.2 231.1L2092.3 232.6L2089.9 234.1L2088.7 235.6L2087.3 238.6L2086.2 240L2083.4 243L2082.5 244.5L2082.2 246L2082.7 250.5L2082.9 252L2083.5 253.5L2084.7 254.9L2086.8 256.4L2092.2 259.4L2094.1 260.9L2094.7 262.4L2094 263.9L2091 266.9L2090.4 268.3L2090.9 269.8L2092.8 272.8L2092.7 274.3L2091.3 275.8L2088.8 277.3L2082.9 280.3L2080.6 281.8L2079.1 283.2L2078.1 284.7L2077.3 287.7L2076.3 293.7L2076.1 298.1L2075.8 298.1L2075.6 293.7L2074.6 287.7L2073.8 284.7L2072.8 283.2L2071.3 281.8L2069 280.3L2063.1 277.3L2060.6 275.8L2059.2 274.3L2059.1 272.8L2061 269.8L2061.5 268.3L2060.9 266.9L2057.9 263.9L2057.2 262.4L2057.8 260.9L2059.7 259.4L2065.1 256.4L2067.2 254.9L2068.4 253.5L2069 252L2069.2 250.5L2069.7 246L2069.4 244.5L2068.5 243L2065.7 240L2064.6 238.6L2063.2 235.6L2062 234.1L2059.6 232.6L2055.7 231.1L2046.1 228.1L2043.1 226.6L2042.7 225.2L2045.2 223.7L2049.7 222.2L2054.5 220.7L2058.6 219.2L2061.1 217.7L2062.4 216.2L2063.9 213.2L2065.2 211.7L2071.4 207.3L2073 205.8L2074.1 204.3L2074.7 202.8L2075.1 201.3L2075.4 198.3L2075.9 177.5Z" fill="#3274a1"/>
<path d="M2158.8 117.2L2159.1 117.2L2159.2 181.4L2159.3 187.4L2159.8 190.4L2161.1 193.4L2163.3 196.4L2169.4 203.9L2171 205.4L2173 206.8L2178 209.8L2180.3 211.3L2182 212.8L2182.8 214.3L2182.8 215.8L2181.9 218.8L2181.8 220.3L2182.2 223.3L2182.2 224.8L2181.5 226.3L2179.9 227.8L2177.7 229.3L2172.7 232.3L2170.7 233.8L2169.2 235.2L2168.3 236.7L2167.8 238.2L2167.9 239.7L2168.4 241.2L2169.3 242.7L2170.7 244.2L2175.7 248.7L2180 253.2L2182 254.7L2184.6 256.2L2187.5 257.7L2190.2 259.2L2191.9 260.7L2192.1 262.2L2190.6 263.7L2187.6 265.1L2179.6 268.1L2175.8 269.6L2172.8 271.1L2170.4 272.6L2168.6 274.1L2164.2 278.6L2161.8 281.6L2160.3 284.6L2159.8 286.1L2158.1 286.1L2157.6 284.6L2156.1 281.6L2153.7 278.6L2149.3 274.1L2147.5 272.6L2145.1 271.1L2142.1 269.6L2138.3 268.1L2130.3 265.1L2127.3 263.7L2125.8 262.2L2126 260.7L2127.7 259.2L2130.4 257.7L2133.3 256.2L2135.9 254.7L2137.9 253.2L2142.2 248.7L2147.2 244.2L2148.6 242.7L2149.5 241.2L2150 239.7L2150.1 238.2L2149.6 236.7L2148.7 235.2L2147.2 233.8L2145.2 232.3L2140.2 229.3L2138 227.8L2136.4 226.3L2135.7 224.8L2135.7 223.3L2136.1 220.3L2136 218.8L2135.1 215.8L2135.1 214.3L2135.9 212.8L2137.6 211.3L2139.9 209.8L2144.9 206.8L2146.9 205.4L2148.5 203.9L2154.6 196.4L2156.8 193.4L2158.1 190.4L2158.6 187.4L2158.7 181.4L2158.8 117.2Z" fill="#e1812c"/>
<path d="M2241.9 177.5L2242 177.5L2242.3 186.4L2242.9 189.4L2244.2 192.4L2246.3 195.3L2250.6 199.8L2254 202.8L2256 204.3L2258.5 205.7L2266.7 210.2L2268.7 211.7L2269.7 213.2L2269.5 214.7L2268 216.2L2265.7 217.6L2257.1 222.1L2254.7 223.6L2252.7 225.1L2249.6 228.1L2247.1 231L2246 232.5L2245.3 234L2244.9 235.5L2244.8 237L2245.3 238.5L2246.2 240L2247.6 241.4L2249.4 242.9L2258.2 248.9L2264.4 253.3L2271.9 257.8L2274 259.3L2275.1 260.8L2275.1 262.3L2273.7 263.8L2271.2 265.2L2267.8 266.7L2260.8 269.7L2257.7 271.2L2255.1 272.7L2252.9 274.2L2249.4 277.2L2246.5 280.1L2244.3 283.1L2242.9 286.1L2241 286.1L2239.6 283.1L2237.4 280.1L2234.5 277.2L2231 274.2L2228.8 272.7L2226.2 271.2L2223.1 269.7L2216.1 266.7L2212.7 265.2L2210.2 263.8L2208.8 262.3L2208.8 260.8L2209.9 259.3L2212 257.8L2219.5 253.3L2225.7 248.9L2234.5 242.9L2236.3 241.4L2237.7 240L2238.6 238.5L2239.1 237L2239 235.5L2238.6 234L2237.9 232.5L2236.8 231L2234.3 228.1L2231.2 225.1L2229.2 223.6L2226.8 222.1L2218.2 217.6L2215.9 216.2L2214.4 214.7L2214.2 213.2L2215.2 211.7L2217.2 210.2L2225.4 205.7L2227.9 204.3L2229.9 202.8L2233.3 199.8L2237.6 195.3L2239.7 192.4L2241 189.4L2241.6 186.4L2241.9 177.5Z" fill="#3a923a"/>
<path d="M2324.9 56.8L2325 56.8L2326.1 112.2L2326.9 137.7L2327.5 158.7L2328.2 169.2L2328.8 172.2L2329.9 175.2L2331.7 178.1L2334.3 181.1L2337.6 184.1L2350.7 194.6L2353.9 197.6L2356.3 200.6L2357.2 202.1L2357.8 203.6L2358.1 205.1L2358.1 206.6L2357.9 208.1L2357.5 209.6L2356.8 211.1L2354.6 214.1L2351.6 217.1L2345.1 223.1L2342.7 226.1L2341.2 229.1L2340.5 232.1L2340.5 236.6L2340.8 244.1L2340.4 248.5L2339.2 253L2337.3 257.5L2333.7 263.5L2328.9 271L2327.4 274L2322.5 274L2321 271L2316.2 263.5L2312.6 257.5L2310.7 253L2309.5 248.5L2309.1 244.1L2309.4 236.6L2309.4 232.1L2308.7 229.1L2307.2 226.1L2304.8 223.1L2298.3 217.1L2295.3 214.1L2293.1 211.1L2292.4 209.6L2292 208.1L2291.8 206.6L2291.8 205.1L2292.1 203.6L2292.7 202.1L2293.6 200.6L2296 197.6L2299.2 194.6L2312.3 184.1L2315.6 181.1L2318.2 178.1L2320 175.2L2321.1 172.2L2321.7 169.2L2322.4 158.7L2323 137.7L2323.8 112.2L2324.9 56.8Z" fill="#c03d3e"/>
<path d="M2407.9 105.1L2408 105.1L2408.2 176.9L2408.9 184.4L2410 190.3L2411.1 193.3L2413 196.3L2414.3 197.8L2415.9 199.3L2418 200.8L2420.4 202.3L2423.2 203.8L2432.9 208.3L2435.9 209.8L2438.3 211.3L2440.1 212.8L2441 214.3L2441.1 215.8L2440.5 217.3L2439.3 218.8L2437.5 220.3L2431.2 224.7L2425 229.2L2423.2 230.7L2421.7 232.2L2420.5 233.7L2419.7 235.2L2419.3 236.7L2419.3 238.2L2419.8 239.7L2420.8 241.2L2422.1 242.7L2425.6 245.7L2433.4 251.7L2436.8 254.7L2438.1 256.2L2439.1 257.7L2439.6 259.2L2439.5 260.6L2438.7 262.1L2437.2 263.6L2435 265.1L2432.4 266.6L2423.3 271.1L2420.4 272.6L2418 274.1L2415.8 275.6L2414.1 277.1L2412.6 278.6L2411.5 280.1L2409.9 283.1L2408.9 286.1L2407 286.1L2406 283.1L2404.4 280.1L2403.3 278.6L2401.8 277.1L2400.1 275.6L2397.9 274.1L2395.5 272.6L2392.6 271.1L2383.5 266.6L2380.9 265.1L2378.7 263.6L2377.2 262.1L2376.4 260.6L2376.3 259.2L2376.8 257.7L2377.8 256.2L2379.1 254.7L2382.5 251.7L2390.3 245.7L2393.8 242.7L2395.1 241.2L2396.1 239.7L2396.6 238.2L2396.6 236.7L2396.2 235.2L2395.4 233.7L2394.2 232.2L2392.7 230.7L2390.9 229.2L2384.7 224.7L2378.4 220.3L2376.6 218.8L2375.4 217.3L2374.8 215.8L2374.9 214.3L2375.8 212.8L2377.6 211.3L2380 209.8L2383 208.3L2392.7 203.8L2395.5 202.3L2397.9 200.8L2400 199.3L2401.6 197.8L2402.9 196.3L2404.8 193.3L2405.9 190.3L2407 184.4L2407.7 176.9L2407.9 105.1Z" fill="#9372b2"/>
<path d="M2490.3 153.4L2491.6 153.4L2492.2 166.8L2493.8 178.7L2494.9 183.1L2496.1 186.1L2498 189.1L2500.8 192.1L2504.3 195.1L2514.4 202.5L2518 205.5L2521 208.5L2522.1 210L2522.9 211.4L2523.2 212.9L2523.1 214.4L2522.5 215.9L2521.6 217.4L2518.9 220.4L2514.3 224.9L2511.8 227.8L2510 230.8L2509.5 232.3L2509.3 233.8L2509.5 235.3L2510 236.8L2510.8 238.3L2512 239.7L2515.2 242.7L2520.5 247.2L2521.9 248.7L2523 250.2L2523.8 251.7L2524.1 253.2L2524.1 254.6L2523.8 256.1L2523.1 257.6L2522.1 259.1L2520.7 260.6L2518.9 262.1L2516.8 263.6L2511.8 266.6L2503.8 271L2501.5 272.5L2499.4 274L2482.5 274L2480.4 272.5L2478.1 271L2470.1 266.6L2465.1 263.6L2463 262.1L2461.2 260.6L2459.8 259.1L2458.8 257.6L2458.1 256.1L2457.8 254.6L2457.8 253.2L2458.1 251.7L2458.9 250.2L2460 248.7L2461.4 247.2L2466.7 242.7L2469.9 239.7L2471.1 238.3L2471.9 236.8L2472.4 235.3L2472.6 233.8L2472.4 232.3L2471.9 230.8L2470.1 227.8L2467.6 224.9L2463 220.4L2460.3 217.4L2459.4 215.9L2458.8 214.4L2458.7 212.9L2459 211.4L2459.8 210L2460.9 208.5L2463.9 205.5L2467.5 202.5L2477.6 195.1L2481.1 192.1L2483.9 189.1L2485.8 186.1L2487 183.1L2488.1 178.7L2489.7 166.8L2490.3 153.4Z" fill="#845b53"/>
<path d="M2573.9 105.1L2574 105.1L2574.3 156L2575.2 171L2576.3 183L2576.9 186L2578.1 189L2580.1 192L2582.8 195L2588 199.5L2593.9 203.9L2602.1 209.9L2603.8 211.4L2605.2 212.9L2606.2 214.4L2606.9 215.9L2607.1 217.4L2607.1 218.9L2606.8 220.4L2606.2 221.9L2605.3 223.4L2604 224.9L2602.3 226.4L2600.3 227.9L2590.6 233.9L2588.7 235.4L2587.3 236.9L2586.4 238.4L2586.1 239.9L2586.4 241.4L2587.1 242.9L2589.4 245.9L2596.2 253.4L2598.6 256.4L2600.4 259.4L2600.9 260.9L2601 262.4L2600.9 263.9L2600.4 265.4L2598.7 268.4L2596.3 271.3L2593 274.3L2589 277.3L2582.5 281.8L2580.5 283.3L2578.8 284.8L2577.4 286.3L2576.4 287.8L2575 290.8L2574.4 293.8L2574.1 302.8L2574 322.3L2573.9 322.3L2573.8 302.8L2573.5 293.8L2572.9 290.8L2571.5 287.8L2570.5 286.3L2569.1 284.8L2567.4 283.3L2565.4 281.8L2558.9 277.3L2554.9 274.3L2551.6 271.3L2549.2 268.4L2547.5 265.4L2547 263.9L2546.9 262.4L2547 260.9L2547.5 259.4L2549.3 256.4L2551.7 253.4L2558.5 245.9L2560.8 242.9L2561.5 241.4L2561.8 239.9L2561.5 238.4L2560.6 236.9L2559.2 235.4L2557.3 233.9L2547.6 227.9L2545.6 226.4L2543.9 224.9L2542.6 223.4L2541.7 221.9L2541.1 220.4L2540.8 218.9L2540.8 217.4L2541 215.9L2541.7 214.4L2542.7 212.9L2544.1 211.4L2545.8 209.9L2554 203.9L2559.9 199.5L2565.1 195L2567.8 192L2569.8 189L2571 186L2571.6 183L2572.7 171L2573.6 156L2573.9 105.1Z" fill="#d684bd"/>
<path d="M2656.6 141.3L2657.3 141.3L2658 159.2L2659 169.7L2660.4 177.1L2662.3 183.1L2665.5 190.6L2674.2 207L2676.5 213L2679.3 223.4L2681.6 229.4L2685 236.9L2687 242.9L2689.7 254.8L2690.1 259.3L2689.8 262.3L2688.7 265.3L2686.8 268.3L2684.2 271.3L2679.2 275.7L2670.1 283.2L2665.4 287.7L2662.9 290.7L2661 293.7L2659 298.1L2657.9 302.6L2657.3 308.6L2657.1 326.5L2657 455L2656.9 455L2656.8 326.5L2656.6 308.6L2656 302.6L2654.9 298.1L2652.9 293.7L2651 290.7L2648.5 287.7L2643.8 283.2L2634.7 275.7L2629.7 271.3L2627.1 268.3L2625.2 265.3L2624.1 262.3L2623.8 259.3L2624.2 254.8L2626.9 242.9L2628.9 236.9L2632.3 229.4L2634.6 223.4L2637.4 213L2639.7 207L2648.4 190.6L2651.6 183.1L2653.5 177.1L2654.9 169.7L2655.9 159.2L2656.6 141.3Z" fill="#7f7f7f"/>
<path d="M2738.3 189.5L2741.6 189.5L2743.4 210.5L2744.7 223.9L2744.9 231.4L2745.5 234.4L2746.1 235.9L2747.1 237.4L2748.4 238.8L2750.1 240.3L2752.1 241.8L2761.4 247.8L2765.5 250.8L2768.8 253.8L2771.4 256.8L2772.4 258.3L2773 259.8L2773.1 261.3L2772.8 262.7L2771.9 264.2L2770.6 265.7L2767.2 268.7L2761.1 273.2L2754.3 277.7L2749.6 280.7L2747.5 282.2L2745.6 283.7L2744 285.2L2742.8 286.7L2741.8 288.1L2740.7 291.1L2740.2 295.6L2740.3 346.4L2739.6 346.4L2739.7 295.6L2739.2 291.1L2738.1 288.1L2737.1 286.7L2735.9 285.2L2734.3 283.7L2732.4 282.2L2730.3 280.7L2725.6 277.7L2718.8 273.2L2712.7 268.7L2709.3 265.7L2708 264.2L2707.1 262.7L2706.8 261.3L2706.9 259.8L2707.5 258.3L2708.5 256.8L2711.1 253.8L2714.4 250.8L2718.5 247.8L2727.8 241.8L2729.8 240.3L2731.5 238.8L2732.8 237.4L2733.8 235.9L2734.4 234.4L2735 231.4L2735.2 223.9L2736.5 210.5L2738.3 189.5Z" fill="#a9aa35"/>
</g>
<g fill="none" stroke="#000" stroke-linecap="round">
<path d="M2070.5 177.5h0m2 0h0m10 0h0m-11 13h0m9 0h0m-12 12h0m5 0h1m3 0h1m6 0h0m-16 12h16m-16 12h16m-16 12h16m-16 12h16m-16 12h16m-16 12h16m-16 12h0m2 0h0m3 0h1m2 0h0m3 0h1m2 0h0m-11 12h0m3 0h0" stroke-width="2.1"/>
<path d="M2077.5 202.5h0m-9 12h16m-16 12h16m-16 12h16m-16 12h16m-16 12h16m-16 12h16m-11 12h1m6 0h0m2 0h0" stroke-width="2.6"/>
<path d="M2077.5 202.5h0m-9 12h16m-16 12h16m-16 12h16m-16 12h16m-16 12h16m-16 12h16" stroke-width="3.0"/>
<path d="M2166.5 117.5h0m-13 60h0m12 0h0m-12 13h0m5 0h0m6 0h0m-13 12h3m2 0h1m2 0h8m-16 12h16m-16 12h16m-16 12h6m2 0h2m2 0h0m2 0h2m-16 12h16m-16 12h16m-16 12h16m-6 12h0m5 0h0" stroke-width="2.1"/>
<path d="M2151.5 202.5h3m2 0h1m2 0h1m3 0h1m-13 12h16m-16 12h16m-16 12h0m3 0h0m3 0h0m3 0h0m3 0h0m3 0h1m-16 12h16m-16 12h16m-16 12h16" stroke-width="2.6"/>
<path d="M2153.5 202.5h0m4 0h0m2 0h1m-9 12h16m-16 12h16m-10 12h0m3 0h0m3 0h0m4 0h0m-16 12h16m-16 12h16m-16 12h16" stroke-width="3.0"/>
<path d="M2239.5 177.5h0m-2 13h0m6 0h0m7 0h0m-16 12h7m2 0h0m2 0h1m2 0h1m-15 12h16m-16 12h16m-14 12h1m3 0h3m2 0h0m4 0h0m-15 12h16m-16 12h16m-16 12h16m-15 12h0m14 0h0" stroke-width="2.1"/>
<path d="M2234.5 202.5h0m3 0h1m3 0h0m2 0h0m2 0h0m3 0h1m-15 12h16m-16 12h16m-8 12h1m-9 12h16m-16 12h16m-16 12h16" stroke-width="2.6"/>
<path d="M2234.5 202.5h0m4 0h0m5 0h0m2 0h0m3 0h1m-15 12h16m-16 12h16m-16 24h16m-16 12h16m-16 12h16" stroke-width="3.0"/>
<path d="M2318.5 57.5h0m10 0h0m-10 12h0m9 12h2m4 0h0m-13 12h0m2 0h1m9 0h1m-14 12h1m3 0h1m2 0h1m3 0h0m2 0h0m-13 12h0m5 0h1m2 0h0m3 0h1m2 0h0m-16 12h0m2 0h1m2 0h0m2 0h2m2 0h0m2 0h2m-15 12h0m4 0h0m4 0h1m4 0h1m2 0h0m-15 12h3m3 0h0m2 0h0m2 0h1m4 0h0m-15 12h3m5 0h1m2 0h4m-16 12h7m2 0h0m3 0h2m2 0h0m-16 13h16m-16 12h16m-16 12h16m-16 12h16m-16 12h16m-16 12h16m-16 12h1m3 0h5m2 0h0m4 0h1m-14 12h0m5 0h2m5 0h0" stroke-width="2.1"/>
<path d="M2323.5 105.5h0m7 0h0m-13 24h0m5 0h0m8 0h0m-5 12h0m5 0h0m-12 12h0m3 0h0m3 0h0m2 0h0m3 0h0m-10 12h0m7 0h0m5 0h0m-14 12h1m2 0h0m3 0h0m7 0h1m-14 13h16m-16 12h16m-16 12h16m-16 12h16m-16 12h16m-16 12h16m-7 12h0m0 12h0" stroke-width="2.6"/>
<path d="M2326.5 165.5h0m5 12h0m-14 13h16m-16 12h16m-16 12h16m-16 12h16m-16 12h1m2 0h13m-16 12h16" stroke-width="3.0"/>
<path d="M2400.5 105.5h0m8 36h0m-5 12h0m4 24h0m6 0h0m2 0h1m-11 13h1m4 0h0m4 0h0m-14 12h0m3 0h2m2 0h0m2 0h2m2 0h0m2 0h1m-16 12h16m-16 12h16m-16 12h0m2 0h8m2 0h2m2 0h0m-16 12h16m-16 12h16m-15 12h7m2 0h1m2 0h0m2 0h0m-1 12h0" stroke-width="2.1"/>
<path d="M2406.5 190.5h0m4 0h0m-7 12h1m5 0h1m3 0h0m-13 12h16m-16 12h16m-13 12h1m2 0h4m2 0h1m3 0h0m-16 12h16m-16 12h16m-15 12h1m3 0h2m3 0h1" stroke-width="2.6"/>
<path d="M2410.5 190.5h0m-6 12h0m6 0h0m-10 12h16m-16 12h9m2 0h5m-12 12h0m2 0h0m2 0h2m2 0h0m-12 12h16m-16 12h16m-11 12h0m5 0h1" stroke-width="3.0"/>
<path d="M2486.5 153.5h1m6 0h0m-7 12h0m3 0h1m8 0h1m-13 12h0m6 0h2m-11 13h3m3 0h3m2 0h0m2 0h1m-14 12h16m-16 12h16m-16 12h16m-16 12h16m-16 12h16m-16 12h16m-16 12h1m3 0h0m3 0h4m2 0h3" stroke-width="2.1"/>
<path d="M2493.5 177.5h0m-10 13h3m6 0h0m2 0h0m3 0h0m-14 12h16m-16 12h16m-16 12h16m-16 12h16m-16 12h16m-16 12h16m-9 12h0m2 0h0m2 0h0m4 0h0" stroke-width="2.6"/>
<path d="M2485.5 190.5h0m12 0h0m-14 12h16m-16 12h16m-15 12h15m-16 12h16m-16 12h16m-16 12h16m-9 12h0m4 0h0" stroke-width="3.0"/>
<path d="M2567.5 105.5h0m15 36h0m-9 24h0m4 0h0m3 12h0m-13 13h0m4 0h1m2 0h1m3 0h0m3 0h0m-13 12h0m2 0h0m2 0h0m5 0h0m2 0h3m-16 12h16m-16 12h16m-16 12h0m2 0h5m6 0h1m-14 12h0m2 0h6m3 0h0m4 0h1m-16 12h16m-16 12h16m-14 12h0m3 0h0m9 0h1m-15 36h0" stroke-width="2.1"/>
<path d="M2577.5 165.5h0m3 12h0m-12 25h0m2 0h0m2 0h0m-6 12h16m-16 12h16m-14 12h0m5 0h0m6 0h1m-11 12h2m2 0h1m3 0h0m4 0h0m-15 12h13m2 0h1m-16 12h14m2 0h0" stroke-width="2.6"/>
<path d="M2570.5 202.5h0m-4 12h16m-16 12h6m2 0h8m-14 12h0m6 12h0m-8 12h13m2 0h0m-15 12h14m2 0h0" stroke-width="3.0"/>
<path d="M2650.5 141.5h0m6 24h0m0 12h0m-4 13h0m2 0h0m4 0h0m-9 12h0m3 0h0m4 0h0m2 0h0m3 0h0m-12 12h0m2 0h3m4 0h0m2 0h1m3 0h0m-14 12h3m5 0h2m2 0h0m-9 12h0m2 0h0m3 0h1m2 0h0m2 0h0m2 0h0m-10 12h0m2 0h4m-12 12h0m2 0h10m2 0h2m-16 12h8m3 0h0m2 0h0m2 0h0m-12 12h0m2 0h0m4 0h0m3 0h1m3 0h0m-14 12h0m6 0h0m3 60h0m2 97h0" stroke-width="2.1"/>
<path d="M2658.5 202.5h0m3 0h0m-12 12h0m2 0h0m7 0h0m3 0h0m-10 12h0m2 0h0m6 0h1m2 0h0m-9 12h0m10 0h0m-5 12h3m-8 12h0m3 0h1m2 0h2m2 0h0m2 0h0" stroke-width="2.6"/>
<path d="M2661.5 214.5h0m-2 12h0m4 12h0m-4 12h0m-6 12h0" stroke-width="3.0"/>
<path d="M2743.5 190.5h0m-10 12h0m0 12h0m13 0h0m-10 12h0m4 0h0m2 0h0m-7 12h0m-3 12h0m4 0h0m5 0h0m3 0h1m2 0h0m-11 12h0m2 0h0m3 0h1m3 0h0m3 0h0m-15 12h0m5 0h0m2 0h0m2 0h0m3 0h1m-2 72h0" stroke-width="2.1"/>
<path d="M2745.5 250.5h0m-9 12h0m5 0h0m-3 12h0m8 0h0" stroke-width="2.6"/>
<path d="M2736.5 262.5h0m5 0h0" stroke-width="3.0"/>
</g>
</g>
<path d="M2076 475v7M2159 475v7M2242 475v7M2325 475v7M2408 475v7M2491 475v7M2574 475v7M2657 475v7M2740 475v7M2034 455h-7M2034 395h-7M2034 334h-7M2034 274h-7M2034 214h-7M2034 153h-7M2034 93h-7" stroke="#000" stroke-width="1.67" fill="none"/>
<rect x="2034" y="37" width="747" height="438" fill="none" stroke="#000" stroke-width="1.67"/>
<text x="2076.5" y="505.7" text-anchor="middle">0</text><text x="2159.5" y="505.7" text-anchor="middle">1</text><text x="2242.5" y="505.7" text-anchor="middle">2</text><text x="2325.5" y="505.7" text-anchor="middle">3</text><text x="2408.5" y="505.7" text-anchor="middle">4</text><text x="2491.5" y="505.7" text-anchor="middle">5</text><text x="2574.5" y="505.7" text-anchor="middle">6</text><text x="2657.5" y="505.7" text-anchor="middle">7</text><text x="2740.5" y="505.7" text-anchor="middle">8</text>
<text x="2019.4" y="462.9" text-anchor="end">0.00</text><text x="2019.4" y="402.6" text-anchor="end">0.05</text><text x="2019.4" y="342.2" text-anchor="end">0.10</text><text x="2019.4" y="281.9" text-anchor="end">0.15</text><text x="2019.4" y="221.6" text-anchor="end">0.20</text><text x="2019.4" y="161.3" text-anchor="end">0.25</text><text x="2019.4" y="100.9" text-anchor="end">0.30</text>
<text x="2407.9" y="534.2" text-anchor="middle">leiden</text>
<text transform="translate(1960.8 259) rotate(-90)" text-anchor="middle">CH%</text>
</g>
</svg>
</body></html>
